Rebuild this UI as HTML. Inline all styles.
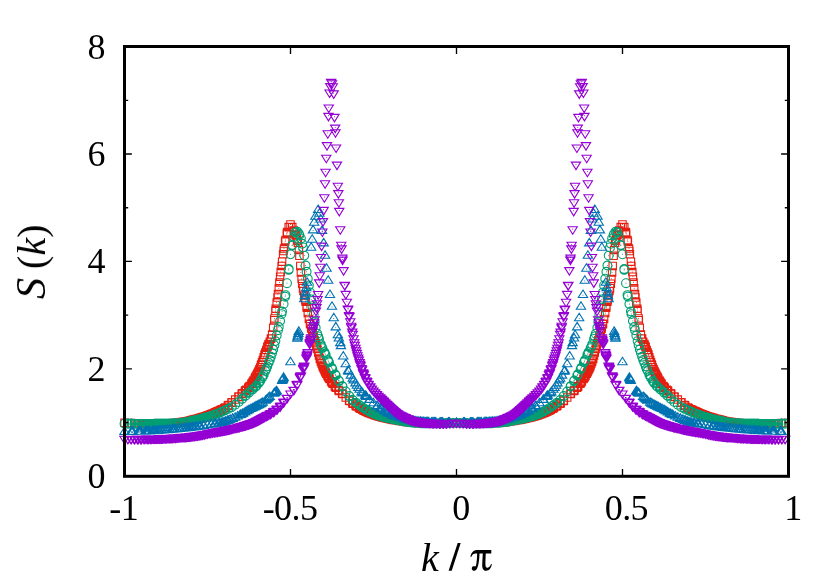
<!DOCTYPE html>
<html><head><meta charset="utf-8"><title>S(k)</title>
<style>
html,body{margin:0;padding:0;background:#fff;}
svg{display:block}
text{font-family:"Liberation Serif",serif;fill:#000}
</style></head><body>
<svg width="830" height="581" viewBox="0 0 830 581">
<rect x="0" y="0" width="830" height="581" fill="#fff"/>
<g id="data">
<path d="M120.8 419.1h7.4v7.4h-7.4zM124.1 419.3h7.4v7.4h-7.4zM124.2 419.3h7.4v7.4h-7.4zM124.3 419.3h7.4v7.4h-7.4zM124.4 419.3h7.4v7.4h-7.4zM124.5 419.3h7.4v7.4h-7.4zM127.3 419.4h7.4v7.4h-7.4zM127.5 419.4h7.4v7.4h-7.4zM127.7 419.5h7.4v7.4h-7.4zM127.9 419.5h7.4v7.4h-7.4zM128.2 419.5h7.4v7.4h-7.4zM130.6 419.6h7.4v7.4h-7.4zM130.9 419.6h7.4v7.4h-7.4zM131.2 419.6h7.4v7.4h-7.4zM131.5 419.6h7.4v7.4h-7.4zM131.9 419.6h7.4v7.4h-7.4zM133.8 419.7h7.4v7.4h-7.4zM134.2 419.7h7.4v7.4h-7.4zM134.6 419.7h7.4v7.4h-7.4zM135.1 419.7h7.4v7.4h-7.4zM135.6 419.7h7.4v7.4h-7.4zM137.1 419.8h7.4v7.4h-7.4zM137.6 419.8h7.4v7.4h-7.4zM138.1 419.8h7.4v7.4h-7.4zM138.6 419.8h7.4v7.4h-7.4zM139.2 419.8h7.4v7.4h-7.4zM140.3 419.8h7.4v7.4h-7.4zM140.9 419.8h7.4v7.4h-7.4zM141.5 419.8h7.4v7.4h-7.4zM142.2 419.8h7.4v7.4h-7.4zM142.9 419.8h7.4v7.4h-7.4zM143.6 419.8h7.4v7.4h-7.4zM144.3 419.8h7.4v7.4h-7.4zM145 419.8h7.4v7.4h-7.4zM145.8 419.8h7.4v7.4h-7.4zM146.6 419.8h7.4v7.4h-7.4zM146.8 419.8h7.4v7.4h-7.4zM147.6 419.8h7.4v7.4h-7.4zM148.5 419.8h7.4v7.4h-7.4zM149.4 419.8h7.4v7.4h-7.4zM150.1 419.8h7.4v7.4h-7.4zM150.3 419.8h7.4v7.4h-7.4zM151 419.8h7.4v7.4h-7.4zM151.9 419.8h7.4v7.4h-7.4zM152.9 419.8h7.4v7.4h-7.4zM153.3 419.8h7.4v7.4h-7.4zM154 419.8h7.4v7.4h-7.4zM154.3 419.8h7.4v7.4h-7.4zM155.4 419.8h7.4v7.4h-7.4zM156.5 419.8h7.4v7.4h-7.4zM156.6 419.8h7.4v7.4h-7.4zM157.7 419.8h7.4v7.4h-7.4zM158.8 419.8h7.4v7.4h-7.4zM159.9 419.8h7.4v7.4h-7.4zM160.1 419.8h7.4v7.4h-7.4zM161 419.8h7.4v7.4h-7.4zM161.4 419.8h7.4v7.4h-7.4zM162.3 419.8h7.4v7.4h-7.4zM163.1 419.8h7.4v7.4h-7.4zM163.6 419.7h7.4v7.4h-7.4zM164.4 419.7h7.4v7.4h-7.4zM165.1 419.7h7.4v7.4h-7.4zM165.8 419.6h7.4v7.4h-7.4zM166.4 419.6h7.4v7.4h-7.4zM167.2 419.5h7.4v7.4h-7.4zM167.7 419.5h7.4v7.4h-7.4zM168.8 419.4h7.4v7.4h-7.4zM169.2 419.4h7.4v7.4h-7.4zM169.6 419.3h7.4v7.4h-7.4zM170.8 419.2h7.4v7.4h-7.4zM171.1 419.2h7.4v7.4h-7.4zM172.4 419h7.4v7.4h-7.4zM172.7 419h7.4v7.4h-7.4zM172.9 419h7.4v7.4h-7.4zM174.3 418.8h7.4v7.4h-7.4zM174.5 418.8h7.4v7.4h-7.4zM176.1 418.6h7.4v7.4h-7.4zM177.8 418.4h7.4v7.4h-7.4zM177.9 418.4h7.4v7.4h-7.4zM179.4 418.2h7.4v7.4h-7.4zM179.6 418.1h7.4v7.4h-7.4zM179.8 418.1h7.4v7.4h-7.4zM181.2 417.9h7.4v7.4h-7.4zM181.5 417.9h7.4v7.4h-7.4zM182.6 417.7h7.4v7.4h-7.4zM183.1 417.6h7.4v7.4h-7.4zM183.5 417.5h7.4v7.4h-7.4zM184.5 417.3h7.4v7.4h-7.4zM185.1 417.2h7.4v7.4h-7.4zM185.9 417h7.4v7.4h-7.4zM186.5 416.8h7.4v7.4h-7.4zM187.2 416.6h7.4v7.4h-7.4zM187.9 416.5h7.4v7.4h-7.4zM188.6 416.3h7.4v7.4h-7.4zM189.2 416.1h7.4v7.4h-7.4zM190 415.9h7.4v7.4h-7.4zM190.9 415.7h7.4v7.4h-7.4zM191.2 415.6h7.4v7.4h-7.4zM192.2 415.3h7.4v7.4h-7.4zM192.4 415.3h7.4v7.4h-7.4zM193.4 415h7.4v7.4h-7.4zM194.6 414.7h7.4v7.4h-7.4zM195.7 414.4h7.4v7.4h-7.4zM195.8 414.4h7.4v7.4h-7.4zM196.9 414h7.4v7.4h-7.4zM197.9 413.7h7.4v7.4h-7.4zM198.3 413.6h7.4v7.4h-7.4zM198.9 413.5h7.4v7.4h-7.4zM199.3 413.3h7.4v7.4h-7.4zM200.3 413h7.4v7.4h-7.4zM201.3 412.7h7.4v7.4h-7.4zM202 412.5h7.4v7.4h-7.4zM202.2 412.5h7.4v7.4h-7.4zM202.9 412.2h7.4v7.4h-7.4zM203.8 411.9h7.4v7.4h-7.4zM204.6 411.6h7.4v7.4h-7.4zM205.4 411.3h7.4v7.4h-7.4zM205.6 411.3h7.4v7.4h-7.4zM206.5 410.9h7.4v7.4h-7.4zM207.3 410.6h7.4v7.4h-7.4zM208 410.3h7.4v7.4h-7.4zM208.7 410h7.4v7.4h-7.4zM209.3 409.8h7.4v7.4h-7.4zM210 409.5h7.4v7.4h-7.4zM210.7 409.2h7.4v7.4h-7.4zM211.3 408.9h7.4v7.4h-7.4zM211.9 408.6h7.4v7.4h-7.4zM213 408.1h7.4v7.4h-7.4zM213.6 407.8h7.4v7.4h-7.4zM214.2 407.6h7.4v7.4h-7.4zM214.7 407.3h7.4v7.4h-7.4zM215.2 407.1h7.4v7.4h-7.4zM216.7 406.4h7.4v7.4h-7.4zM217.2 406.2h7.4v7.4h-7.4zM217.6 406h7.4v7.4h-7.4zM218.1 405.8h7.4v7.4h-7.4zM218.4 405.6h7.4v7.4h-7.4zM220.4 404.6h7.4v7.4h-7.4zM220.8 404.4h7.4v7.4h-7.4zM221.1 404.2h7.4v7.4h-7.4zM221.4 404h7.4v7.4h-7.4zM221.7 403.8h7.4v7.4h-7.4zM224.1 402h7.4v7.4h-7.4zM224.3 401.8h7.4v7.4h-7.4zM224.5 401.6h7.4v7.4h-7.4zM224.8 401.5h7.4v7.4h-7.4zM225 401.3h7.4v7.4h-7.4zM227.8 399h7.4v7.4h-7.4zM227.9 398.9h7.4v7.4h-7.4zM228 398.8h7.4v7.4h-7.4zM228.1 398.7h7.4v7.4h-7.4zM228.2 398.6h7.4v7.4h-7.4zM231.5 395.9h7.4v7.4h-7.4zM234.7 393.2h7.4v7.4h-7.4zM234.8 393.1h7.4v7.4h-7.4zM234.9 393h7.4v7.4h-7.4zM235 392.9h7.4v7.4h-7.4zM235.2 392.8h7.4v7.4h-7.4zM238 390.3h7.4v7.4h-7.4zM238.2 390.2h7.4v7.4h-7.4zM238.4 390h7.4v7.4h-7.4zM238.6 389.8h7.4v7.4h-7.4zM238.8 389.6h7.4v7.4h-7.4zM241.2 387.4h7.4v7.4h-7.4zM241.5 387.1h7.4v7.4h-7.4zM241.8 386.8h7.4v7.4h-7.4zM242.2 386.5h7.4v7.4h-7.4zM242.5 386.1h7.4v7.4h-7.4zM244.5 384.2h7.4v7.4h-7.4zM244.9 383.8h7.4v7.4h-7.4zM245.3 383.4h7.4v7.4h-7.4zM245.7 382.9h7.4v7.4h-7.4zM246.2 382.3h7.4v7.4h-7.4zM247.7 380.3h7.4v7.4h-7.4zM248.2 379.6h7.4v7.4h-7.4zM248.8 378.8h7.4v7.4h-7.4zM249.3 377.9h7.4v7.4h-7.4zM249.9 376.9h7.4v7.4h-7.4zM251 375h7.4v7.4h-7.4zM251.6 373.9h7.4v7.4h-7.4zM252.2 372.7h7.4v7.4h-7.4zM252.9 371.4h7.4v7.4h-7.4zM253.6 370h7.4v7.4h-7.4zM254.3 368.7h7.4v7.4h-7.4zM254.9 367.2h7.4v7.4h-7.4zM255.7 365.5h7.4v7.4h-7.4zM256.5 363.7h7.4v7.4h-7.4zM257.3 361.5h7.4v7.4h-7.4zM257.5 360.9h7.4v7.4h-7.4zM258.3 358.6h7.4v7.4h-7.4zM259.1 356.2h7.4v7.4h-7.4zM260 353.6h7.4v7.4h-7.4zM260.8 351.4h7.4v7.4h-7.4zM261 350.8h7.4v7.4h-7.4zM261.6 348.9h7.4v7.4h-7.4zM262.6 346.2h7.4v7.4h-7.4zM263.6 343.5h7.4v7.4h-7.4zM264 342.6h7.4v7.4h-7.4zM264.7 341.1h7.4v7.4h-7.4zM265 340.4h7.4v7.4h-7.4zM266.1 338h7.4v7.4h-7.4zM267.2 335h7.4v7.4h-7.4zM267.3 334.7h7.4v7.4h-7.4zM268.4 330.9h7.4v7.4h-7.4zM269.5 324.1h7.4v7.4h-7.4zM270.5 316.5h7.4v7.4h-7.4zM270.7 314.7h7.4v7.4h-7.4zM271.7 307.4h7.4v7.4h-7.4zM272 305h7.4v7.4h-7.4zM273 298.9h7.4v7.4h-7.4zM273.8 293.8h7.4v7.4h-7.4zM274.3 290.4h7.4v7.4h-7.4zM275.1 284.6h7.4v7.4h-7.4zM275.7 278.7h7.4v7.4h-7.4zM276.4 273h7.4v7.4h-7.4zM277 268.4h7.4v7.4h-7.4zM277.9 262.2h7.4v7.4h-7.4zM278.4 258h7.4v7.4h-7.4zM279.4 250.5h7.4v7.4h-7.4zM279.9 247.3h7.4v7.4h-7.4zM280.3 244.7h7.4v7.4h-7.4zM281.4 238h7.4v7.4h-7.4zM281.8 236.3h7.4v7.4h-7.4zM283.1 230.2h7.4v7.4h-7.4zM283.3 229.2h7.4v7.4h-7.4zM283.5 228.4h7.4v7.4h-7.4zM285 223.5h7.4v7.4h-7.4zM285.1 223.3h7.4v7.4h-7.4zM286.8 220.8h7.4v7.4h-7.4zM288.5 223.3h7.4v7.4h-7.4zM288.6 223.5h7.4v7.4h-7.4zM290.1 226.9h7.4v7.4h-7.4zM290.3 227.5h7.4v7.4h-7.4zM290.5 228h7.4v7.4h-7.4zM291.8 231.1h7.4v7.4h-7.4zM292.2 231.9h7.4v7.4h-7.4zM293.3 235.5h7.4v7.4h-7.4zM293.7 237h7.4v7.4h-7.4zM294.2 239h7.4v7.4h-7.4zM295.2 246.2h7.4v7.4h-7.4zM295.7 252.1h7.4v7.4h-7.4zM296.6 262.2h7.4v7.4h-7.4zM297.2 268.7h7.4v7.4h-7.4zM297.9 275.2h7.4v7.4h-7.4zM298.5 280h7.4v7.4h-7.4zM299.3 284.5h7.4v7.4h-7.4zM299.8 287.4h7.4v7.4h-7.4zM300.6 291.7h7.4v7.4h-7.4zM301.6 296.3h7.4v7.4h-7.4zM301.9 298h7.4v7.4h-7.4zM302.9 303h7.4v7.4h-7.4zM303.1 304.1h7.4v7.4h-7.4zM304.1 309.3h7.4v7.4h-7.4zM305.2 315.2h7.4v7.4h-7.4zM306.3 320h7.4v7.4h-7.4zM306.4 320.5h7.4v7.4h-7.4zM307.5 324.8h7.4v7.4h-7.4zM308.6 328.6h7.4v7.4h-7.4zM308.9 329.8h7.4v7.4h-7.4zM309.6 332h7.4v7.4h-7.4zM310 333.3h7.4v7.4h-7.4zM311 336.5h7.4v7.4h-7.4zM312 339.5h7.4v7.4h-7.4zM312.6 341.7h7.4v7.4h-7.4zM312.8 342.5h7.4v7.4h-7.4zM313.6 345.2h7.4v7.4h-7.4zM314.5 348.7h7.4v7.4h-7.4zM315.3 351.9h7.4v7.4h-7.4zM316.1 354.7h7.4v7.4h-7.4zM316.3 355.3h7.4v7.4h-7.4zM317.1 357.8h7.4v7.4h-7.4zM317.9 359.9h7.4v7.4h-7.4zM318.7 361.8h7.4v7.4h-7.4zM319.3 363.5h7.4v7.4h-7.4zM320 364.9h7.4v7.4h-7.4zM320.7 366.4h7.4v7.4h-7.4zM321.4 367.8h7.4v7.4h-7.4zM322 368.9h7.4v7.4h-7.4zM322.6 370h7.4v7.4h-7.4zM323.7 371.8h7.4v7.4h-7.4zM324.3 372.8h7.4v7.4h-7.4zM324.8 373.7h7.4v7.4h-7.4zM325.4 374.5h7.4v7.4h-7.4zM325.9 375.3h7.4v7.4h-7.4zM327.4 377.6h7.4v7.4h-7.4zM327.9 378.3h7.4v7.4h-7.4zM328.3 378.9h7.4v7.4h-7.4zM328.7 379.5h7.4v7.4h-7.4zM329.1 380h7.4v7.4h-7.4zM331.1 382.6h7.4v7.4h-7.4zM331.4 383h7.4v7.4h-7.4zM331.8 383.4h7.4v7.4h-7.4zM332.1 383.8h7.4v7.4h-7.4zM332.4 384.1h7.4v7.4h-7.4zM334.8 386.5h7.4v7.4h-7.4zM335 386.7h7.4v7.4h-7.4zM335.2 386.9h7.4v7.4h-7.4zM335.4 387h7.4v7.4h-7.4zM335.6 387.2h7.4v7.4h-7.4zM338.4 389.9h7.4v7.4h-7.4zM338.6 390.1h7.4v7.4h-7.4zM338.7 390.2h7.4v7.4h-7.4zM338.8 390.3h7.4v7.4h-7.4zM338.9 390.4h7.4v7.4h-7.4zM342.1 393.8h7.4v7.4h-7.4zM345.4 396.9h7.4v7.4h-7.4zM345.5 396.9h7.4v7.4h-7.4zM345.6 397h7.4v7.4h-7.4zM345.7 397.1h7.4v7.4h-7.4zM345.8 397.2h7.4v7.4h-7.4zM348.6 399.5h7.4v7.4h-7.4zM348.8 399.6h7.4v7.4h-7.4zM349.1 399.8h7.4v7.4h-7.4zM349.3 400h7.4v7.4h-7.4zM349.5 400.1h7.4v7.4h-7.4zM351.9 401.8h7.4v7.4h-7.4zM352.2 402h7.4v7.4h-7.4zM352.5 402.3h7.4v7.4h-7.4zM352.8 402.5h7.4v7.4h-7.4zM353.2 402.7h7.4v7.4h-7.4zM355.2 403.9h7.4v7.4h-7.4zM355.5 404.2h7.4v7.4h-7.4zM356 404.4h7.4v7.4h-7.4zM356.4 404.7h7.4v7.4h-7.4zM356.9 405h7.4v7.4h-7.4zM358.4 405.9h7.4v7.4h-7.4zM358.9 406.1h7.4v7.4h-7.4zM359.4 406.4h7.4v7.4h-7.4zM360 406.7h7.4v7.4h-7.4zM360.6 407h7.4v7.4h-7.4zM361.7 407.6h7.4v7.4h-7.4zM362.3 407.8h7.4v7.4h-7.4zM362.9 408.1h7.4v7.4h-7.4zM363.6 408.4h7.4v7.4h-7.4zM364.3 408.7h7.4v7.4h-7.4zM364.9 409h7.4v7.4h-7.4zM365.6 409.3h7.4v7.4h-7.4zM366.3 409.6h7.4v7.4h-7.4zM367.1 409.9h7.4v7.4h-7.4zM368 410.2h7.4v7.4h-7.4zM368.2 410.3h7.4v7.4h-7.4zM369 410.6h7.4v7.4h-7.4zM369.8 410.9h7.4v7.4h-7.4zM370.7 411.2h7.4v7.4h-7.4zM371.4 411.4h7.4v7.4h-7.4zM371.6 411.5h7.4v7.4h-7.4zM372.3 411.7h7.4v7.4h-7.4zM373.3 412.1h7.4v7.4h-7.4zM374.3 412.4h7.4v7.4h-7.4zM374.7 412.5h7.4v7.4h-7.4zM375.3 412.7h7.4v7.4h-7.4zM375.7 412.8h7.4v7.4h-7.4zM376.7 413.1h7.4v7.4h-7.4zM377.8 413.4h7.4v7.4h-7.4zM377.9 413.5h7.4v7.4h-7.4zM379 413.8h7.4v7.4h-7.4zM380.2 414h7.4v7.4h-7.4zM381.2 414.3h7.4v7.4h-7.4zM381.4 414.3h7.4v7.4h-7.4zM382.4 414.6h7.4v7.4h-7.4zM382.7 414.6h7.4v7.4h-7.4zM383.6 414.9h7.4v7.4h-7.4zM384.4 415h7.4v7.4h-7.4zM385 415.1h7.4v7.4h-7.4zM385.7 415.3h7.4v7.4h-7.4zM386.4 415.4h7.4v7.4h-7.4zM387.1 415.6h7.4v7.4h-7.4zM387.7 415.7h7.4v7.4h-7.4zM388.5 415.9h7.4v7.4h-7.4zM389.1 416h7.4v7.4h-7.4zM390.1 416.2h7.4v7.4h-7.4zM390.5 416.3h7.4v7.4h-7.4zM391 416.3h7.4v7.4h-7.4zM392.1 416.5h7.4v7.4h-7.4zM392.4 416.6h7.4v7.4h-7.4zM393.8 416.8h7.4v7.4h-7.4zM394 416.9h7.4v7.4h-7.4zM394.2 416.9h7.4v7.4h-7.4zM395.7 417.2h7.4v7.4h-7.4zM395.8 417.2h7.4v7.4h-7.4zM397.5 417.4h7.4v7.4h-7.4zM399.1 417.7h7.4v7.4h-7.4zM399.3 417.7h7.4v7.4h-7.4zM400.7 417.9h7.4v7.4h-7.4zM400.9 417.9h7.4v7.4h-7.4zM401.2 418h7.4v7.4h-7.4zM402.5 418.2h7.4v7.4h-7.4zM402.8 418.2h7.4v7.4h-7.4zM404 418.4h7.4v7.4h-7.4zM404.4 418.4h7.4v7.4h-7.4zM404.8 418.5h7.4v7.4h-7.4zM405.9 418.6h7.4v7.4h-7.4zM406.4 418.6h7.4v7.4h-7.4zM407.2 418.7h7.4v7.4h-7.4zM407.8 418.8h7.4v7.4h-7.4zM408.5 418.8h7.4v7.4h-7.4zM409.2 418.9h7.4v7.4h-7.4zM410 418.9h7.4v7.4h-7.4zM410.5 419h7.4v7.4h-7.4zM411.3 419h7.4v7.4h-7.4zM412.2 419.1h7.4v7.4h-7.4zM412.6 419.1h7.4v7.4h-7.4zM413.5 419.2h7.4v7.4h-7.4zM413.7 419.2h7.4v7.4h-7.4zM414.8 419.2h7.4v7.4h-7.4zM415.9 419.3h7.4v7.4h-7.4zM417 419.4h7.4v7.4h-7.4zM417.1 419.4h7.4v7.4h-7.4zM418.2 419.4h7.4v7.4h-7.4zM419.3 419.5h7.4v7.4h-7.4zM419.6 419.5h7.4v7.4h-7.4zM420.3 419.5h7.4v7.4h-7.4zM420.7 419.5h7.4v7.4h-7.4zM421.7 419.5h7.4v7.4h-7.4zM422.6 419.5h7.4v7.4h-7.4zM423.3 419.5h7.4v7.4h-7.4zM423.5 419.5h7.4v7.4h-7.4zM424.2 419.5h7.4v7.4h-7.4zM425.1 419.5h7.4v7.4h-7.4zM426 419.5h7.4v7.4h-7.4zM426.8 419.5h7.4v7.4h-7.4zM427 419.5h7.4v7.4h-7.4zM427.8 419.5h7.4v7.4h-7.4zM428.6 419.5h7.4v7.4h-7.4zM429.3 419.5h7.4v7.4h-7.4zM430 419.5h7.4v7.4h-7.4zM430.7 419.5h7.4v7.4h-7.4zM431.4 419.5h7.4v7.4h-7.4zM432.1 419.5h7.4v7.4h-7.4zM432.7 419.5h7.4v7.4h-7.4zM433.3 419.5h7.4v7.4h-7.4zM434.4 419.5h7.4v7.4h-7.4zM435 419.5h7.4v7.4h-7.4zM435.5 419.5h7.4v7.4h-7.4zM436 419.5h7.4v7.4h-7.4zM436.5 419.5h7.4v7.4h-7.4zM438 419.5h7.4v7.4h-7.4zM438.5 419.5h7.4v7.4h-7.4zM439 419.5h7.4v7.4h-7.4zM439.4 419.5h7.4v7.4h-7.4zM439.8 419.5h7.4v7.4h-7.4zM441.7 419.5h7.4v7.4h-7.4zM442.1 419.5h7.4v7.4h-7.4zM442.4 419.5h7.4v7.4h-7.4zM442.7 419.5h7.4v7.4h-7.4zM443 419.5h7.4v7.4h-7.4zM445.4 419.4h7.4v7.4h-7.4zM445.7 419.4h7.4v7.4h-7.4zM445.9 419.4h7.4v7.4h-7.4zM446.1 419.4h7.4v7.4h-7.4zM446.3 419.4h7.4v7.4h-7.4zM449.1 419.4h7.4v7.4h-7.4zM449.2 419.4h7.4v7.4h-7.4zM449.3 419.4h7.4v7.4h-7.4zM449.4 419.4h7.4v7.4h-7.4zM449.5 419.4h7.4v7.4h-7.4zM452.8 419.3h7.4v7.4h-7.4zM456.1 419.4h7.4v7.4h-7.4zM456.2 419.4h7.4v7.4h-7.4zM456.3 419.4h7.4v7.4h-7.4zM456.4 419.4h7.4v7.4h-7.4zM456.5 419.4h7.4v7.4h-7.4zM459.3 419.4h7.4v7.4h-7.4zM459.5 419.4h7.4v7.4h-7.4zM459.7 419.4h7.4v7.4h-7.4zM459.9 419.4h7.4v7.4h-7.4zM460.2 419.4h7.4v7.4h-7.4zM462.6 419.5h7.4v7.4h-7.4zM462.9 419.5h7.4v7.4h-7.4zM463.2 419.5h7.4v7.4h-7.4zM463.5 419.5h7.4v7.4h-7.4zM463.9 419.5h7.4v7.4h-7.4zM465.8 419.5h7.4v7.4h-7.4zM466.2 419.5h7.4v7.4h-7.4zM466.6 419.5h7.4v7.4h-7.4zM467.1 419.5h7.4v7.4h-7.4zM467.6 419.5h7.4v7.4h-7.4zM469.1 419.5h7.4v7.4h-7.4zM469.6 419.5h7.4v7.4h-7.4zM470.1 419.5h7.4v7.4h-7.4zM470.6 419.5h7.4v7.4h-7.4zM471.2 419.5h7.4v7.4h-7.4zM472.3 419.5h7.4v7.4h-7.4zM472.9 419.5h7.4v7.4h-7.4zM473.5 419.5h7.4v7.4h-7.4zM474.2 419.5h7.4v7.4h-7.4zM474.9 419.5h7.4v7.4h-7.4zM475.6 419.5h7.4v7.4h-7.4zM476.3 419.5h7.4v7.4h-7.4zM477 419.5h7.4v7.4h-7.4zM477.8 419.5h7.4v7.4h-7.4zM478.6 419.5h7.4v7.4h-7.4zM478.8 419.5h7.4v7.4h-7.4zM479.6 419.5h7.4v7.4h-7.4zM480.5 419.5h7.4v7.4h-7.4zM481.4 419.5h7.4v7.4h-7.4zM482.1 419.5h7.4v7.4h-7.4zM482.3 419.5h7.4v7.4h-7.4zM483 419.5h7.4v7.4h-7.4zM483.9 419.5h7.4v7.4h-7.4zM484.9 419.5h7.4v7.4h-7.4zM485.3 419.5h7.4v7.4h-7.4zM486 419.5h7.4v7.4h-7.4zM486.3 419.5h7.4v7.4h-7.4zM487.4 419.4h7.4v7.4h-7.4zM488.5 419.4h7.4v7.4h-7.4zM488.6 419.4h7.4v7.4h-7.4zM489.7 419.3h7.4v7.4h-7.4zM490.8 419.2h7.4v7.4h-7.4zM491.9 419.2h7.4v7.4h-7.4zM492.1 419.2h7.4v7.4h-7.4zM493 419.1h7.4v7.4h-7.4zM493.4 419.1h7.4v7.4h-7.4zM494.3 419h7.4v7.4h-7.4zM495.1 419h7.4v7.4h-7.4zM495.6 418.9h7.4v7.4h-7.4zM496.4 418.9h7.4v7.4h-7.4zM497.1 418.8h7.4v7.4h-7.4zM497.8 418.8h7.4v7.4h-7.4zM498.4 418.7h7.4v7.4h-7.4zM499.2 418.6h7.4v7.4h-7.4zM499.7 418.6h7.4v7.4h-7.4zM500.8 418.5h7.4v7.4h-7.4zM501.2 418.4h7.4v7.4h-7.4zM501.6 418.4h7.4v7.4h-7.4zM502.8 418.2h7.4v7.4h-7.4zM503.1 418.2h7.4v7.4h-7.4zM504.4 418h7.4v7.4h-7.4zM504.7 417.9h7.4v7.4h-7.4zM504.9 417.9h7.4v7.4h-7.4zM506.3 417.7h7.4v7.4h-7.4zM506.5 417.7h7.4v7.4h-7.4zM508.1 417.4h7.4v7.4h-7.4zM509.8 417.2h7.4v7.4h-7.4zM509.9 417.2h7.4v7.4h-7.4zM511.4 416.9h7.4v7.4h-7.4zM511.6 416.9h7.4v7.4h-7.4zM511.8 416.8h7.4v7.4h-7.4zM513.2 416.6h7.4v7.4h-7.4zM513.5 416.5h7.4v7.4h-7.4zM514.6 416.3h7.4v7.4h-7.4zM515.1 416.3h7.4v7.4h-7.4zM515.5 416.2h7.4v7.4h-7.4zM516.5 416h7.4v7.4h-7.4zM517.1 415.9h7.4v7.4h-7.4zM517.9 415.7h7.4v7.4h-7.4zM518.5 415.6h7.4v7.4h-7.4zM519.2 415.4h7.4v7.4h-7.4zM519.9 415.3h7.4v7.4h-7.4zM520.6 415.1h7.4v7.4h-7.4zM521.2 415h7.4v7.4h-7.4zM522 414.9h7.4v7.4h-7.4zM522.9 414.6h7.4v7.4h-7.4zM523.2 414.6h7.4v7.4h-7.4zM524.2 414.3h7.4v7.4h-7.4zM524.4 414.3h7.4v7.4h-7.4zM525.4 414h7.4v7.4h-7.4zM526.6 413.8h7.4v7.4h-7.4zM527.7 413.5h7.4v7.4h-7.4zM527.8 413.4h7.4v7.4h-7.4zM528.9 413.1h7.4v7.4h-7.4zM529.9 412.8h7.4v7.4h-7.4zM530.3 412.7h7.4v7.4h-7.4zM530.9 412.5h7.4v7.4h-7.4zM531.3 412.4h7.4v7.4h-7.4zM532.3 412.1h7.4v7.4h-7.4zM533.3 411.7h7.4v7.4h-7.4zM534 411.5h7.4v7.4h-7.4zM534.2 411.4h7.4v7.4h-7.4zM534.9 411.2h7.4v7.4h-7.4zM535.8 410.9h7.4v7.4h-7.4zM536.6 410.6h7.4v7.4h-7.4zM537.4 410.3h7.4v7.4h-7.4zM537.6 410.2h7.4v7.4h-7.4zM538.5 409.9h7.4v7.4h-7.4zM539.3 409.6h7.4v7.4h-7.4zM540 409.3h7.4v7.4h-7.4zM540.7 409h7.4v7.4h-7.4zM541.3 408.7h7.4v7.4h-7.4zM542 408.4h7.4v7.4h-7.4zM542.7 408.1h7.4v7.4h-7.4zM543.3 407.8h7.4v7.4h-7.4zM543.9 407.6h7.4v7.4h-7.4zM545 407h7.4v7.4h-7.4zM545.6 406.7h7.4v7.4h-7.4zM546.2 406.4h7.4v7.4h-7.4zM546.7 406.1h7.4v7.4h-7.4zM547.2 405.9h7.4v7.4h-7.4zM548.7 405h7.4v7.4h-7.4zM549.2 404.7h7.4v7.4h-7.4zM549.6 404.4h7.4v7.4h-7.4zM550.1 404.2h7.4v7.4h-7.4zM550.4 403.9h7.4v7.4h-7.4zM552.4 402.7h7.4v7.4h-7.4zM552.8 402.5h7.4v7.4h-7.4zM553.1 402.3h7.4v7.4h-7.4zM553.4 402h7.4v7.4h-7.4zM553.7 401.8h7.4v7.4h-7.4zM556.1 400.1h7.4v7.4h-7.4zM556.3 400h7.4v7.4h-7.4zM556.5 399.8h7.4v7.4h-7.4zM556.8 399.6h7.4v7.4h-7.4zM557 399.5h7.4v7.4h-7.4zM559.8 397.2h7.4v7.4h-7.4zM559.9 397.1h7.4v7.4h-7.4zM560 397h7.4v7.4h-7.4zM560.1 396.9h7.4v7.4h-7.4zM560.2 396.9h7.4v7.4h-7.4zM563.5 393.8h7.4v7.4h-7.4zM566.7 390.4h7.4v7.4h-7.4zM566.8 390.3h7.4v7.4h-7.4zM566.9 390.2h7.4v7.4h-7.4zM567 390.1h7.4v7.4h-7.4zM567.2 389.9h7.4v7.4h-7.4zM570 387.2h7.4v7.4h-7.4zM570.2 387h7.4v7.4h-7.4zM570.4 386.9h7.4v7.4h-7.4zM570.6 386.7h7.4v7.4h-7.4zM570.8 386.5h7.4v7.4h-7.4zM573.2 384.1h7.4v7.4h-7.4zM573.5 383.8h7.4v7.4h-7.4zM573.8 383.4h7.4v7.4h-7.4zM574.2 383h7.4v7.4h-7.4zM574.5 382.6h7.4v7.4h-7.4zM576.5 380h7.4v7.4h-7.4zM576.9 379.5h7.4v7.4h-7.4zM577.3 378.9h7.4v7.4h-7.4zM577.7 378.3h7.4v7.4h-7.4zM578.2 377.6h7.4v7.4h-7.4zM579.7 375.3h7.4v7.4h-7.4zM580.2 374.5h7.4v7.4h-7.4zM580.8 373.7h7.4v7.4h-7.4zM581.3 372.8h7.4v7.4h-7.4zM581.9 371.8h7.4v7.4h-7.4zM583 370h7.4v7.4h-7.4zM583.6 368.9h7.4v7.4h-7.4zM584.2 367.8h7.4v7.4h-7.4zM584.9 366.4h7.4v7.4h-7.4zM585.6 364.9h7.4v7.4h-7.4zM586.3 363.5h7.4v7.4h-7.4zM586.9 361.8h7.4v7.4h-7.4zM587.7 359.9h7.4v7.4h-7.4zM588.5 357.8h7.4v7.4h-7.4zM589.3 355.3h7.4v7.4h-7.4zM589.5 354.7h7.4v7.4h-7.4zM590.3 351.9h7.4v7.4h-7.4zM591.1 348.7h7.4v7.4h-7.4zM592 345.2h7.4v7.4h-7.4zM592.8 342.5h7.4v7.4h-7.4zM593 341.7h7.4v7.4h-7.4zM593.6 339.5h7.4v7.4h-7.4zM594.6 336.5h7.4v7.4h-7.4zM595.6 333.3h7.4v7.4h-7.4zM596 332h7.4v7.4h-7.4zM596.7 329.8h7.4v7.4h-7.4zM597 328.6h7.4v7.4h-7.4zM598.1 324.8h7.4v7.4h-7.4zM599.2 320.5h7.4v7.4h-7.4zM599.3 320h7.4v7.4h-7.4zM600.4 315.2h7.4v7.4h-7.4zM601.5 309.3h7.4v7.4h-7.4zM602.5 304.1h7.4v7.4h-7.4zM602.7 303h7.4v7.4h-7.4zM603.7 298h7.4v7.4h-7.4zM604 296.3h7.4v7.4h-7.4zM605 291.7h7.4v7.4h-7.4zM605.8 287.4h7.4v7.4h-7.4zM606.3 284.5h7.4v7.4h-7.4zM607.1 280h7.4v7.4h-7.4zM607.7 275.2h7.4v7.4h-7.4zM608.4 268.7h7.4v7.4h-7.4zM609 262.2h7.4v7.4h-7.4zM609.9 252.1h7.4v7.4h-7.4zM610.4 246.2h7.4v7.4h-7.4zM611.4 239h7.4v7.4h-7.4zM611.9 237h7.4v7.4h-7.4zM612.3 235.5h7.4v7.4h-7.4zM613.4 231.9h7.4v7.4h-7.4zM613.8 231.1h7.4v7.4h-7.4zM615.1 228h7.4v7.4h-7.4zM615.3 227.5h7.4v7.4h-7.4zM615.5 226.9h7.4v7.4h-7.4zM617 223.5h7.4v7.4h-7.4zM617.1 223.3h7.4v7.4h-7.4zM618.8 220.8h7.4v7.4h-7.4zM620.5 223.3h7.4v7.4h-7.4zM620.6 223.5h7.4v7.4h-7.4zM622.1 228.4h7.4v7.4h-7.4zM622.3 229.2h7.4v7.4h-7.4zM622.5 230.2h7.4v7.4h-7.4zM623.8 236.3h7.4v7.4h-7.4zM624.2 238h7.4v7.4h-7.4zM625.3 244.7h7.4v7.4h-7.4zM625.7 247.3h7.4v7.4h-7.4zM626.2 250.5h7.4v7.4h-7.4zM627.2 258h7.4v7.4h-7.4zM627.7 262.2h7.4v7.4h-7.4zM628.6 268.4h7.4v7.4h-7.4zM629.2 273h7.4v7.4h-7.4zM629.9 278.7h7.4v7.4h-7.4zM630.5 284.6h7.4v7.4h-7.4zM631.3 290.4h7.4v7.4h-7.4zM631.8 293.8h7.4v7.4h-7.4zM632.6 298.9h7.4v7.4h-7.4zM633.6 305h7.4v7.4h-7.4zM633.9 307.4h7.4v7.4h-7.4zM634.9 314.7h7.4v7.4h-7.4zM635.1 316.5h7.4v7.4h-7.4zM636.1 324.1h7.4v7.4h-7.4zM637.2 330.9h7.4v7.4h-7.4zM638.3 334.7h7.4v7.4h-7.4zM638.4 335h7.4v7.4h-7.4zM639.5 338h7.4v7.4h-7.4zM640.6 340.4h7.4v7.4h-7.4zM640.9 341.1h7.4v7.4h-7.4zM641.6 342.6h7.4v7.4h-7.4zM642 343.5h7.4v7.4h-7.4zM643 346.2h7.4v7.4h-7.4zM644 348.9h7.4v7.4h-7.4zM644.6 350.8h7.4v7.4h-7.4zM644.8 351.4h7.4v7.4h-7.4zM645.6 353.6h7.4v7.4h-7.4zM646.5 356.2h7.4v7.4h-7.4zM647.3 358.6h7.4v7.4h-7.4zM648.1 360.9h7.4v7.4h-7.4zM648.3 361.5h7.4v7.4h-7.4zM649.1 363.7h7.4v7.4h-7.4zM649.9 365.5h7.4v7.4h-7.4zM650.7 367.2h7.4v7.4h-7.4zM651.3 368.7h7.4v7.4h-7.4zM652 370h7.4v7.4h-7.4zM652.7 371.4h7.4v7.4h-7.4zM653.4 372.7h7.4v7.4h-7.4zM654 373.9h7.4v7.4h-7.4zM654.6 375h7.4v7.4h-7.4zM655.7 376.9h7.4v7.4h-7.4zM656.3 377.9h7.4v7.4h-7.4zM656.8 378.8h7.4v7.4h-7.4zM657.4 379.6h7.4v7.4h-7.4zM657.9 380.3h7.4v7.4h-7.4zM659.4 382.3h7.4v7.4h-7.4zM659.9 382.9h7.4v7.4h-7.4zM660.3 383.4h7.4v7.4h-7.4zM660.7 383.8h7.4v7.4h-7.4zM661.1 384.2h7.4v7.4h-7.4zM663.1 386.1h7.4v7.4h-7.4zM663.4 386.5h7.4v7.4h-7.4zM663.8 386.8h7.4v7.4h-7.4zM664.1 387.1h7.4v7.4h-7.4zM664.4 387.4h7.4v7.4h-7.4zM666.8 389.6h7.4v7.4h-7.4zM667 389.8h7.4v7.4h-7.4zM667.2 390h7.4v7.4h-7.4zM667.4 390.2h7.4v7.4h-7.4zM667.6 390.3h7.4v7.4h-7.4zM670.4 392.8h7.4v7.4h-7.4zM670.6 392.9h7.4v7.4h-7.4zM670.7 393h7.4v7.4h-7.4zM670.8 393.1h7.4v7.4h-7.4zM670.9 393.2h7.4v7.4h-7.4zM674.1 395.9h7.4v7.4h-7.4zM677.4 398.6h7.4v7.4h-7.4zM677.5 398.7h7.4v7.4h-7.4zM677.6 398.8h7.4v7.4h-7.4zM677.7 398.9h7.4v7.4h-7.4zM677.8 399h7.4v7.4h-7.4zM680.6 401.3h7.4v7.4h-7.4zM680.8 401.5h7.4v7.4h-7.4zM681.1 401.6h7.4v7.4h-7.4zM681.3 401.8h7.4v7.4h-7.4zM681.5 402h7.4v7.4h-7.4zM683.9 403.8h7.4v7.4h-7.4zM684.2 404h7.4v7.4h-7.4zM684.5 404.2h7.4v7.4h-7.4zM684.8 404.4h7.4v7.4h-7.4zM685.2 404.6h7.4v7.4h-7.4zM687.2 405.6h7.4v7.4h-7.4zM687.5 405.8h7.4v7.4h-7.4zM688 406h7.4v7.4h-7.4zM688.4 406.2h7.4v7.4h-7.4zM688.9 406.4h7.4v7.4h-7.4zM690.4 407.1h7.4v7.4h-7.4zM690.9 407.3h7.4v7.4h-7.4zM691.4 407.6h7.4v7.4h-7.4zM692 407.8h7.4v7.4h-7.4zM692.6 408.1h7.4v7.4h-7.4zM693.7 408.6h7.4v7.4h-7.4zM694.3 408.9h7.4v7.4h-7.4zM694.9 409.2h7.4v7.4h-7.4zM695.6 409.5h7.4v7.4h-7.4zM696.3 409.8h7.4v7.4h-7.4zM696.9 410h7.4v7.4h-7.4zM697.6 410.3h7.4v7.4h-7.4zM698.3 410.6h7.4v7.4h-7.4zM699.1 410.9h7.4v7.4h-7.4zM700 411.3h7.4v7.4h-7.4zM700.2 411.3h7.4v7.4h-7.4zM701 411.6h7.4v7.4h-7.4zM701.8 411.9h7.4v7.4h-7.4zM702.7 412.2h7.4v7.4h-7.4zM703.4 412.5h7.4v7.4h-7.4zM703.6 412.5h7.4v7.4h-7.4zM704.3 412.7h7.4v7.4h-7.4zM705.3 413h7.4v7.4h-7.4zM706.3 413.3h7.4v7.4h-7.4zM706.7 413.5h7.4v7.4h-7.4zM707.3 413.6h7.4v7.4h-7.4zM707.7 413.7h7.4v7.4h-7.4zM708.7 414h7.4v7.4h-7.4zM709.8 414.4h7.4v7.4h-7.4zM709.9 414.4h7.4v7.4h-7.4zM711 414.7h7.4v7.4h-7.4zM712.2 415h7.4v7.4h-7.4zM713.2 415.3h7.4v7.4h-7.4zM713.4 415.3h7.4v7.4h-7.4zM714.4 415.6h7.4v7.4h-7.4zM714.7 415.7h7.4v7.4h-7.4zM715.6 415.9h7.4v7.4h-7.4zM716.4 416.1h7.4v7.4h-7.4zM717 416.3h7.4v7.4h-7.4zM717.7 416.5h7.4v7.4h-7.4zM718.4 416.6h7.4v7.4h-7.4zM719.1 416.8h7.4v7.4h-7.4zM719.7 417h7.4v7.4h-7.4zM720.5 417.2h7.4v7.4h-7.4zM721.1 417.3h7.4v7.4h-7.4zM722.1 417.5h7.4v7.4h-7.4zM722.5 417.6h7.4v7.4h-7.4zM723 417.7h7.4v7.4h-7.4zM724.1 417.9h7.4v7.4h-7.4zM724.4 417.9h7.4v7.4h-7.4zM725.8 418.1h7.4v7.4h-7.4zM726 418.1h7.4v7.4h-7.4zM726.2 418.2h7.4v7.4h-7.4zM727.7 418.4h7.4v7.4h-7.4zM727.8 418.4h7.4v7.4h-7.4zM729.5 418.6h7.4v7.4h-7.4zM731.1 418.8h7.4v7.4h-7.4zM731.3 418.8h7.4v7.4h-7.4zM732.7 419h7.4v7.4h-7.4zM732.9 419h7.4v7.4h-7.4zM733.2 419h7.4v7.4h-7.4zM734.5 419.2h7.4v7.4h-7.4zM734.8 419.2h7.4v7.4h-7.4zM736 419.3h7.4v7.4h-7.4zM736.4 419.4h7.4v7.4h-7.4zM736.8 419.4h7.4v7.4h-7.4zM737.9 419.5h7.4v7.4h-7.4zM738.4 419.5h7.4v7.4h-7.4zM739.2 419.6h7.4v7.4h-7.4zM739.8 419.6h7.4v7.4h-7.4zM740.5 419.7h7.4v7.4h-7.4zM741.2 419.7h7.4v7.4h-7.4zM742 419.7h7.4v7.4h-7.4zM742.5 419.8h7.4v7.4h-7.4zM743.3 419.8h7.4v7.4h-7.4zM744.2 419.8h7.4v7.4h-7.4zM744.6 419.8h7.4v7.4h-7.4zM745.5 419.8h7.4v7.4h-7.4zM745.7 419.8h7.4v7.4h-7.4zM746.8 419.8h7.4v7.4h-7.4zM747.9 419.8h7.4v7.4h-7.4zM749 419.8h7.4v7.4h-7.4zM749.1 419.8h7.4v7.4h-7.4zM750.2 419.8h7.4v7.4h-7.4zM751.3 419.8h7.4v7.4h-7.4zM751.6 419.8h7.4v7.4h-7.4zM752.3 419.8h7.4v7.4h-7.4zM752.7 419.8h7.4v7.4h-7.4zM753.7 419.8h7.4v7.4h-7.4zM754.6 419.8h7.4v7.4h-7.4zM755.3 419.8h7.4v7.4h-7.4zM755.5 419.8h7.4v7.4h-7.4zM756.2 419.8h7.4v7.4h-7.4zM757.1 419.8h7.4v7.4h-7.4zM758 419.8h7.4v7.4h-7.4zM758.8 419.8h7.4v7.4h-7.4zM759 419.8h7.4v7.4h-7.4zM759.8 419.8h7.4v7.4h-7.4zM760.6 419.8h7.4v7.4h-7.4zM761.3 419.8h7.4v7.4h-7.4zM762 419.8h7.4v7.4h-7.4zM762.7 419.8h7.4v7.4h-7.4zM763.4 419.8h7.4v7.4h-7.4zM764.1 419.8h7.4v7.4h-7.4zM764.7 419.8h7.4v7.4h-7.4zM765.3 419.8h7.4v7.4h-7.4zM766.4 419.8h7.4v7.4h-7.4zM767 419.8h7.4v7.4h-7.4zM767.5 419.8h7.4v7.4h-7.4zM768 419.8h7.4v7.4h-7.4zM768.5 419.8h7.4v7.4h-7.4zM770 419.7h7.4v7.4h-7.4zM770.5 419.7h7.4v7.4h-7.4zM771 419.7h7.4v7.4h-7.4zM771.4 419.7h7.4v7.4h-7.4zM771.8 419.7h7.4v7.4h-7.4zM773.7 419.6h7.4v7.4h-7.4zM774.1 419.6h7.4v7.4h-7.4zM774.4 419.6h7.4v7.4h-7.4zM774.7 419.6h7.4v7.4h-7.4zM775 419.6h7.4v7.4h-7.4zM777.4 419.5h7.4v7.4h-7.4zM777.7 419.5h7.4v7.4h-7.4zM777.9 419.5h7.4v7.4h-7.4zM778.1 419.4h7.4v7.4h-7.4zM778.3 419.4h7.4v7.4h-7.4zM781.1 419.3h7.4v7.4h-7.4zM781.2 419.3h7.4v7.4h-7.4zM781.3 419.3h7.4v7.4h-7.4zM781.4 419.3h7.4v7.4h-7.4zM781.5 419.3h7.4v7.4h-7.4z" fill="none" stroke="#e51e10" stroke-width="1.1" stroke-linejoin="miter"/>
<path d="M124.5 422.8h0M127.8 423h0M127.9 423h0M128 423h0M128.1 423h0M128.2 423h0M131 423.1h0M131.2 423.1h0M131.4 423.2h0M131.6 423.2h0M131.9 423.2h0M134.3 423.3h0M134.6 423.3h0M134.9 423.3h0M135.2 423.3h0M135.6 423.3h0M137.5 423.4h0M137.9 423.4h0M138.3 423.4h0M138.8 423.4h0M139.3 423.4h0M140.8 423.5h0M141.3 423.5h0M141.8 423.5h0M142.3 423.5h0M142.9 423.5h0M144 423.5h0M144.6 423.5h0M145.2 423.5h0M145.9 423.5h0M146.6 423.5h0M147.3 423.5h0M148 423.5h0M148.7 423.5h0M149.5 423.5h0M150.3 423.5h0M150.5 423.5h0M151.3 423.5h0M152.2 423.5h0M153.1 423.5h0M153.8 423.5h0M154 423.5h0M154.7 423.5h0M155.6 423.5h0M156.6 423.5h0M157 423.5h0M157.7 423.5h0M158 423.5h0M159.1 423.5h0M160.2 423.5h0M160.3 423.5h0M161.4 423.5h0M162.5 423.5h0M163.6 423.5h0M163.8 423.5h0M164.7 423.5h0M165.1 423.5h0M166 423.5h0M166.8 423.5h0M167.3 423.4h0M168.1 423.4h0M168.8 423.4h0M169.5 423.3h0M170.1 423.3h0M170.9 423.2h0M171.4 423.2h0M172.5 423.1h0M172.9 423.1h0M173.3 423h0M174.5 422.9h0M174.8 422.9h0M176.1 422.7h0M176.4 422.7h0M176.6 422.7h0M178 422.5h0M178.2 422.5h0M179.8 422.3h0M181.5 422.1h0M181.6 422.1h0M183.1 421.9h0M183.3 421.8h0M183.5 421.8h0M184.9 421.6h0M185.2 421.6h0M186.3 421.4h0M186.8 421.3h0M187.2 421.2h0M188.2 421h0M188.8 420.9h0M189.6 420.7h0M190.2 420.5h0M190.9 420.3h0M191.6 420.2h0M192.3 420h0M192.9 419.8h0M193.7 419.6h0M194.6 419.4h0M194.9 419.3h0M195.9 419h0M196.1 419h0M197.1 418.7h0M198.3 418.4h0M199.4 418.1h0M199.5 418.1h0M200.6 417.7h0M201.6 417.4h0M202 417.3h0M202.6 417.2h0M203 417h0M204 416.7h0M205 416.4h0M205.7 416.2h0M205.9 416.2h0M206.6 415.9h0M207.5 415.6h0M208.3 415.3h0M209.1 415h0M209.3 415h0M210.2 414.6h0M211 414.3h0M211.7 414h0M212.4 413.7h0M213 413.5h0M213.7 413.2h0M214.4 412.9h0M215 412.6h0M215.6 412.3h0M216.7 411.8h0M217.3 411.5h0M217.9 411.3h0M218.4 411h0M218.9 410.8h0M220.4 410.1h0M220.9 409.9h0M221.3 409.7h0M221.8 409.5h0M222.1 409.3h0M224.1 408.3h0M224.5 408.1h0M224.8 407.9h0M225.1 407.7h0M225.4 407.5h0M227.8 405.7h0M228 405.5h0M228.2 405.3h0M228.5 405.2h0M228.7 405h0M231.5 402.7h0M231.6 402.6h0M231.7 402.5h0M231.8 402.4h0M231.9 402.3h0M235.2 399.6h0M238.4 396.9h0M238.5 396.8h0M238.6 396.7h0M238.7 396.6h0M238.9 396.5h0M241.7 394h0M241.9 393.9h0M242.1 393.7h0M242.3 393.5h0M242.5 393.3h0M244.9 391.1h0M245.2 390.8h0M245.5 390.5h0M245.9 390.2h0M246.2 389.8h0M248.2 387.9h0M248.6 387.5h0M249 387.1h0M249.4 386.6h0M249.9 386h0M251.4 384h0M251.9 383.3h0M252.5 382.5h0M253 381.6h0M253.6 380.6h0M254.7 378.7h0M255.3 377.6h0M255.9 376.4h0M256.6 375.1h0M257.3 373.7h0M258 372.4h0M258.6 370.9h0M259.4 369.2h0M260.2 367.4h0M261 365.2h0M261.2 364.6h0M262 362.3h0M262.8 359.9h0M263.7 357.3h0M264.5 355.1h0M264.7 354.5h0M265.3 352.6h0M266.3 349.9h0M267.3 347.2h0M267.7 346.3h0M268.4 344.8h0M268.7 344.1h0M269.8 341.7h0M270.9 338.7h0M271 338.4h0M272.1 334.6h0M273.2 327.8h0M274.2 320.2h0M274.4 318.4h0M275.4 311.1h0M275.7 308.7h0M276.7 302.6h0M277.5 297.5h0M278 294.1h0M278.8 288.3h0M279.4 282.4h0M280.1 276.7h0M280.7 272.1h0M281.6 265.9h0M282.1 261.7h0M283.1 254.2h0M283.6 251h0M284 248.4h0M285.1 241.7h0M285.5 240h0M286.8 233.9h0M287 232.9h0M287.2 232.1h0M288.7 227.2h0M288.8 227h0M290.5 224.5h0M292.2 227h0M292.3 227.2h0M293.8 230.6h0M294 231.2h0M294.2 231.7h0M295.5 234.8h0M295.9 235.6h0M297 239.2h0M297.4 240.7h0M297.9 242.7h0M298.9 249.9h0M299.4 255.8h0M300.3 265.9h0M300.9 272.4h0M301.6 278.9h0M302.2 283.7h0M303 288.2h0M303.5 291.1h0M304.3 295.4h0M305.3 300h0M305.6 301.7h0M306.6 306.7h0M306.8 307.8h0M307.8 313h0M308.9 318.9h0M310 323.7h0M310.1 324.2h0M311.2 328.5h0M312.3 332.3h0M312.6 333.5h0M313.3 335.7h0M313.7 337h0M314.7 340.2h0M315.7 343.2h0M316.3 345.4h0M316.5 346.2h0M317.3 348.9h0M318.2 352.4h0M319 355.6h0M319.8 358.4h0M320 359h0M320.8 361.5h0M321.6 363.6h0M322.4 365.5h0M323 367.2h0M323.7 368.6h0M324.4 370.1h0M325.1 371.5h0M325.7 372.6h0M326.3 373.7h0M327.4 375.5h0M328 376.5h0M328.5 377.4h0M329.1 378.2h0M329.6 379h0M331.1 381.3h0M331.6 382h0M332 382.6h0M332.4 383.2h0M332.8 383.7h0M334.8 386.3h0M335.1 386.7h0M335.5 387.1h0M335.8 387.5h0M336.1 387.8h0M338.5 390.2h0M338.7 390.4h0M338.9 390.6h0M339.1 390.7h0M339.3 390.9h0M342.1 393.6h0M342.3 393.8h0M342.4 393.9h0M342.5 394h0M342.6 394.1h0M345.8 397.5h0M349.1 400.6h0M349.2 400.6h0M349.3 400.7h0M349.4 400.8h0M349.5 400.9h0M352.3 403.2h0M352.5 403.3h0M352.8 403.5h0M353 403.7h0M353.2 403.8h0M355.6 405.5h0M355.9 405.7h0M356.2 406h0M356.5 406.2h0M356.9 406.4h0M358.9 407.6h0M359.2 407.9h0M359.7 408.1h0M360.1 408.4h0M360.6 408.7h0M362.1 409.6h0M362.6 409.8h0M363.1 410.1h0M363.7 410.4h0M364.3 410.7h0M365.4 411.3h0M366 411.5h0M366.6 411.8h0M367.3 412.1h0M368 412.4h0M368.6 412.7h0M369.3 413h0M370 413.3h0M370.8 413.6h0M371.7 413.9h0M371.9 414h0M372.7 414.3h0M373.5 414.6h0M374.4 414.9h0M375.1 415.1h0M375.3 415.2h0M376 415.4h0M377 415.8h0M378 416.1h0M378.4 416.2h0M379 416.4h0M379.4 416.5h0M380.4 416.8h0M381.5 417.1h0M381.6 417.2h0M382.7 417.5h0M383.9 417.7h0M384.9 418h0M385.1 418h0M386.1 418.3h0M386.4 418.3h0M387.3 418.6h0M388.1 418.7h0M388.7 418.8h0M389.4 419h0M390.1 419.1h0M390.8 419.3h0M391.4 419.4h0M392.2 419.6h0M392.8 419.7h0M393.8 419.9h0M394.2 420h0M394.7 420h0M395.8 420.2h0M396.1 420.3h0M397.5 420.5h0M397.7 420.6h0M397.9 420.6h0M399.4 420.9h0M399.5 420.9h0M401.2 421.1h0M402.8 421.4h0M403 421.4h0M404.4 421.6h0M404.6 421.6h0M404.9 421.7h0M406.2 421.9h0M406.5 421.9h0M407.7 422.1h0M408.1 422.1h0M408.5 422.2h0M409.6 422.3h0M410.1 422.3h0M410.9 422.4h0M411.5 422.5h0M412.2 422.5h0M412.9 422.6h0M413.7 422.6h0M414.2 422.7h0M415 422.7h0M415.9 422.8h0M416.3 422.8h0M417.2 422.9h0M417.4 422.9h0M418.5 422.9h0M419.6 423h0M420.7 423.1h0M420.8 423.1h0M421.9 423.1h0M423 423.2h0M423.3 423.2h0M424 423.2h0M424.4 423.2h0M425.4 423.2h0M426.3 423.2h0M427 423.2h0M427.2 423.2h0M427.9 423.2h0M428.8 423.2h0M429.7 423.2h0M430.5 423.2h0M430.7 423.2h0M431.5 423.2h0M432.3 423.2h0M433 423.2h0M433.7 423.2h0M434.4 423.2h0M435.1 423.2h0M435.8 423.2h0M436.4 423.2h0M437 423.2h0M438.1 423.2h0M438.7 423.2h0M439.2 423.2h0M439.7 423.2h0M440.2 423.2h0M441.7 423.2h0M442.2 423.2h0M442.7 423.2h0M443.1 423.2h0M443.5 423.2h0M445.4 423.2h0M445.8 423.2h0M446.1 423.2h0M446.4 423.2h0M446.7 423.2h0M449.1 423.1h0M449.4 423.1h0M449.6 423.1h0M449.8 423.1h0M450 423.1h0M452.8 423.1h0M452.9 423.1h0M453 423.1h0M453.1 423.1h0M453.2 423.1h0M456.5 423h0M459.8 423.1h0M459.9 423.1h0M460 423.1h0M460.1 423.1h0M460.2 423.1h0M463 423.1h0M463.2 423.1h0M463.4 423.1h0M463.6 423.1h0M463.9 423.1h0M466.3 423.2h0M466.6 423.2h0M466.9 423.2h0M467.2 423.2h0M467.6 423.2h0M469.5 423.2h0M469.9 423.2h0M470.3 423.2h0M470.8 423.2h0M471.3 423.2h0M472.8 423.2h0M473.3 423.2h0M473.8 423.2h0M474.3 423.2h0M474.9 423.2h0M476 423.2h0M476.6 423.2h0M477.2 423.2h0M477.9 423.2h0M478.6 423.2h0M479.3 423.2h0M480 423.2h0M480.7 423.2h0M481.5 423.2h0M482.3 423.2h0M482.5 423.2h0M483.3 423.2h0M484.2 423.2h0M485.1 423.2h0M485.8 423.2h0M486 423.2h0M486.7 423.2h0M487.6 423.2h0M488.6 423.2h0M489 423.2h0M489.7 423.2h0M490 423.2h0M491.1 423.1h0M492.2 423.1h0M492.3 423.1h0M493.4 423h0M494.5 422.9h0M495.6 422.9h0M495.8 422.9h0M496.7 422.8h0M497.1 422.8h0M498 422.7h0M498.8 422.7h0M499.3 422.6h0M500.1 422.6h0M500.8 422.5h0M501.5 422.5h0M502.1 422.4h0M502.9 422.3h0M503.4 422.3h0M504.5 422.2h0M504.9 422.1h0M505.3 422.1h0M506.5 421.9h0M506.8 421.9h0M508.1 421.7h0M508.4 421.6h0M508.6 421.6h0M510 421.4h0M510.2 421.4h0M511.8 421.1h0M513.5 420.9h0M513.6 420.9h0M515.1 420.6h0M515.3 420.6h0M515.5 420.5h0M516.9 420.3h0M517.2 420.2h0M518.3 420h0M518.8 420h0M519.2 419.9h0M520.2 419.7h0M520.8 419.6h0M521.6 419.4h0M522.2 419.3h0M522.9 419.1h0M523.6 419h0M524.3 418.8h0M524.9 418.7h0M525.7 418.6h0M526.6 418.3h0M526.9 418.3h0M527.9 418h0M528.1 418h0M529.1 417.7h0M530.3 417.5h0M531.4 417.2h0M531.5 417.1h0M532.6 416.8h0M533.6 416.5h0M534 416.4h0M534.6 416.2h0M535 416.1h0M536 415.8h0M537 415.4h0M537.7 415.2h0M537.9 415.1h0M538.6 414.9h0M539.5 414.6h0M540.3 414.3h0M541.1 414h0M541.3 413.9h0M542.2 413.6h0M543 413.3h0M543.7 413h0M544.4 412.7h0M545 412.4h0M545.7 412.1h0M546.4 411.8h0M547 411.5h0M547.6 411.3h0M548.7 410.7h0M549.3 410.4h0M549.9 410.1h0M550.4 409.8h0M550.9 409.6h0M552.4 408.7h0M552.9 408.4h0M553.3 408.1h0M553.8 407.9h0M554.1 407.6h0M556.1 406.4h0M556.5 406.2h0M556.8 406h0M557.1 405.7h0M557.4 405.5h0M559.8 403.8h0M560 403.7h0M560.2 403.5h0M560.5 403.3h0M560.7 403.2h0M563.5 400.9h0M563.6 400.8h0M563.7 400.7h0M563.8 400.6h0M563.9 400.6h0M567.2 397.5h0M570.4 394.1h0M570.5 394h0M570.6 393.9h0M570.7 393.8h0M570.9 393.6h0M573.7 390.9h0M573.9 390.7h0M574.1 390.6h0M574.3 390.4h0M574.5 390.2h0M576.9 387.8h0M577.2 387.5h0M577.5 387.1h0M577.9 386.7h0M578.2 386.3h0M580.2 383.7h0M580.6 383.2h0M581 382.6h0M581.4 382h0M581.9 381.3h0M583.4 379h0M583.9 378.2h0M584.5 377.4h0M585 376.5h0M585.6 375.5h0M586.7 373.7h0M587.3 372.6h0M587.9 371.5h0M588.6 370.1h0M589.3 368.6h0M590 367.2h0M590.6 365.5h0M591.4 363.6h0M592.2 361.5h0M593 359h0M593.2 358.4h0M594 355.6h0M594.8 352.4h0M595.7 348.9h0M596.5 346.2h0M596.7 345.4h0M597.3 343.2h0M598.3 340.2h0M599.3 337h0M599.7 335.7h0M600.4 333.5h0M600.7 332.3h0M601.8 328.5h0M602.9 324.2h0M603 323.7h0M604.1 318.9h0M605.2 313h0M606.2 307.8h0M606.4 306.7h0M607.4 301.7h0M607.7 300h0M608.7 295.4h0M609.5 291.1h0M610 288.2h0M610.8 283.7h0M611.4 278.9h0M612.1 272.4h0M612.7 265.9h0M613.6 255.8h0M614.1 249.9h0M615.1 242.7h0M615.6 240.7h0M616 239.2h0M617.1 235.6h0M617.5 234.8h0M618.8 231.7h0M619 231.2h0M619.2 230.6h0M620.7 227.2h0M620.8 227h0M622.5 224.5h0M624.2 227h0M624.3 227.2h0M625.8 232.1h0M626 232.9h0M626.2 233.9h0M627.5 240h0M627.9 241.7h0M629 248.4h0M629.4 251h0M629.9 254.2h0M630.9 261.7h0M631.4 265.9h0M632.3 272.1h0M632.9 276.7h0M633.6 282.4h0M634.2 288.3h0M635 294.1h0M635.5 297.5h0M636.3 302.6h0M637.3 308.7h0M637.6 311.1h0M638.6 318.4h0M638.8 320.2h0M639.8 327.8h0M640.9 334.6h0M642 338.4h0M642.1 338.7h0M643.2 341.7h0M644.3 344.1h0M644.6 344.8h0M645.3 346.3h0M645.7 347.2h0M646.7 349.9h0M647.7 352.6h0M648.3 354.5h0M648.5 355.1h0M649.3 357.3h0M650.2 359.9h0M651 362.3h0M651.8 364.6h0M652 365.2h0M652.8 367.4h0M653.6 369.2h0M654.4 370.9h0M655 372.4h0M655.7 373.7h0M656.4 375.1h0M657.1 376.4h0M657.7 377.6h0M658.3 378.7h0M659.4 380.6h0M660 381.6h0M660.5 382.5h0M661.1 383.3h0M661.6 384h0M663.1 386h0M663.6 386.6h0M664 387.1h0M664.4 387.5h0M664.8 387.9h0M666.8 389.8h0M667.1 390.2h0M667.5 390.5h0M667.8 390.8h0M668.1 391.1h0M670.5 393.3h0M670.7 393.5h0M670.9 393.7h0M671.1 393.9h0M671.3 394h0M674.1 396.5h0M674.3 396.6h0M674.4 396.7h0M674.5 396.8h0M674.6 396.9h0M677.8 399.6h0M681.1 402.3h0M681.2 402.4h0M681.3 402.5h0M681.4 402.6h0M681.5 402.7h0M684.3 405h0M684.5 405.2h0M684.8 405.3h0M685 405.5h0M685.2 405.7h0M687.6 407.5h0M687.9 407.7h0M688.2 407.9h0M688.5 408.1h0M688.9 408.3h0M690.9 409.3h0M691.2 409.5h0M691.7 409.7h0M692.1 409.9h0M692.6 410.1h0M694.1 410.8h0M694.6 411h0M695.1 411.3h0M695.7 411.5h0M696.3 411.8h0M697.4 412.3h0M698 412.6h0M698.6 412.9h0M699.3 413.2h0M700 413.5h0M700.6 413.7h0M701.3 414h0M702 414.3h0M702.8 414.6h0M703.7 415h0M703.9 415h0M704.7 415.3h0M705.5 415.6h0M706.4 415.9h0M707.1 416.2h0M707.3 416.2h0M708 416.4h0M709 416.7h0M710 417h0M710.4 417.2h0M711 417.3h0M711.4 417.4h0M712.4 417.7h0M713.5 418.1h0M713.6 418.1h0M714.7 418.4h0M715.9 418.7h0M716.9 419h0M717.1 419h0M718.1 419.3h0M718.4 419.4h0M719.3 419.6h0M720.1 419.8h0M720.7 420h0M721.4 420.2h0M722.1 420.3h0M722.8 420.5h0M723.4 420.7h0M724.2 420.9h0M724.8 421h0M725.8 421.2h0M726.2 421.3h0M726.7 421.4h0M727.8 421.6h0M728.1 421.6h0M729.5 421.8h0M729.7 421.8h0M729.9 421.9h0M731.4 422.1h0M731.5 422.1h0M733.2 422.3h0M734.8 422.5h0M735 422.5h0M736.4 422.7h0M736.6 422.7h0M736.9 422.7h0M738.2 422.9h0M738.5 422.9h0M739.7 423h0M740.1 423.1h0M740.5 423.1h0M741.6 423.2h0M742.1 423.2h0M742.9 423.3h0M743.5 423.3h0M744.2 423.4h0M744.9 423.4h0M745.7 423.4h0M746.2 423.5h0M747 423.5h0M747.9 423.5h0M748.3 423.5h0M749.2 423.5h0M749.4 423.5h0M750.5 423.5h0M751.6 423.5h0M752.7 423.5h0M752.8 423.5h0M753.9 423.5h0M755 423.5h0M755.3 423.5h0M756 423.5h0M756.4 423.5h0M757.4 423.5h0M758.3 423.5h0M759 423.5h0M759.2 423.5h0M759.9 423.5h0M760.8 423.5h0M761.7 423.5h0M762.5 423.5h0M762.7 423.5h0M763.5 423.5h0M764.3 423.5h0M765 423.5h0M765.7 423.5h0M766.4 423.5h0M767.1 423.5h0M767.8 423.5h0M768.4 423.5h0M769 423.5h0M770.1 423.5h0M770.7 423.5h0M771.2 423.5h0M771.7 423.5h0M772.2 423.5h0M773.7 423.4h0M774.2 423.4h0M774.7 423.4h0M775.1 423.4h0M775.5 423.4h0M777.4 423.3h0M777.8 423.3h0M778.1 423.3h0M778.4 423.3h0M778.7 423.3h0M781.1 423.2h0M781.4 423.2h0M781.6 423.2h0M781.8 423.1h0M782 423.1h0M784.8 423h0M784.9 423h0M785 423h0M785.1 423h0M785.2 423h0" fill="none" stroke="#e51e10" stroke-width="1" stroke-linecap="round"/>
<path d="M120.1 423.7a4.4 4.4 0 1 0 8.8 0a4.4 4.4 0 1 0 -8.8 0M123.5 423.8a4.4 4.4 0 1 0 8.8 0a4.4 4.4 0 1 0 -8.8 0M123.6 423.8a4.4 4.4 0 1 0 8.8 0a4.4 4.4 0 1 0 -8.8 0M123.7 423.8a4.4 4.4 0 1 0 8.8 0a4.4 4.4 0 1 0 -8.8 0M126.8 423.8a4.4 4.4 0 1 0 8.8 0a4.4 4.4 0 1 0 -8.8 0M127 423.8a4.4 4.4 0 1 0 8.8 0a4.4 4.4 0 1 0 -8.8 0M127.2 423.8a4.4 4.4 0 1 0 8.8 0a4.4 4.4 0 1 0 -8.8 0M130.2 423.9a4.4 4.4 0 1 0 8.8 0a4.4 4.4 0 1 0 -8.8 0M130.5 423.9a4.4 4.4 0 1 0 8.8 0a4.4 4.4 0 1 0 -8.8 0M130.8 423.9a4.4 4.4 0 1 0 8.8 0a4.4 4.4 0 1 0 -8.8 0M133.5 423.9a4.4 4.4 0 1 0 8.8 0a4.4 4.4 0 1 0 -8.8 0M133.9 423.9a4.4 4.4 0 1 0 8.8 0a4.4 4.4 0 1 0 -8.8 0M134.4 423.9a4.4 4.4 0 1 0 8.8 0a4.4 4.4 0 1 0 -8.8 0M136.9 423.9a4.4 4.4 0 1 0 8.8 0a4.4 4.4 0 1 0 -8.8 0M137.4 423.9a4.4 4.4 0 1 0 8.8 0a4.4 4.4 0 1 0 -8.8 0M137.9 423.9a4.4 4.4 0 1 0 8.8 0a4.4 4.4 0 1 0 -8.8 0M140.2 423.9a4.4 4.4 0 1 0 8.8 0a4.4 4.4 0 1 0 -8.8 0M140.8 423.9a4.4 4.4 0 1 0 8.8 0a4.4 4.4 0 1 0 -8.8 0M141.5 423.9a4.4 4.4 0 1 0 8.8 0a4.4 4.4 0 1 0 -8.8 0M143.6 423.9a4.4 4.4 0 1 0 8.8 0a4.4 4.4 0 1 0 -8.8 0M144.3 423.9a4.4 4.4 0 1 0 8.8 0a4.4 4.4 0 1 0 -8.8 0M145.1 423.9a4.4 4.4 0 1 0 8.8 0a4.4 4.4 0 1 0 -8.8 0M146.9 423.9a4.4 4.4 0 1 0 8.8 0a4.4 4.4 0 1 0 -8.8 0M147.8 423.9a4.4 4.4 0 1 0 8.8 0a4.4 4.4 0 1 0 -8.8 0M148.7 423.9a4.4 4.4 0 1 0 8.8 0a4.4 4.4 0 1 0 -8.8 0M150.3 423.8a4.4 4.4 0 1 0 8.8 0a4.4 4.4 0 1 0 -8.8 0M151.2 423.8a4.4 4.4 0 1 0 8.8 0a4.4 4.4 0 1 0 -8.8 0M152.2 423.8a4.4 4.4 0 1 0 8.8 0a4.4 4.4 0 1 0 -8.8 0M153.6 423.8a4.4 4.4 0 1 0 8.8 0a4.4 4.4 0 1 0 -8.8 0M154.7 423.8a4.4 4.4 0 1 0 8.8 0a4.4 4.4 0 1 0 -8.8 0M155.8 423.8a4.4 4.4 0 1 0 8.8 0a4.4 4.4 0 1 0 -8.8 0M157 423.7a4.4 4.4 0 1 0 8.8 0a4.4 4.4 0 1 0 -8.8 0M158.1 423.7a4.4 4.4 0 1 0 8.8 0a4.4 4.4 0 1 0 -8.8 0M159.4 423.7a4.4 4.4 0 1 0 8.8 0a4.4 4.4 0 1 0 -8.8 0M160.3 423.7a4.4 4.4 0 1 0 8.8 0a4.4 4.4 0 1 0 -8.8 0M161.6 423.7a4.4 4.4 0 1 0 8.8 0a4.4 4.4 0 1 0 -8.8 0M162.9 423.6a4.4 4.4 0 1 0 8.8 0a4.4 4.4 0 1 0 -8.8 0M163.7 423.6a4.4 4.4 0 1 0 8.8 0a4.4 4.4 0 1 0 -8.8 0M165.1 423.6a4.4 4.4 0 1 0 8.8 0a4.4 4.4 0 1 0 -8.8 0M166.5 423.5a4.4 4.4 0 1 0 8.8 0a4.4 4.4 0 1 0 -8.8 0M167 423.5a4.4 4.4 0 1 0 8.8 0a4.4 4.4 0 1 0 -8.8 0M168.5 423.4a4.4 4.4 0 1 0 8.8 0a4.4 4.4 0 1 0 -8.8 0M170.1 423.3a4.4 4.4 0 1 0 8.8 0a4.4 4.4 0 1 0 -8.8 0M170.4 423.3a4.4 4.4 0 1 0 8.8 0a4.4 4.4 0 1 0 -8.8 0M172 423.2a4.4 4.4 0 1 0 8.8 0a4.4 4.4 0 1 0 -8.8 0M173.6 423.1a4.4 4.4 0 1 0 8.8 0a4.4 4.4 0 1 0 -8.8 0M173.8 423.1a4.4 4.4 0 1 0 8.8 0a4.4 4.4 0 1 0 -8.8 0M175.4 423a4.4 4.4 0 1 0 8.8 0a4.4 4.4 0 1 0 -8.8 0M177.1 422.9a4.4 4.4 0 1 0 8.8 0a4.4 4.4 0 1 0 -8.8 0M177.2 422.8a4.4 4.4 0 1 0 8.8 0a4.4 4.4 0 1 0 -8.8 0M178.9 422.6a4.4 4.4 0 1 0 8.8 0a4.4 4.4 0 1 0 -8.8 0M180.5 422.4a4.4 4.4 0 1 0 8.8 0a4.4 4.4 0 1 0 -8.8 0M180.8 422.3a4.4 4.4 0 1 0 8.8 0a4.4 4.4 0 1 0 -8.8 0M182.4 422a4.4 4.4 0 1 0 8.8 0a4.4 4.4 0 1 0 -8.8 0M183.8 421.7a4.4 4.4 0 1 0 8.8 0a4.4 4.4 0 1 0 -8.8 0M184.4 421.6a4.4 4.4 0 1 0 8.8 0a4.4 4.4 0 1 0 -8.8 0M185.8 421.3a4.4 4.4 0 1 0 8.8 0a4.4 4.4 0 1 0 -8.8 0M187.2 421a4.4 4.4 0 1 0 8.8 0a4.4 4.4 0 1 0 -8.8 0M187.9 420.8a4.4 4.4 0 1 0 8.8 0a4.4 4.4 0 1 0 -8.8 0M189.3 420.6a4.4 4.4 0 1 0 8.8 0a4.4 4.4 0 1 0 -8.8 0M190.5 420.3a4.4 4.4 0 1 0 8.8 0a4.4 4.4 0 1 0 -8.8 0M191.5 420.1a4.4 4.4 0 1 0 8.8 0a4.4 4.4 0 1 0 -8.8 0M192.7 419.8a4.4 4.4 0 1 0 8.8 0a4.4 4.4 0 1 0 -8.8 0M193.9 419.5a4.4 4.4 0 1 0 8.8 0a4.4 4.4 0 1 0 -8.8 0M195.1 419.2a4.4 4.4 0 1 0 8.8 0a4.4 4.4 0 1 0 -8.8 0M196.2 418.9a4.4 4.4 0 1 0 8.8 0a4.4 4.4 0 1 0 -8.8 0M197.2 418.7a4.4 4.4 0 1 0 8.8 0a4.4 4.4 0 1 0 -8.8 0M198.6 418.3a4.4 4.4 0 1 0 8.8 0a4.4 4.4 0 1 0 -8.8 0M199.6 418a4.4 4.4 0 1 0 8.8 0a4.4 4.4 0 1 0 -8.8 0M200.6 417.8a4.4 4.4 0 1 0 8.8 0a4.4 4.4 0 1 0 -8.8 0M202.2 417.3a4.4 4.4 0 1 0 8.8 0a4.4 4.4 0 1 0 -8.8 0M203.1 417a4.4 4.4 0 1 0 8.8 0a4.4 4.4 0 1 0 -8.8 0M203.9 416.8a4.4 4.4 0 1 0 8.8 0a4.4 4.4 0 1 0 -8.8 0M205.8 416.2a4.4 4.4 0 1 0 8.8 0a4.4 4.4 0 1 0 -8.8 0M206.6 415.9a4.4 4.4 0 1 0 8.8 0a4.4 4.4 0 1 0 -8.8 0M207.3 415.7a4.4 4.4 0 1 0 8.8 0a4.4 4.4 0 1 0 -8.8 0M209.3 414.9a4.4 4.4 0 1 0 8.8 0a4.4 4.4 0 1 0 -8.8 0M210 414.7a4.4 4.4 0 1 0 8.8 0a4.4 4.4 0 1 0 -8.8 0M210.6 414.5a4.4 4.4 0 1 0 8.8 0a4.4 4.4 0 1 0 -8.8 0M212.9 413.6a4.4 4.4 0 1 0 8.8 0a4.4 4.4 0 1 0 -8.8 0M213.5 413.4a4.4 4.4 0 1 0 8.8 0a4.4 4.4 0 1 0 -8.8 0M214 413.2a4.4 4.4 0 1 0 8.8 0a4.4 4.4 0 1 0 -8.8 0M216.5 412.2a4.4 4.4 0 1 0 8.8 0a4.4 4.4 0 1 0 -8.8 0M216.9 412a4.4 4.4 0 1 0 8.8 0a4.4 4.4 0 1 0 -8.8 0M217.4 411.8a4.4 4.4 0 1 0 8.8 0a4.4 4.4 0 1 0 -8.8 0M220.1 410.6a4.4 4.4 0 1 0 8.8 0a4.4 4.4 0 1 0 -8.8 0M220.4 410.5a4.4 4.4 0 1 0 8.8 0a4.4 4.4 0 1 0 -8.8 0M220.7 410.3a4.4 4.4 0 1 0 8.8 0a4.4 4.4 0 1 0 -8.8 0M223.6 409a4.4 4.4 0 1 0 8.8 0a4.4 4.4 0 1 0 -8.8 0M223.8 408.9a4.4 4.4 0 1 0 8.8 0a4.4 4.4 0 1 0 -8.8 0M224.1 408.8a4.4 4.4 0 1 0 8.8 0a4.4 4.4 0 1 0 -8.8 0M227.2 407.2a4.4 4.4 0 1 0 8.8 0a4.4 4.4 0 1 0 -8.8 0M227.3 407.2a4.4 4.4 0 1 0 8.8 0a4.4 4.4 0 1 0 -8.8 0M227.4 407.1a4.4 4.4 0 1 0 8.8 0a4.4 4.4 0 1 0 -8.8 0M230.8 404.8a4.4 4.4 0 1 0 8.8 0a4.4 4.4 0 1 0 -8.8 0M234.1 402.1a4.4 4.4 0 1 0 8.8 0a4.4 4.4 0 1 0 -8.8 0M234.2 402a4.4 4.4 0 1 0 8.8 0a4.4 4.4 0 1 0 -8.8 0M234.3 401.9a4.4 4.4 0 1 0 8.8 0a4.4 4.4 0 1 0 -8.8 0M237.5 399.1a4.4 4.4 0 1 0 8.8 0a4.4 4.4 0 1 0 -8.8 0M237.7 398.9a4.4 4.4 0 1 0 8.8 0a4.4 4.4 0 1 0 -8.8 0M237.9 398.7a4.4 4.4 0 1 0 8.8 0a4.4 4.4 0 1 0 -8.8 0M240.8 396.1a4.4 4.4 0 1 0 8.8 0a4.4 4.4 0 1 0 -8.8 0M241.1 395.8a4.4 4.4 0 1 0 8.8 0a4.4 4.4 0 1 0 -8.8 0M241.5 395.5a4.4 4.4 0 1 0 8.8 0a4.4 4.4 0 1 0 -8.8 0M244.2 392.9a4.4 4.4 0 1 0 8.8 0a4.4 4.4 0 1 0 -8.8 0M244.6 392.5a4.4 4.4 0 1 0 8.8 0a4.4 4.4 0 1 0 -8.8 0M245 392.1a4.4 4.4 0 1 0 8.8 0a4.4 4.4 0 1 0 -8.8 0M247.5 389.9a4.4 4.4 0 1 0 8.8 0a4.4 4.4 0 1 0 -8.8 0M248.1 389.5a4.4 4.4 0 1 0 8.8 0a4.4 4.4 0 1 0 -8.8 0M248.6 389.1a4.4 4.4 0 1 0 8.8 0a4.4 4.4 0 1 0 -8.8 0M250.9 387.1a4.4 4.4 0 1 0 8.8 0a4.4 4.4 0 1 0 -8.8 0M251.5 386.5a4.4 4.4 0 1 0 8.8 0a4.4 4.4 0 1 0 -8.8 0M252.2 385.8a4.4 4.4 0 1 0 8.8 0a4.4 4.4 0 1 0 -8.8 0M254.2 383.3a4.4 4.4 0 1 0 8.8 0a4.4 4.4 0 1 0 -8.8 0M255 382.2a4.4 4.4 0 1 0 8.8 0a4.4 4.4 0 1 0 -8.8 0M255.8 381.1a4.4 4.4 0 1 0 8.8 0a4.4 4.4 0 1 0 -8.8 0M257.6 378a4.4 4.4 0 1 0 8.8 0a4.4 4.4 0 1 0 -8.8 0M258.4 376.5a4.4 4.4 0 1 0 8.8 0a4.4 4.4 0 1 0 -8.8 0M259.3 374.7a4.4 4.4 0 1 0 8.8 0a4.4 4.4 0 1 0 -8.8 0M260.9 371.1a4.4 4.4 0 1 0 8.8 0a4.4 4.4 0 1 0 -8.8 0M261.9 369a4.4 4.4 0 1 0 8.8 0a4.4 4.4 0 1 0 -8.8 0M262.9 366.4a4.4 4.4 0 1 0 8.8 0a4.4 4.4 0 1 0 -8.8 0M264.3 362.7a4.4 4.4 0 1 0 8.8 0a4.4 4.4 0 1 0 -8.8 0M265.4 359.9a4.4 4.4 0 1 0 8.8 0a4.4 4.4 0 1 0 -8.8 0M266.5 356.7a4.4 4.4 0 1 0 8.8 0a4.4 4.4 0 1 0 -8.8 0M267.7 353.1a4.4 4.4 0 1 0 8.8 0a4.4 4.4 0 1 0 -8.8 0M268.8 349.5a4.4 4.4 0 1 0 8.8 0a4.4 4.4 0 1 0 -8.8 0M270 345.2a4.4 4.4 0 1 0 8.8 0a4.4 4.4 0 1 0 -8.8 0M271 341.1a4.4 4.4 0 1 0 8.8 0a4.4 4.4 0 1 0 -8.8 0M272.3 335.5a4.4 4.4 0 1 0 8.8 0a4.4 4.4 0 1 0 -8.8 0M273.6 330.2a4.4 4.4 0 1 0 8.8 0a4.4 4.4 0 1 0 -8.8 0M274.4 327a4.4 4.4 0 1 0 8.8 0a4.4 4.4 0 1 0 -8.8 0M275.7 320.9a4.4 4.4 0 1 0 8.8 0a4.4 4.4 0 1 0 -8.8 0M277.2 314.1a4.4 4.4 0 1 0 8.8 0a4.4 4.4 0 1 0 -8.8 0M277.7 311.5a4.4 4.4 0 1 0 8.8 0a4.4 4.4 0 1 0 -8.8 0M279.2 304.1a4.4 4.4 0 1 0 8.8 0a4.4 4.4 0 1 0 -8.8 0M280.7 296.7a4.4 4.4 0 1 0 8.8 0a4.4 4.4 0 1 0 -8.8 0M281.1 295.1a4.4 4.4 0 1 0 8.8 0a4.4 4.4 0 1 0 -8.8 0M282.6 283.2a4.4 4.4 0 1 0 8.8 0a4.4 4.4 0 1 0 -8.8 0M284.3 269.9a4.4 4.4 0 1 0 8.8 0a4.4 4.4 0 1 0 -8.8 0M284.4 268.9a4.4 4.4 0 1 0 8.8 0a4.4 4.4 0 1 0 -8.8 0M286.1 254.3a4.4 4.4 0 1 0 8.8 0a4.4 4.4 0 1 0 -8.8 0M287.8 245.5a4.4 4.4 0 1 0 8.8 0a4.4 4.4 0 1 0 -8.8 0M287.9 244.9a4.4 4.4 0 1 0 8.8 0a4.4 4.4 0 1 0 -8.8 0M289.6 236.9a4.4 4.4 0 1 0 8.8 0a4.4 4.4 0 1 0 -8.8 0M291.1 232.6a4.4 4.4 0 1 0 8.8 0a4.4 4.4 0 1 0 -8.8 0M291.5 232a4.4 4.4 0 1 0 8.8 0a4.4 4.4 0 1 0 -8.8 0M293 231.6a4.4 4.4 0 1 0 8.8 0a4.4 4.4 0 1 0 -8.8 0M294.5 233.7a4.4 4.4 0 1 0 8.8 0a4.4 4.4 0 1 0 -8.8 0M295 234.9a4.4 4.4 0 1 0 8.8 0a4.4 4.4 0 1 0 -8.8 0M296.5 238.4a4.4 4.4 0 1 0 8.8 0a4.4 4.4 0 1 0 -8.8 0M297.8 243.8a4.4 4.4 0 1 0 8.8 0a4.4 4.4 0 1 0 -8.8 0M298.6 247.4a4.4 4.4 0 1 0 8.8 0a4.4 4.4 0 1 0 -8.8 0M299.9 255.6a4.4 4.4 0 1 0 8.8 0a4.4 4.4 0 1 0 -8.8 0M301.2 265.5a4.4 4.4 0 1 0 8.8 0a4.4 4.4 0 1 0 -8.8 0M302.2 271.8a4.4 4.4 0 1 0 8.8 0a4.4 4.4 0 1 0 -8.8 0M303.4 278.7a4.4 4.4 0 1 0 8.8 0a4.4 4.4 0 1 0 -8.8 0M304.5 285.4a4.4 4.4 0 1 0 8.8 0a4.4 4.4 0 1 0 -8.8 0M305.7 292.5a4.4 4.4 0 1 0 8.8 0a4.4 4.4 0 1 0 -8.8 0M306.8 299.4a4.4 4.4 0 1 0 8.8 0a4.4 4.4 0 1 0 -8.8 0M307.9 306.1a4.4 4.4 0 1 0 8.8 0a4.4 4.4 0 1 0 -8.8 0M309.3 314.8a4.4 4.4 0 1 0 8.8 0a4.4 4.4 0 1 0 -8.8 0M310.3 321.7a4.4 4.4 0 1 0 8.8 0a4.4 4.4 0 1 0 -8.8 0M311.3 327.8a4.4 4.4 0 1 0 8.8 0a4.4 4.4 0 1 0 -8.8 0M312.9 333.8a4.4 4.4 0 1 0 8.8 0a4.4 4.4 0 1 0 -8.8 0M313.8 336.4a4.4 4.4 0 1 0 8.8 0a4.4 4.4 0 1 0 -8.8 0M314.6 338.9a4.4 4.4 0 1 0 8.8 0a4.4 4.4 0 1 0 -8.8 0M316.4 344.3a4.4 4.4 0 1 0 8.8 0a4.4 4.4 0 1 0 -8.8 0M317.2 346.4a4.4 4.4 0 1 0 8.8 0a4.4 4.4 0 1 0 -8.8 0M318 348.1a4.4 4.4 0 1 0 8.8 0a4.4 4.4 0 1 0 -8.8 0M320 352a4.4 4.4 0 1 0 8.8 0a4.4 4.4 0 1 0 -8.8 0M320.7 353.4a4.4 4.4 0 1 0 8.8 0a4.4 4.4 0 1 0 -8.8 0M321.3 354.8a4.4 4.4 0 1 0 8.8 0a4.4 4.4 0 1 0 -8.8 0M323.6 360a4.4 4.4 0 1 0 8.8 0a4.4 4.4 0 1 0 -8.8 0M324.1 361.3a4.4 4.4 0 1 0 8.8 0a4.4 4.4 0 1 0 -8.8 0M324.7 362.4a4.4 4.4 0 1 0 8.8 0a4.4 4.4 0 1 0 -8.8 0M327.2 367.6a4.4 4.4 0 1 0 8.8 0a4.4 4.4 0 1 0 -8.8 0M327.6 368.4a4.4 4.4 0 1 0 8.8 0a4.4 4.4 0 1 0 -8.8 0M328 369.3a4.4 4.4 0 1 0 8.8 0a4.4 4.4 0 1 0 -8.8 0M330.7 374.3a4.4 4.4 0 1 0 8.8 0a4.4 4.4 0 1 0 -8.8 0M331.1 374.9a4.4 4.4 0 1 0 8.8 0a4.4 4.4 0 1 0 -8.8 0M331.4 375.5a4.4 4.4 0 1 0 8.8 0a4.4 4.4 0 1 0 -8.8 0M334.3 380.5a4.4 4.4 0 1 0 8.8 0a4.4 4.4 0 1 0 -8.8 0M334.5 380.8a4.4 4.4 0 1 0 8.8 0a4.4 4.4 0 1 0 -8.8 0M334.7 381.2a4.4 4.4 0 1 0 8.8 0a4.4 4.4 0 1 0 -8.8 0M337.9 386.1a4.4 4.4 0 1 0 8.8 0a4.4 4.4 0 1 0 -8.8 0M338 386.3a4.4 4.4 0 1 0 8.8 0a4.4 4.4 0 1 0 -8.8 0M338.1 386.5a4.4 4.4 0 1 0 8.8 0a4.4 4.4 0 1 0 -8.8 0M341.4 391.5a4.4 4.4 0 1 0 8.8 0a4.4 4.4 0 1 0 -8.8 0M344.8 395.9a4.4 4.4 0 1 0 8.8 0a4.4 4.4 0 1 0 -8.8 0M344.9 396.1a4.4 4.4 0 1 0 8.8 0a4.4 4.4 0 1 0 -8.8 0M345 396.2a4.4 4.4 0 1 0 8.8 0a4.4 4.4 0 1 0 -8.8 0M348.1 399.8a4.4 4.4 0 1 0 8.8 0a4.4 4.4 0 1 0 -8.8 0M348.4 400a4.4 4.4 0 1 0 8.8 0a4.4 4.4 0 1 0 -8.8 0M348.6 400.2a4.4 4.4 0 1 0 8.8 0a4.4 4.4 0 1 0 -8.8 0M351.5 402.6a4.4 4.4 0 1 0 8.8 0a4.4 4.4 0 1 0 -8.8 0M351.8 402.9a4.4 4.4 0 1 0 8.8 0a4.4 4.4 0 1 0 -8.8 0M352.1 403.1a4.4 4.4 0 1 0 8.8 0a4.4 4.4 0 1 0 -8.8 0M354.8 405a4.4 4.4 0 1 0 8.8 0a4.4 4.4 0 1 0 -8.8 0M355.3 405.3a4.4 4.4 0 1 0 8.8 0a4.4 4.4 0 1 0 -8.8 0M355.7 405.6a4.4 4.4 0 1 0 8.8 0a4.4 4.4 0 1 0 -8.8 0M358.2 407.4a4.4 4.4 0 1 0 8.8 0a4.4 4.4 0 1 0 -8.8 0M358.7 407.7a4.4 4.4 0 1 0 8.8 0a4.4 4.4 0 1 0 -8.8 0M359.3 408.1a4.4 4.4 0 1 0 8.8 0a4.4 4.4 0 1 0 -8.8 0M361.6 409.5a4.4 4.4 0 1 0 8.8 0a4.4 4.4 0 1 0 -8.8 0M362.2 409.9a4.4 4.4 0 1 0 8.8 0a4.4 4.4 0 1 0 -8.8 0M362.9 410.3a4.4 4.4 0 1 0 8.8 0a4.4 4.4 0 1 0 -8.8 0M364.9 411.5a4.4 4.4 0 1 0 8.8 0a4.4 4.4 0 1 0 -8.8 0M365.6 411.9a4.4 4.4 0 1 0 8.8 0a4.4 4.4 0 1 0 -8.8 0M366.4 412.3a4.4 4.4 0 1 0 8.8 0a4.4 4.4 0 1 0 -8.8 0M368.3 413.3a4.4 4.4 0 1 0 8.8 0a4.4 4.4 0 1 0 -8.8 0M369.1 413.7a4.4 4.4 0 1 0 8.8 0a4.4 4.4 0 1 0 -8.8 0M370 414.1a4.4 4.4 0 1 0 8.8 0a4.4 4.4 0 1 0 -8.8 0M371.6 414.8a4.4 4.4 0 1 0 8.8 0a4.4 4.4 0 1 0 -8.8 0M372.6 415.1a4.4 4.4 0 1 0 8.8 0a4.4 4.4 0 1 0 -8.8 0M373.6 415.5a4.4 4.4 0 1 0 8.8 0a4.4 4.4 0 1 0 -8.8 0M375 415.9a4.4 4.4 0 1 0 8.8 0a4.4 4.4 0 1 0 -8.8 0M376 416.2a4.4 4.4 0 1 0 8.8 0a4.4 4.4 0 1 0 -8.8 0M377.1 416.5a4.4 4.4 0 1 0 8.8 0a4.4 4.4 0 1 0 -8.8 0M378.3 416.8a4.4 4.4 0 1 0 8.8 0a4.4 4.4 0 1 0 -8.8 0M379.5 417.1a4.4 4.4 0 1 0 8.8 0a4.4 4.4 0 1 0 -8.8 0M380.7 417.4a4.4 4.4 0 1 0 8.8 0a4.4 4.4 0 1 0 -8.8 0M381.7 417.7a4.4 4.4 0 1 0 8.8 0a4.4 4.4 0 1 0 -8.8 0M382.9 418a4.4 4.4 0 1 0 8.8 0a4.4 4.4 0 1 0 -8.8 0M384.3 418.3a4.4 4.4 0 1 0 8.8 0a4.4 4.4 0 1 0 -8.8 0M385 418.5a4.4 4.4 0 1 0 8.8 0a4.4 4.4 0 1 0 -8.8 0M386.4 418.8a4.4 4.4 0 1 0 8.8 0a4.4 4.4 0 1 0 -8.8 0M387.8 419.1a4.4 4.4 0 1 0 8.8 0a4.4 4.4 0 1 0 -8.8 0M388.4 419.2a4.4 4.4 0 1 0 8.8 0a4.4 4.4 0 1 0 -8.8 0M389.8 419.5a4.4 4.4 0 1 0 8.8 0a4.4 4.4 0 1 0 -8.8 0M391.4 419.8a4.4 4.4 0 1 0 8.8 0a4.4 4.4 0 1 0 -8.8 0M391.7 419.9a4.4 4.4 0 1 0 8.8 0a4.4 4.4 0 1 0 -8.8 0M393.3 420.2a4.4 4.4 0 1 0 8.8 0a4.4 4.4 0 1 0 -8.8 0M395 420.5a4.4 4.4 0 1 0 8.8 0a4.4 4.4 0 1 0 -8.8 0M395.1 420.5a4.4 4.4 0 1 0 8.8 0a4.4 4.4 0 1 0 -8.8 0M396.8 420.9a4.4 4.4 0 1 0 8.8 0a4.4 4.4 0 1 0 -8.8 0M398.4 421.3a4.4 4.4 0 1 0 8.8 0a4.4 4.4 0 1 0 -8.8 0M398.6 421.3a4.4 4.4 0 1 0 8.8 0a4.4 4.4 0 1 0 -8.8 0M400.2 421.6a4.4 4.4 0 1 0 8.8 0a4.4 4.4 0 1 0 -8.8 0M401.8 421.9a4.4 4.4 0 1 0 8.8 0a4.4 4.4 0 1 0 -8.8 0M402.1 421.9a4.4 4.4 0 1 0 8.8 0a4.4 4.4 0 1 0 -8.8 0M403.7 422.1a4.4 4.4 0 1 0 8.8 0a4.4 4.4 0 1 0 -8.8 0M405.2 422.3a4.4 4.4 0 1 0 8.8 0a4.4 4.4 0 1 0 -8.8 0M405.7 422.4a4.4 4.4 0 1 0 8.8 0a4.4 4.4 0 1 0 -8.8 0M407.1 422.5a4.4 4.4 0 1 0 8.8 0a4.4 4.4 0 1 0 -8.8 0M408.5 422.6a4.4 4.4 0 1 0 8.8 0a4.4 4.4 0 1 0 -8.8 0M409.3 422.7a4.4 4.4 0 1 0 8.8 0a4.4 4.4 0 1 0 -8.8 0M410.6 422.8a4.4 4.4 0 1 0 8.8 0a4.4 4.4 0 1 0 -8.8 0M411.9 422.9a4.4 4.4 0 1 0 8.8 0a4.4 4.4 0 1 0 -8.8 0M412.8 422.9a4.4 4.4 0 1 0 8.8 0a4.4 4.4 0 1 0 -8.8 0M414.1 423a4.4 4.4 0 1 0 8.8 0a4.4 4.4 0 1 0 -8.8 0M415.2 423.1a4.4 4.4 0 1 0 8.8 0a4.4 4.4 0 1 0 -8.8 0M416.4 423.2a4.4 4.4 0 1 0 8.8 0a4.4 4.4 0 1 0 -8.8 0M417.5 423.3a4.4 4.4 0 1 0 8.8 0a4.4 4.4 0 1 0 -8.8 0M418.6 423.3a4.4 4.4 0 1 0 8.8 0a4.4 4.4 0 1 0 -8.8 0M420 423.4a4.4 4.4 0 1 0 8.8 0a4.4 4.4 0 1 0 -8.8 0M421 423.4a4.4 4.4 0 1 0 8.8 0a4.4 4.4 0 1 0 -8.8 0M421.9 423.4a4.4 4.4 0 1 0 8.8 0a4.4 4.4 0 1 0 -8.8 0M423.5 423.4a4.4 4.4 0 1 0 8.8 0a4.4 4.4 0 1 0 -8.8 0M424.4 423.4a4.4 4.4 0 1 0 8.8 0a4.4 4.4 0 1 0 -8.8 0M425.3 423.4a4.4 4.4 0 1 0 8.8 0a4.4 4.4 0 1 0 -8.8 0M427.1 423.4a4.4 4.4 0 1 0 8.8 0a4.4 4.4 0 1 0 -8.8 0M427.9 423.4a4.4 4.4 0 1 0 8.8 0a4.4 4.4 0 1 0 -8.8 0M428.6 423.4a4.4 4.4 0 1 0 8.8 0a4.4 4.4 0 1 0 -8.8 0M430.7 423.4a4.4 4.4 0 1 0 8.8 0a4.4 4.4 0 1 0 -8.8 0M431.4 423.4a4.4 4.4 0 1 0 8.8 0a4.4 4.4 0 1 0 -8.8 0M432 423.4a4.4 4.4 0 1 0 8.8 0a4.4 4.4 0 1 0 -8.8 0M434.3 423.4a4.4 4.4 0 1 0 8.8 0a4.4 4.4 0 1 0 -8.8 0M434.8 423.4a4.4 4.4 0 1 0 8.8 0a4.4 4.4 0 1 0 -8.8 0M435.3 423.4a4.4 4.4 0 1 0 8.8 0a4.4 4.4 0 1 0 -8.8 0M437.8 423.4a4.4 4.4 0 1 0 8.8 0a4.4 4.4 0 1 0 -8.8 0M438.3 423.4a4.4 4.4 0 1 0 8.8 0a4.4 4.4 0 1 0 -8.8 0M438.7 423.4a4.4 4.4 0 1 0 8.8 0a4.4 4.4 0 1 0 -8.8 0M441.4 423.3a4.4 4.4 0 1 0 8.8 0a4.4 4.4 0 1 0 -8.8 0M441.7 423.3a4.4 4.4 0 1 0 8.8 0a4.4 4.4 0 1 0 -8.8 0M442 423.3a4.4 4.4 0 1 0 8.8 0a4.4 4.4 0 1 0 -8.8 0M445 423.3a4.4 4.4 0 1 0 8.8 0a4.4 4.4 0 1 0 -8.8 0M445.2 423.3a4.4 4.4 0 1 0 8.8 0a4.4 4.4 0 1 0 -8.8 0M445.4 423.2a4.4 4.4 0 1 0 8.8 0a4.4 4.4 0 1 0 -8.8 0M448.5 423.1a4.4 4.4 0 1 0 8.8 0a4.4 4.4 0 1 0 -8.8 0M448.6 423.1a4.4 4.4 0 1 0 8.8 0a4.4 4.4 0 1 0 -8.8 0M448.7 423.1a4.4 4.4 0 1 0 8.8 0a4.4 4.4 0 1 0 -8.8 0M452.1 423a4.4 4.4 0 1 0 8.8 0a4.4 4.4 0 1 0 -8.8 0M455.5 423.1a4.4 4.4 0 1 0 8.8 0a4.4 4.4 0 1 0 -8.8 0M455.6 423.1a4.4 4.4 0 1 0 8.8 0a4.4 4.4 0 1 0 -8.8 0M455.7 423.1a4.4 4.4 0 1 0 8.8 0a4.4 4.4 0 1 0 -8.8 0M458.8 423.2a4.4 4.4 0 1 0 8.8 0a4.4 4.4 0 1 0 -8.8 0M459 423.3a4.4 4.4 0 1 0 8.8 0a4.4 4.4 0 1 0 -8.8 0M459.2 423.3a4.4 4.4 0 1 0 8.8 0a4.4 4.4 0 1 0 -8.8 0M462.2 423.3a4.4 4.4 0 1 0 8.8 0a4.4 4.4 0 1 0 -8.8 0M462.5 423.3a4.4 4.4 0 1 0 8.8 0a4.4 4.4 0 1 0 -8.8 0M462.8 423.3a4.4 4.4 0 1 0 8.8 0a4.4 4.4 0 1 0 -8.8 0M465.5 423.4a4.4 4.4 0 1 0 8.8 0a4.4 4.4 0 1 0 -8.8 0M465.9 423.4a4.4 4.4 0 1 0 8.8 0a4.4 4.4 0 1 0 -8.8 0M466.4 423.4a4.4 4.4 0 1 0 8.8 0a4.4 4.4 0 1 0 -8.8 0M468.9 423.4a4.4 4.4 0 1 0 8.8 0a4.4 4.4 0 1 0 -8.8 0M469.4 423.4a4.4 4.4 0 1 0 8.8 0a4.4 4.4 0 1 0 -8.8 0M469.9 423.4a4.4 4.4 0 1 0 8.8 0a4.4 4.4 0 1 0 -8.8 0M472.2 423.4a4.4 4.4 0 1 0 8.8 0a4.4 4.4 0 1 0 -8.8 0M472.8 423.4a4.4 4.4 0 1 0 8.8 0a4.4 4.4 0 1 0 -8.8 0M473.5 423.4a4.4 4.4 0 1 0 8.8 0a4.4 4.4 0 1 0 -8.8 0M475.6 423.4a4.4 4.4 0 1 0 8.8 0a4.4 4.4 0 1 0 -8.8 0M476.3 423.4a4.4 4.4 0 1 0 8.8 0a4.4 4.4 0 1 0 -8.8 0M477.1 423.4a4.4 4.4 0 1 0 8.8 0a4.4 4.4 0 1 0 -8.8 0M478.9 423.4a4.4 4.4 0 1 0 8.8 0a4.4 4.4 0 1 0 -8.8 0M479.8 423.4a4.4 4.4 0 1 0 8.8 0a4.4 4.4 0 1 0 -8.8 0M480.7 423.4a4.4 4.4 0 1 0 8.8 0a4.4 4.4 0 1 0 -8.8 0M482.3 423.4a4.4 4.4 0 1 0 8.8 0a4.4 4.4 0 1 0 -8.8 0M483.2 423.4a4.4 4.4 0 1 0 8.8 0a4.4 4.4 0 1 0 -8.8 0M484.2 423.4a4.4 4.4 0 1 0 8.8 0a4.4 4.4 0 1 0 -8.8 0M485.6 423.3a4.4 4.4 0 1 0 8.8 0a4.4 4.4 0 1 0 -8.8 0M486.7 423.3a4.4 4.4 0 1 0 8.8 0a4.4 4.4 0 1 0 -8.8 0M487.8 423.2a4.4 4.4 0 1 0 8.8 0a4.4 4.4 0 1 0 -8.8 0M489 423.1a4.4 4.4 0 1 0 8.8 0a4.4 4.4 0 1 0 -8.8 0M490.1 423a4.4 4.4 0 1 0 8.8 0a4.4 4.4 0 1 0 -8.8 0M491.4 422.9a4.4 4.4 0 1 0 8.8 0a4.4 4.4 0 1 0 -8.8 0M492.3 422.9a4.4 4.4 0 1 0 8.8 0a4.4 4.4 0 1 0 -8.8 0M493.6 422.8a4.4 4.4 0 1 0 8.8 0a4.4 4.4 0 1 0 -8.8 0M494.9 422.7a4.4 4.4 0 1 0 8.8 0a4.4 4.4 0 1 0 -8.8 0M495.7 422.6a4.4 4.4 0 1 0 8.8 0a4.4 4.4 0 1 0 -8.8 0M497.1 422.5a4.4 4.4 0 1 0 8.8 0a4.4 4.4 0 1 0 -8.8 0M498.5 422.4a4.4 4.4 0 1 0 8.8 0a4.4 4.4 0 1 0 -8.8 0M499 422.3a4.4 4.4 0 1 0 8.8 0a4.4 4.4 0 1 0 -8.8 0M500.5 422.1a4.4 4.4 0 1 0 8.8 0a4.4 4.4 0 1 0 -8.8 0M502.1 421.9a4.4 4.4 0 1 0 8.8 0a4.4 4.4 0 1 0 -8.8 0M502.4 421.9a4.4 4.4 0 1 0 8.8 0a4.4 4.4 0 1 0 -8.8 0M504 421.6a4.4 4.4 0 1 0 8.8 0a4.4 4.4 0 1 0 -8.8 0M505.6 421.3a4.4 4.4 0 1 0 8.8 0a4.4 4.4 0 1 0 -8.8 0M505.8 421.3a4.4 4.4 0 1 0 8.8 0a4.4 4.4 0 1 0 -8.8 0M507.4 420.9a4.4 4.4 0 1 0 8.8 0a4.4 4.4 0 1 0 -8.8 0M509.1 420.5a4.4 4.4 0 1 0 8.8 0a4.4 4.4 0 1 0 -8.8 0M509.2 420.5a4.4 4.4 0 1 0 8.8 0a4.4 4.4 0 1 0 -8.8 0M510.9 420.2a4.4 4.4 0 1 0 8.8 0a4.4 4.4 0 1 0 -8.8 0M512.5 419.9a4.4 4.4 0 1 0 8.8 0a4.4 4.4 0 1 0 -8.8 0M512.8 419.8a4.4 4.4 0 1 0 8.8 0a4.4 4.4 0 1 0 -8.8 0M514.4 419.5a4.4 4.4 0 1 0 8.8 0a4.4 4.4 0 1 0 -8.8 0M515.8 419.2a4.4 4.4 0 1 0 8.8 0a4.4 4.4 0 1 0 -8.8 0M516.4 419.1a4.4 4.4 0 1 0 8.8 0a4.4 4.4 0 1 0 -8.8 0M517.8 418.8a4.4 4.4 0 1 0 8.8 0a4.4 4.4 0 1 0 -8.8 0M519.2 418.5a4.4 4.4 0 1 0 8.8 0a4.4 4.4 0 1 0 -8.8 0M519.9 418.3a4.4 4.4 0 1 0 8.8 0a4.4 4.4 0 1 0 -8.8 0M521.3 418a4.4 4.4 0 1 0 8.8 0a4.4 4.4 0 1 0 -8.8 0M522.5 417.7a4.4 4.4 0 1 0 8.8 0a4.4 4.4 0 1 0 -8.8 0M523.5 417.4a4.4 4.4 0 1 0 8.8 0a4.4 4.4 0 1 0 -8.8 0M524.7 417.1a4.4 4.4 0 1 0 8.8 0a4.4 4.4 0 1 0 -8.8 0M525.9 416.8a4.4 4.4 0 1 0 8.8 0a4.4 4.4 0 1 0 -8.8 0M527.1 416.5a4.4 4.4 0 1 0 8.8 0a4.4 4.4 0 1 0 -8.8 0M528.2 416.2a4.4 4.4 0 1 0 8.8 0a4.4 4.4 0 1 0 -8.8 0M529.2 415.9a4.4 4.4 0 1 0 8.8 0a4.4 4.4 0 1 0 -8.8 0M530.6 415.5a4.4 4.4 0 1 0 8.8 0a4.4 4.4 0 1 0 -8.8 0M531.6 415.1a4.4 4.4 0 1 0 8.8 0a4.4 4.4 0 1 0 -8.8 0M532.6 414.8a4.4 4.4 0 1 0 8.8 0a4.4 4.4 0 1 0 -8.8 0M534.2 414.1a4.4 4.4 0 1 0 8.8 0a4.4 4.4 0 1 0 -8.8 0M535.1 413.7a4.4 4.4 0 1 0 8.8 0a4.4 4.4 0 1 0 -8.8 0M535.9 413.3a4.4 4.4 0 1 0 8.8 0a4.4 4.4 0 1 0 -8.8 0M537.8 412.3a4.4 4.4 0 1 0 8.8 0a4.4 4.4 0 1 0 -8.8 0M538.6 411.9a4.4 4.4 0 1 0 8.8 0a4.4 4.4 0 1 0 -8.8 0M539.3 411.5a4.4 4.4 0 1 0 8.8 0a4.4 4.4 0 1 0 -8.8 0M541.3 410.3a4.4 4.4 0 1 0 8.8 0a4.4 4.4 0 1 0 -8.8 0M542 409.9a4.4 4.4 0 1 0 8.8 0a4.4 4.4 0 1 0 -8.8 0M542.6 409.5a4.4 4.4 0 1 0 8.8 0a4.4 4.4 0 1 0 -8.8 0M544.9 408.1a4.4 4.4 0 1 0 8.8 0a4.4 4.4 0 1 0 -8.8 0M545.5 407.7a4.4 4.4 0 1 0 8.8 0a4.4 4.4 0 1 0 -8.8 0M546 407.4a4.4 4.4 0 1 0 8.8 0a4.4 4.4 0 1 0 -8.8 0M548.5 405.6a4.4 4.4 0 1 0 8.8 0a4.4 4.4 0 1 0 -8.8 0M548.9 405.3a4.4 4.4 0 1 0 8.8 0a4.4 4.4 0 1 0 -8.8 0M549.4 405a4.4 4.4 0 1 0 8.8 0a4.4 4.4 0 1 0 -8.8 0M552.1 403.1a4.4 4.4 0 1 0 8.8 0a4.4 4.4 0 1 0 -8.8 0M552.4 402.9a4.4 4.4 0 1 0 8.8 0a4.4 4.4 0 1 0 -8.8 0M552.7 402.6a4.4 4.4 0 1 0 8.8 0a4.4 4.4 0 1 0 -8.8 0M555.6 400.2a4.4 4.4 0 1 0 8.8 0a4.4 4.4 0 1 0 -8.8 0M555.8 400a4.4 4.4 0 1 0 8.8 0a4.4 4.4 0 1 0 -8.8 0M556.1 399.8a4.4 4.4 0 1 0 8.8 0a4.4 4.4 0 1 0 -8.8 0M559.2 396.2a4.4 4.4 0 1 0 8.8 0a4.4 4.4 0 1 0 -8.8 0M559.3 396.1a4.4 4.4 0 1 0 8.8 0a4.4 4.4 0 1 0 -8.8 0M559.4 395.9a4.4 4.4 0 1 0 8.8 0a4.4 4.4 0 1 0 -8.8 0M562.8 391.5a4.4 4.4 0 1 0 8.8 0a4.4 4.4 0 1 0 -8.8 0M566.1 386.5a4.4 4.4 0 1 0 8.8 0a4.4 4.4 0 1 0 -8.8 0M566.2 386.3a4.4 4.4 0 1 0 8.8 0a4.4 4.4 0 1 0 -8.8 0M566.3 386.1a4.4 4.4 0 1 0 8.8 0a4.4 4.4 0 1 0 -8.8 0M569.5 381.2a4.4 4.4 0 1 0 8.8 0a4.4 4.4 0 1 0 -8.8 0M569.7 380.8a4.4 4.4 0 1 0 8.8 0a4.4 4.4 0 1 0 -8.8 0M569.9 380.5a4.4 4.4 0 1 0 8.8 0a4.4 4.4 0 1 0 -8.8 0M572.8 375.5a4.4 4.4 0 1 0 8.8 0a4.4 4.4 0 1 0 -8.8 0M573.1 374.9a4.4 4.4 0 1 0 8.8 0a4.4 4.4 0 1 0 -8.8 0M573.5 374.3a4.4 4.4 0 1 0 8.8 0a4.4 4.4 0 1 0 -8.8 0M576.2 369.3a4.4 4.4 0 1 0 8.8 0a4.4 4.4 0 1 0 -8.8 0M576.6 368.4a4.4 4.4 0 1 0 8.8 0a4.4 4.4 0 1 0 -8.8 0M577 367.6a4.4 4.4 0 1 0 8.8 0a4.4 4.4 0 1 0 -8.8 0M579.5 362.4a4.4 4.4 0 1 0 8.8 0a4.4 4.4 0 1 0 -8.8 0M580.1 361.3a4.4 4.4 0 1 0 8.8 0a4.4 4.4 0 1 0 -8.8 0M580.6 360a4.4 4.4 0 1 0 8.8 0a4.4 4.4 0 1 0 -8.8 0M582.9 354.8a4.4 4.4 0 1 0 8.8 0a4.4 4.4 0 1 0 -8.8 0M583.5 353.4a4.4 4.4 0 1 0 8.8 0a4.4 4.4 0 1 0 -8.8 0M584.2 352a4.4 4.4 0 1 0 8.8 0a4.4 4.4 0 1 0 -8.8 0M586.2 348.1a4.4 4.4 0 1 0 8.8 0a4.4 4.4 0 1 0 -8.8 0M587 346.4a4.4 4.4 0 1 0 8.8 0a4.4 4.4 0 1 0 -8.8 0M587.8 344.3a4.4 4.4 0 1 0 8.8 0a4.4 4.4 0 1 0 -8.8 0M589.6 338.9a4.4 4.4 0 1 0 8.8 0a4.4 4.4 0 1 0 -8.8 0M590.4 336.4a4.4 4.4 0 1 0 8.8 0a4.4 4.4 0 1 0 -8.8 0M591.3 333.8a4.4 4.4 0 1 0 8.8 0a4.4 4.4 0 1 0 -8.8 0M592.9 327.8a4.4 4.4 0 1 0 8.8 0a4.4 4.4 0 1 0 -8.8 0M593.9 321.7a4.4 4.4 0 1 0 8.8 0a4.4 4.4 0 1 0 -8.8 0M594.9 314.8a4.4 4.4 0 1 0 8.8 0a4.4 4.4 0 1 0 -8.8 0M596.3 306.1a4.4 4.4 0 1 0 8.8 0a4.4 4.4 0 1 0 -8.8 0M597.4 299.4a4.4 4.4 0 1 0 8.8 0a4.4 4.4 0 1 0 -8.8 0M598.5 292.5a4.4 4.4 0 1 0 8.8 0a4.4 4.4 0 1 0 -8.8 0M599.7 285.4a4.4 4.4 0 1 0 8.8 0a4.4 4.4 0 1 0 -8.8 0M600.8 278.7a4.4 4.4 0 1 0 8.8 0a4.4 4.4 0 1 0 -8.8 0M602 271.8a4.4 4.4 0 1 0 8.8 0a4.4 4.4 0 1 0 -8.8 0M603 265.5a4.4 4.4 0 1 0 8.8 0a4.4 4.4 0 1 0 -8.8 0M604.3 255.6a4.4 4.4 0 1 0 8.8 0a4.4 4.4 0 1 0 -8.8 0M605.6 247.4a4.4 4.4 0 1 0 8.8 0a4.4 4.4 0 1 0 -8.8 0M606.4 243.8a4.4 4.4 0 1 0 8.8 0a4.4 4.4 0 1 0 -8.8 0M607.7 238.4a4.4 4.4 0 1 0 8.8 0a4.4 4.4 0 1 0 -8.8 0M609.2 234.9a4.4 4.4 0 1 0 8.8 0a4.4 4.4 0 1 0 -8.8 0M609.7 233.7a4.4 4.4 0 1 0 8.8 0a4.4 4.4 0 1 0 -8.8 0M611.2 231.6a4.4 4.4 0 1 0 8.8 0a4.4 4.4 0 1 0 -8.8 0M612.7 232a4.4 4.4 0 1 0 8.8 0a4.4 4.4 0 1 0 -8.8 0M613.1 232.6a4.4 4.4 0 1 0 8.8 0a4.4 4.4 0 1 0 -8.8 0M614.6 236.9a4.4 4.4 0 1 0 8.8 0a4.4 4.4 0 1 0 -8.8 0M616.3 244.9a4.4 4.4 0 1 0 8.8 0a4.4 4.4 0 1 0 -8.8 0M616.4 245.5a4.4 4.4 0 1 0 8.8 0a4.4 4.4 0 1 0 -8.8 0M618.1 254.3a4.4 4.4 0 1 0 8.8 0a4.4 4.4 0 1 0 -8.8 0M619.8 268.9a4.4 4.4 0 1 0 8.8 0a4.4 4.4 0 1 0 -8.8 0M619.9 269.9a4.4 4.4 0 1 0 8.8 0a4.4 4.4 0 1 0 -8.8 0M621.6 283.2a4.4 4.4 0 1 0 8.8 0a4.4 4.4 0 1 0 -8.8 0M623.1 295.1a4.4 4.4 0 1 0 8.8 0a4.4 4.4 0 1 0 -8.8 0M623.5 296.7a4.4 4.4 0 1 0 8.8 0a4.4 4.4 0 1 0 -8.8 0M625 304.1a4.4 4.4 0 1 0 8.8 0a4.4 4.4 0 1 0 -8.8 0M626.5 311.5a4.4 4.4 0 1 0 8.8 0a4.4 4.4 0 1 0 -8.8 0M627 314.1a4.4 4.4 0 1 0 8.8 0a4.4 4.4 0 1 0 -8.8 0M628.5 320.9a4.4 4.4 0 1 0 8.8 0a4.4 4.4 0 1 0 -8.8 0M629.8 327a4.4 4.4 0 1 0 8.8 0a4.4 4.4 0 1 0 -8.8 0M630.6 330.2a4.4 4.4 0 1 0 8.8 0a4.4 4.4 0 1 0 -8.8 0M631.9 335.5a4.4 4.4 0 1 0 8.8 0a4.4 4.4 0 1 0 -8.8 0M633.2 341.1a4.4 4.4 0 1 0 8.8 0a4.4 4.4 0 1 0 -8.8 0M634.2 345.2a4.4 4.4 0 1 0 8.8 0a4.4 4.4 0 1 0 -8.8 0M635.4 349.5a4.4 4.4 0 1 0 8.8 0a4.4 4.4 0 1 0 -8.8 0M636.5 353.1a4.4 4.4 0 1 0 8.8 0a4.4 4.4 0 1 0 -8.8 0M637.7 356.7a4.4 4.4 0 1 0 8.8 0a4.4 4.4 0 1 0 -8.8 0M638.8 359.9a4.4 4.4 0 1 0 8.8 0a4.4 4.4 0 1 0 -8.8 0M639.9 362.7a4.4 4.4 0 1 0 8.8 0a4.4 4.4 0 1 0 -8.8 0M641.3 366.4a4.4 4.4 0 1 0 8.8 0a4.4 4.4 0 1 0 -8.8 0M642.3 369a4.4 4.4 0 1 0 8.8 0a4.4 4.4 0 1 0 -8.8 0M643.3 371.1a4.4 4.4 0 1 0 8.8 0a4.4 4.4 0 1 0 -8.8 0M644.9 374.7a4.4 4.4 0 1 0 8.8 0a4.4 4.4 0 1 0 -8.8 0M645.8 376.5a4.4 4.4 0 1 0 8.8 0a4.4 4.4 0 1 0 -8.8 0M646.6 378a4.4 4.4 0 1 0 8.8 0a4.4 4.4 0 1 0 -8.8 0M648.4 381.1a4.4 4.4 0 1 0 8.8 0a4.4 4.4 0 1 0 -8.8 0M649.2 382.2a4.4 4.4 0 1 0 8.8 0a4.4 4.4 0 1 0 -8.8 0M650 383.3a4.4 4.4 0 1 0 8.8 0a4.4 4.4 0 1 0 -8.8 0M652 385.8a4.4 4.4 0 1 0 8.8 0a4.4 4.4 0 1 0 -8.8 0M652.7 386.5a4.4 4.4 0 1 0 8.8 0a4.4 4.4 0 1 0 -8.8 0M653.3 387.1a4.4 4.4 0 1 0 8.8 0a4.4 4.4 0 1 0 -8.8 0M655.6 389.1a4.4 4.4 0 1 0 8.8 0a4.4 4.4 0 1 0 -8.8 0M656.1 389.5a4.4 4.4 0 1 0 8.8 0a4.4 4.4 0 1 0 -8.8 0M656.7 389.9a4.4 4.4 0 1 0 8.8 0a4.4 4.4 0 1 0 -8.8 0M659.2 392.1a4.4 4.4 0 1 0 8.8 0a4.4 4.4 0 1 0 -8.8 0M659.6 392.5a4.4 4.4 0 1 0 8.8 0a4.4 4.4 0 1 0 -8.8 0M660 392.9a4.4 4.4 0 1 0 8.8 0a4.4 4.4 0 1 0 -8.8 0M662.7 395.5a4.4 4.4 0 1 0 8.8 0a4.4 4.4 0 1 0 -8.8 0M663.1 395.8a4.4 4.4 0 1 0 8.8 0a4.4 4.4 0 1 0 -8.8 0M663.4 396.1a4.4 4.4 0 1 0 8.8 0a4.4 4.4 0 1 0 -8.8 0M666.3 398.7a4.4 4.4 0 1 0 8.8 0a4.4 4.4 0 1 0 -8.8 0M666.5 398.9a4.4 4.4 0 1 0 8.8 0a4.4 4.4 0 1 0 -8.8 0M666.7 399.1a4.4 4.4 0 1 0 8.8 0a4.4 4.4 0 1 0 -8.8 0M669.9 401.9a4.4 4.4 0 1 0 8.8 0a4.4 4.4 0 1 0 -8.8 0M670 402a4.4 4.4 0 1 0 8.8 0a4.4 4.4 0 1 0 -8.8 0M670.1 402.1a4.4 4.4 0 1 0 8.8 0a4.4 4.4 0 1 0 -8.8 0M673.4 404.8a4.4 4.4 0 1 0 8.8 0a4.4 4.4 0 1 0 -8.8 0M676.8 407.1a4.4 4.4 0 1 0 8.8 0a4.4 4.4 0 1 0 -8.8 0M676.9 407.2a4.4 4.4 0 1 0 8.8 0a4.4 4.4 0 1 0 -8.8 0M677 407.2a4.4 4.4 0 1 0 8.8 0a4.4 4.4 0 1 0 -8.8 0M680.1 408.8a4.4 4.4 0 1 0 8.8 0a4.4 4.4 0 1 0 -8.8 0M680.4 408.9a4.4 4.4 0 1 0 8.8 0a4.4 4.4 0 1 0 -8.8 0M680.6 409a4.4 4.4 0 1 0 8.8 0a4.4 4.4 0 1 0 -8.8 0M683.5 410.3a4.4 4.4 0 1 0 8.8 0a4.4 4.4 0 1 0 -8.8 0M683.8 410.5a4.4 4.4 0 1 0 8.8 0a4.4 4.4 0 1 0 -8.8 0M684.1 410.6a4.4 4.4 0 1 0 8.8 0a4.4 4.4 0 1 0 -8.8 0M686.8 411.8a4.4 4.4 0 1 0 8.8 0a4.4 4.4 0 1 0 -8.8 0M687.3 412a4.4 4.4 0 1 0 8.8 0a4.4 4.4 0 1 0 -8.8 0M687.7 412.2a4.4 4.4 0 1 0 8.8 0a4.4 4.4 0 1 0 -8.8 0M690.2 413.2a4.4 4.4 0 1 0 8.8 0a4.4 4.4 0 1 0 -8.8 0M690.7 413.4a4.4 4.4 0 1 0 8.8 0a4.4 4.4 0 1 0 -8.8 0M691.3 413.6a4.4 4.4 0 1 0 8.8 0a4.4 4.4 0 1 0 -8.8 0M693.6 414.5a4.4 4.4 0 1 0 8.8 0a4.4 4.4 0 1 0 -8.8 0M694.2 414.7a4.4 4.4 0 1 0 8.8 0a4.4 4.4 0 1 0 -8.8 0M694.9 414.9a4.4 4.4 0 1 0 8.8 0a4.4 4.4 0 1 0 -8.8 0M696.9 415.7a4.4 4.4 0 1 0 8.8 0a4.4 4.4 0 1 0 -8.8 0M697.6 415.9a4.4 4.4 0 1 0 8.8 0a4.4 4.4 0 1 0 -8.8 0M698.4 416.2a4.4 4.4 0 1 0 8.8 0a4.4 4.4 0 1 0 -8.8 0M700.3 416.8a4.4 4.4 0 1 0 8.8 0a4.4 4.4 0 1 0 -8.8 0M701.1 417a4.4 4.4 0 1 0 8.8 0a4.4 4.4 0 1 0 -8.8 0M702 417.3a4.4 4.4 0 1 0 8.8 0a4.4 4.4 0 1 0 -8.8 0M703.6 417.8a4.4 4.4 0 1 0 8.8 0a4.4 4.4 0 1 0 -8.8 0M704.6 418a4.4 4.4 0 1 0 8.8 0a4.4 4.4 0 1 0 -8.8 0M705.6 418.3a4.4 4.4 0 1 0 8.8 0a4.4 4.4 0 1 0 -8.8 0M707 418.7a4.4 4.4 0 1 0 8.8 0a4.4 4.4 0 1 0 -8.8 0M708 418.9a4.4 4.4 0 1 0 8.8 0a4.4 4.4 0 1 0 -8.8 0M709.1 419.2a4.4 4.4 0 1 0 8.8 0a4.4 4.4 0 1 0 -8.8 0M710.3 419.5a4.4 4.4 0 1 0 8.8 0a4.4 4.4 0 1 0 -8.8 0M711.5 419.8a4.4 4.4 0 1 0 8.8 0a4.4 4.4 0 1 0 -8.8 0M712.7 420.1a4.4 4.4 0 1 0 8.8 0a4.4 4.4 0 1 0 -8.8 0M713.7 420.3a4.4 4.4 0 1 0 8.8 0a4.4 4.4 0 1 0 -8.8 0M714.9 420.6a4.4 4.4 0 1 0 8.8 0a4.4 4.4 0 1 0 -8.8 0M716.3 420.8a4.4 4.4 0 1 0 8.8 0a4.4 4.4 0 1 0 -8.8 0M717 421a4.4 4.4 0 1 0 8.8 0a4.4 4.4 0 1 0 -8.8 0M718.4 421.3a4.4 4.4 0 1 0 8.8 0a4.4 4.4 0 1 0 -8.8 0M719.8 421.6a4.4 4.4 0 1 0 8.8 0a4.4 4.4 0 1 0 -8.8 0M720.4 421.7a4.4 4.4 0 1 0 8.8 0a4.4 4.4 0 1 0 -8.8 0M721.8 422a4.4 4.4 0 1 0 8.8 0a4.4 4.4 0 1 0 -8.8 0M723.4 422.3a4.4 4.4 0 1 0 8.8 0a4.4 4.4 0 1 0 -8.8 0M723.7 422.4a4.4 4.4 0 1 0 8.8 0a4.4 4.4 0 1 0 -8.8 0M725.3 422.6a4.4 4.4 0 1 0 8.8 0a4.4 4.4 0 1 0 -8.8 0M727 422.8a4.4 4.4 0 1 0 8.8 0a4.4 4.4 0 1 0 -8.8 0M727.1 422.9a4.4 4.4 0 1 0 8.8 0a4.4 4.4 0 1 0 -8.8 0M728.8 423a4.4 4.4 0 1 0 8.8 0a4.4 4.4 0 1 0 -8.8 0M730.4 423.1a4.4 4.4 0 1 0 8.8 0a4.4 4.4 0 1 0 -8.8 0M730.6 423.1a4.4 4.4 0 1 0 8.8 0a4.4 4.4 0 1 0 -8.8 0M732.2 423.2a4.4 4.4 0 1 0 8.8 0a4.4 4.4 0 1 0 -8.8 0M733.8 423.3a4.4 4.4 0 1 0 8.8 0a4.4 4.4 0 1 0 -8.8 0M734.1 423.3a4.4 4.4 0 1 0 8.8 0a4.4 4.4 0 1 0 -8.8 0M735.7 423.4a4.4 4.4 0 1 0 8.8 0a4.4 4.4 0 1 0 -8.8 0M737.2 423.5a4.4 4.4 0 1 0 8.8 0a4.4 4.4 0 1 0 -8.8 0M737.7 423.5a4.4 4.4 0 1 0 8.8 0a4.4 4.4 0 1 0 -8.8 0M739.1 423.6a4.4 4.4 0 1 0 8.8 0a4.4 4.4 0 1 0 -8.8 0M740.5 423.6a4.4 4.4 0 1 0 8.8 0a4.4 4.4 0 1 0 -8.8 0M741.3 423.6a4.4 4.4 0 1 0 8.8 0a4.4 4.4 0 1 0 -8.8 0M742.6 423.7a4.4 4.4 0 1 0 8.8 0a4.4 4.4 0 1 0 -8.8 0M743.9 423.7a4.4 4.4 0 1 0 8.8 0a4.4 4.4 0 1 0 -8.8 0M744.8 423.7a4.4 4.4 0 1 0 8.8 0a4.4 4.4 0 1 0 -8.8 0M746.1 423.7a4.4 4.4 0 1 0 8.8 0a4.4 4.4 0 1 0 -8.8 0M747.2 423.7a4.4 4.4 0 1 0 8.8 0a4.4 4.4 0 1 0 -8.8 0M748.4 423.8a4.4 4.4 0 1 0 8.8 0a4.4 4.4 0 1 0 -8.8 0M749.5 423.8a4.4 4.4 0 1 0 8.8 0a4.4 4.4 0 1 0 -8.8 0M750.6 423.8a4.4 4.4 0 1 0 8.8 0a4.4 4.4 0 1 0 -8.8 0M752 423.8a4.4 4.4 0 1 0 8.8 0a4.4 4.4 0 1 0 -8.8 0M753 423.8a4.4 4.4 0 1 0 8.8 0a4.4 4.4 0 1 0 -8.8 0M753.9 423.8a4.4 4.4 0 1 0 8.8 0a4.4 4.4 0 1 0 -8.8 0M755.5 423.9a4.4 4.4 0 1 0 8.8 0a4.4 4.4 0 1 0 -8.8 0M756.4 423.9a4.4 4.4 0 1 0 8.8 0a4.4 4.4 0 1 0 -8.8 0M757.3 423.9a4.4 4.4 0 1 0 8.8 0a4.4 4.4 0 1 0 -8.8 0M759.1 423.9a4.4 4.4 0 1 0 8.8 0a4.4 4.4 0 1 0 -8.8 0M759.9 423.9a4.4 4.4 0 1 0 8.8 0a4.4 4.4 0 1 0 -8.8 0M760.6 423.9a4.4 4.4 0 1 0 8.8 0a4.4 4.4 0 1 0 -8.8 0M762.7 423.9a4.4 4.4 0 1 0 8.8 0a4.4 4.4 0 1 0 -8.8 0M763.4 423.9a4.4 4.4 0 1 0 8.8 0a4.4 4.4 0 1 0 -8.8 0M764 423.9a4.4 4.4 0 1 0 8.8 0a4.4 4.4 0 1 0 -8.8 0M766.3 423.9a4.4 4.4 0 1 0 8.8 0a4.4 4.4 0 1 0 -8.8 0M766.8 423.9a4.4 4.4 0 1 0 8.8 0a4.4 4.4 0 1 0 -8.8 0M767.3 423.9a4.4 4.4 0 1 0 8.8 0a4.4 4.4 0 1 0 -8.8 0M769.8 423.9a4.4 4.4 0 1 0 8.8 0a4.4 4.4 0 1 0 -8.8 0M770.3 423.9a4.4 4.4 0 1 0 8.8 0a4.4 4.4 0 1 0 -8.8 0M770.7 423.9a4.4 4.4 0 1 0 8.8 0a4.4 4.4 0 1 0 -8.8 0M773.4 423.9a4.4 4.4 0 1 0 8.8 0a4.4 4.4 0 1 0 -8.8 0M773.7 423.9a4.4 4.4 0 1 0 8.8 0a4.4 4.4 0 1 0 -8.8 0M774 423.9a4.4 4.4 0 1 0 8.8 0a4.4 4.4 0 1 0 -8.8 0M777 423.8a4.4 4.4 0 1 0 8.8 0a4.4 4.4 0 1 0 -8.8 0M777.2 423.8a4.4 4.4 0 1 0 8.8 0a4.4 4.4 0 1 0 -8.8 0M777.4 423.8a4.4 4.4 0 1 0 8.8 0a4.4 4.4 0 1 0 -8.8 0M780.5 423.8a4.4 4.4 0 1 0 8.8 0a4.4 4.4 0 1 0 -8.8 0M780.6 423.8a4.4 4.4 0 1 0 8.8 0a4.4 4.4 0 1 0 -8.8 0M780.7 423.8a4.4 4.4 0 1 0 8.8 0a4.4 4.4 0 1 0 -8.8 0" fill="none" stroke="#009e73" stroke-width="1.1" stroke-linejoin="miter"/>
<path d="M124.5 423.7h0M127.9 423.8h0M128 423.8h0M128.1 423.8h0M131.2 423.8h0M131.4 423.8h0M131.6 423.8h0M134.6 423.9h0M134.9 423.9h0M135.2 423.9h0M137.9 423.9h0M138.3 423.9h0M138.8 423.9h0M141.3 423.9h0M141.8 423.9h0M142.3 423.9h0M144.6 423.9h0M145.2 423.9h0M145.9 423.9h0M148 423.9h0M148.7 423.9h0M149.5 423.9h0M151.3 423.9h0M152.2 423.9h0M153.1 423.9h0M154.7 423.8h0M155.6 423.8h0M156.6 423.8h0M158 423.8h0M159.1 423.8h0M160.2 423.8h0M161.4 423.7h0M162.5 423.7h0M163.8 423.7h0M164.7 423.7h0M166 423.7h0M167.3 423.6h0M168.1 423.6h0M169.5 423.6h0M170.9 423.5h0M171.4 423.5h0M172.9 423.4h0M174.5 423.3h0M174.8 423.3h0M176.4 423.2h0M178 423.1h0M178.2 423.1h0M179.8 423h0M181.5 422.9h0M181.6 422.8h0M183.3 422.6h0M184.9 422.4h0M185.2 422.3h0M186.8 422h0M188.2 421.7h0M188.8 421.6h0M190.2 421.3h0M191.6 421h0M192.3 420.8h0M193.7 420.6h0M194.9 420.3h0M195.9 420.1h0M197.1 419.8h0M198.3 419.5h0M199.5 419.2h0M200.6 418.9h0M201.6 418.7h0M203 418.3h0M204 418h0M205 417.8h0M206.6 417.3h0M207.5 417h0M208.3 416.8h0M210.2 416.2h0M211 415.9h0M211.7 415.7h0M213.7 414.9h0M214.4 414.7h0M215 414.5h0M217.3 413.6h0M217.9 413.4h0M218.4 413.2h0M220.9 412.2h0M221.3 412h0M221.8 411.8h0M224.5 410.6h0M224.8 410.5h0M225.1 410.3h0M228 409h0M228.2 408.9h0M228.5 408.8h0M231.6 407.2h0M231.7 407.2h0M231.8 407.1h0M235.2 404.8h0M238.5 402.1h0M238.6 402h0M238.7 401.9h0M241.9 399.1h0M242.1 398.9h0M242.3 398.7h0M245.2 396.1h0M245.5 395.8h0M245.9 395.5h0M248.6 392.9h0M249 392.5h0M249.4 392.1h0M251.9 389.9h0M252.5 389.5h0M253 389.1h0M255.3 387.1h0M255.9 386.5h0M256.6 385.8h0M258.6 383.3h0M259.4 382.2h0M260.2 381.1h0M262 378h0M262.8 376.5h0M263.7 374.7h0M265.3 371.1h0M266.3 369h0M267.3 366.4h0M268.7 362.7h0M269.8 359.9h0M270.9 356.7h0M272.1 353.1h0M273.2 349.5h0M274.4 345.2h0M275.4 341.1h0M276.7 335.5h0M278 330.2h0M278.8 327h0M280.1 320.9h0M281.6 314.1h0M282.1 311.5h0M283.6 304.1h0M285.1 296.7h0M285.5 295.1h0M287 283.2h0M288.7 269.9h0M288.8 268.9h0M290.5 254.3h0M292.2 245.5h0M292.3 244.9h0M294 236.9h0M295.5 232.6h0M295.9 232h0M297.4 231.6h0M298.9 233.7h0M299.4 234.9h0M300.9 238.4h0M302.2 243.8h0M303 247.4h0M304.3 255.6h0M305.6 265.5h0M306.6 271.8h0M307.8 278.7h0M308.9 285.4h0M310.1 292.5h0M311.2 299.4h0M312.3 306.1h0M313.7 314.8h0M314.7 321.7h0M315.7 327.8h0M317.3 333.8h0M318.2 336.4h0M319 338.9h0M320.8 344.3h0M321.6 346.4h0M322.4 348.1h0M324.4 352h0M325.1 353.4h0M325.7 354.8h0M328 360h0M328.5 361.3h0M329.1 362.4h0M331.6 367.6h0M332 368.4h0M332.4 369.3h0M335.1 374.3h0M335.5 374.9h0M335.8 375.5h0M338.7 380.5h0M338.9 380.8h0M339.1 381.2h0M342.3 386.1h0M342.4 386.3h0M342.5 386.5h0M345.8 391.5h0M349.2 395.9h0M349.3 396.1h0M349.4 396.2h0M352.5 399.8h0M352.8 400h0M353 400.2h0M355.9 402.6h0M356.2 402.9h0M356.5 403.1h0M359.2 405h0M359.7 405.3h0M360.1 405.6h0M362.6 407.4h0M363.1 407.7h0M363.7 408.1h0M366 409.5h0M366.6 409.9h0M367.3 410.3h0M369.3 411.5h0M370 411.9h0M370.8 412.3h0M372.7 413.3h0M373.5 413.7h0M374.4 414.1h0M376 414.8h0M377 415.1h0M378 415.5h0M379.4 415.9h0M380.4 416.2h0M381.5 416.5h0M382.7 416.8h0M383.9 417.1h0M385.1 417.4h0M386.1 417.7h0M387.3 418h0M388.7 418.3h0M389.4 418.5h0M390.8 418.8h0M392.2 419.1h0M392.8 419.2h0M394.2 419.5h0M395.8 419.8h0M396.1 419.9h0M397.7 420.2h0M399.4 420.5h0M399.5 420.5h0M401.2 420.9h0M402.8 421.3h0M403 421.3h0M404.6 421.6h0M406.2 421.9h0M406.5 421.9h0M408.1 422.1h0M409.6 422.3h0M410.1 422.4h0M411.5 422.5h0M412.9 422.6h0M413.7 422.7h0M415 422.8h0M416.3 422.9h0M417.2 422.9h0M418.5 423h0M419.6 423.1h0M420.8 423.2h0M421.9 423.3h0M423 423.3h0M424.4 423.4h0M425.4 423.4h0M426.3 423.4h0M427.9 423.4h0M428.8 423.4h0M429.7 423.4h0M431.5 423.4h0M432.3 423.4h0M433 423.4h0M435.1 423.4h0M435.8 423.4h0M436.4 423.4h0M438.7 423.4h0M439.2 423.4h0M439.7 423.4h0M442.2 423.4h0M442.7 423.4h0M443.1 423.4h0M445.8 423.3h0M446.1 423.3h0M446.4 423.3h0M449.4 423.3h0M449.6 423.3h0M449.8 423.2h0M452.9 423.1h0M453 423.1h0M453.1 423.1h0M456.5 423h0M459.9 423.1h0M460 423.1h0M460.1 423.1h0M463.2 423.2h0M463.4 423.3h0M463.6 423.3h0M466.6 423.3h0M466.9 423.3h0M467.2 423.3h0M469.9 423.4h0M470.3 423.4h0M470.8 423.4h0M473.3 423.4h0M473.8 423.4h0M474.3 423.4h0M476.6 423.4h0M477.2 423.4h0M477.9 423.4h0M480 423.4h0M480.7 423.4h0M481.5 423.4h0M483.3 423.4h0M484.2 423.4h0M485.1 423.4h0M486.7 423.4h0M487.6 423.4h0M488.6 423.4h0M490 423.3h0M491.1 423.3h0M492.2 423.2h0M493.4 423.1h0M494.5 423h0M495.8 422.9h0M496.7 422.9h0M498 422.8h0M499.3 422.7h0M500.1 422.6h0M501.5 422.5h0M502.9 422.4h0M503.4 422.3h0M504.9 422.1h0M506.5 421.9h0M506.8 421.9h0M508.4 421.6h0M510 421.3h0M510.2 421.3h0M511.8 420.9h0M513.5 420.5h0M513.6 420.5h0M515.3 420.2h0M516.9 419.9h0M517.2 419.8h0M518.8 419.5h0M520.2 419.2h0M520.8 419.1h0M522.2 418.8h0M523.6 418.5h0M524.3 418.3h0M525.7 418h0M526.9 417.7h0M527.9 417.4h0M529.1 417.1h0M530.3 416.8h0M531.5 416.5h0M532.6 416.2h0M533.6 415.9h0M535 415.5h0M536 415.1h0M537 414.8h0M538.6 414.1h0M539.5 413.7h0M540.3 413.3h0M542.2 412.3h0M543 411.9h0M543.7 411.5h0M545.7 410.3h0M546.4 409.9h0M547 409.5h0M549.3 408.1h0M549.9 407.7h0M550.4 407.4h0M552.9 405.6h0M553.3 405.3h0M553.8 405h0M556.5 403.1h0M556.8 402.9h0M557.1 402.6h0M560 400.2h0M560.2 400h0M560.5 399.8h0M563.6 396.2h0M563.7 396.1h0M563.8 395.9h0M567.2 391.5h0M570.5 386.5h0M570.6 386.3h0M570.7 386.1h0M573.9 381.2h0M574.1 380.8h0M574.3 380.5h0M577.2 375.5h0M577.5 374.9h0M577.9 374.3h0M580.6 369.3h0M581 368.4h0M581.4 367.6h0M583.9 362.4h0M584.5 361.3h0M585 360h0M587.3 354.8h0M587.9 353.4h0M588.6 352h0M590.6 348.1h0M591.4 346.4h0M592.2 344.3h0M594 338.9h0M594.8 336.4h0M595.7 333.8h0M597.3 327.8h0M598.3 321.7h0M599.3 314.8h0M600.7 306.1h0M601.8 299.4h0M602.9 292.5h0M604.1 285.4h0M605.2 278.7h0M606.4 271.8h0M607.4 265.5h0M608.7 255.6h0M610 247.4h0M610.8 243.8h0M612.1 238.4h0M613.6 234.9h0M614.1 233.7h0M615.6 231.6h0M617.1 232h0M617.5 232.6h0M619 236.9h0M620.7 244.9h0M620.8 245.5h0M622.5 254.3h0M624.2 268.9h0M624.3 269.9h0M626 283.2h0M627.5 295.1h0M627.9 296.7h0M629.4 304.1h0M630.9 311.5h0M631.4 314.1h0M632.9 320.9h0M634.2 327h0M635 330.2h0M636.3 335.5h0M637.6 341.1h0M638.6 345.2h0M639.8 349.5h0M640.9 353.1h0M642.1 356.7h0M643.2 359.9h0M644.3 362.7h0M645.7 366.4h0M646.7 369h0M647.7 371.1h0M649.3 374.7h0M650.2 376.5h0M651 378h0M652.8 381.1h0M653.6 382.2h0M654.4 383.3h0M656.4 385.8h0M657.1 386.5h0M657.7 387.1h0M660 389.1h0M660.5 389.5h0M661.1 389.9h0M663.6 392.1h0M664 392.5h0M664.4 392.9h0M667.1 395.5h0M667.5 395.8h0M667.8 396.1h0M670.7 398.7h0M670.9 398.9h0M671.1 399.1h0M674.3 401.9h0M674.4 402h0M674.5 402.1h0M677.8 404.8h0M681.2 407.1h0M681.3 407.2h0M681.4 407.2h0M684.5 408.8h0M684.8 408.9h0M685 409h0M687.9 410.3h0M688.2 410.5h0M688.5 410.6h0M691.2 411.8h0M691.7 412h0M692.1 412.2h0M694.6 413.2h0M695.1 413.4h0M695.7 413.6h0M698 414.5h0M698.6 414.7h0M699.3 414.9h0M701.3 415.7h0M702 415.9h0M702.8 416.2h0M704.7 416.8h0M705.5 417h0M706.4 417.3h0M708 417.8h0M709 418h0M710 418.3h0M711.4 418.7h0M712.4 418.9h0M713.5 419.2h0M714.7 419.5h0M715.9 419.8h0M717.1 420.1h0M718.1 420.3h0M719.3 420.6h0M720.7 420.8h0M721.4 421h0M722.8 421.3h0M724.2 421.6h0M724.8 421.7h0M726.2 422h0M727.8 422.3h0M728.1 422.4h0M729.7 422.6h0M731.4 422.8h0M731.5 422.9h0M733.2 423h0M734.8 423.1h0M735 423.1h0M736.6 423.2h0M738.2 423.3h0M738.5 423.3h0M740.1 423.4h0M741.6 423.5h0M742.1 423.5h0M743.5 423.6h0M744.9 423.6h0M745.7 423.6h0M747 423.7h0M748.3 423.7h0M749.2 423.7h0M750.5 423.7h0M751.6 423.7h0M752.8 423.8h0M753.9 423.8h0M755 423.8h0M756.4 423.8h0M757.4 423.8h0M758.3 423.8h0M759.9 423.9h0M760.8 423.9h0M761.7 423.9h0M763.5 423.9h0M764.3 423.9h0M765 423.9h0M767.1 423.9h0M767.8 423.9h0M768.4 423.9h0M770.7 423.9h0M771.2 423.9h0M771.7 423.9h0M774.2 423.9h0M774.7 423.9h0M775.1 423.9h0M777.8 423.9h0M778.1 423.9h0M778.4 423.9h0M781.4 423.8h0M781.6 423.8h0M781.8 423.8h0M784.9 423.8h0M785 423.8h0M785.1 423.8h0" fill="none" stroke="#009e73" stroke-width="1" stroke-linecap="round"/>
<path d="M124.5 427l-4.7 7.5h9.3zM131.4 426.9l-4.7 7.5h9.3zM131.7 426.9l-4.7 7.5h9.3zM132 426.9l-4.7 7.5h9.3zM132.4 426.9l-4.7 7.5h9.3zM132.8 426.9l-4.7 7.5h9.3zM138.3 426.8l-4.7 7.5h9.3zM138.9 426.8l-4.7 7.5h9.3zM139.6 426.7l-4.7 7.5h9.3zM140.3 426.7l-4.7 7.5h9.3zM141.1 426.7l-4.7 7.5h9.3zM145.2 426.6l-4.7 7.5h9.3zM146.2 426.5l-4.7 7.5h9.3zM147.1 426.5l-4.7 7.5h9.3zM148.2 426.4l-4.7 7.5h9.3zM149.4 426.4l-4.7 7.5h9.3zM152.2 426.2l-4.7 7.5h9.3zM153.4 426.1l-4.7 7.5h9.3zM154.7 426.1l-4.7 7.5h9.3zM156.1 426l-4.7 7.5h9.3zM157.7 425.9l-4.7 7.5h9.3zM159.1 425.8l-4.7 7.5h9.3zM160.6 425.7l-4.7 7.5h9.3zM162.2 425.5l-4.7 7.5h9.3zM164 425.4l-4.7 7.5h9.3zM166 425.2l-4.7 7.5h9.3zM167.8 425.1l-4.7 7.5h9.3zM169.8 424.9l-4.7 7.5h9.3zM171.9 424.7l-4.7 7.5h9.3zM172.9 424.6l-4.7 7.5h9.3zM174.3 424.5l-4.7 7.5h9.3zM175 424.4l-4.7 7.5h9.3zM177.3 424.2l-4.7 7.5h9.3zM179.8 423.9l-4.7 7.5h9.3zM182.2 423.7l-4.7 7.5h9.3zM182.6 423.6l-4.7 7.5h9.3zM184.9 423.4l-4.7 7.5h9.3zM186.8 423.2l-4.7 7.5h9.3zM187.7 423.1l-4.7 7.5h9.3zM189.5 422.9l-4.7 7.5h9.3zM190.9 422.7l-4.7 7.5h9.3zM192.4 422.5l-4.7 7.5h9.3zM193.7 422.4l-4.7 7.5h9.3zM195.6 422.1l-4.7 7.5h9.3zM196.7 422l-4.7 7.5h9.3zM199.2 421.6l-4.7 7.5h9.3zM200 421.5l-4.7 7.5h9.3zM200.6 421.4l-4.7 7.5h9.3zM203.5 420.9l-4.7 7.5h9.3zM203.9 420.8l-4.7 7.5h9.3zM207.5 420.2l-4.7 7.5h9.3zM211.1 419.6l-4.7 7.5h9.3zM211.5 419.6l-4.7 7.5h9.3zM214.4 419.2l-4.7 7.5h9.3zM215 419.1l-4.7 7.5h9.3zM215.8 419l-4.7 7.5h9.3zM218.3 418.6l-4.7 7.5h9.3zM219.4 418.5l-4.7 7.5h9.3zM221.3 418.1l-4.7 7.5h9.3zM222.6 417.7l-4.7 7.5h9.3zM224.1 417.2l-4.7 7.5h9.3zM225.5 416.7l-4.7 7.5h9.3zM227.3 416l-4.7 7.5h9.3zM228.2 415.7l-4.7 7.5h9.3zM230.1 414.9l-4.7 7.5h9.3zM232.4 414l-4.7 7.5h9.3zM232.8 413.8l-4.7 7.5h9.3zM235.2 412.7l-4.7 7.5h9.3zM237.7 411.5l-4.7 7.5h9.3zM240 410.3l-4.7 7.5h9.3zM240.7 410l-4.7 7.5h9.3zM242.1 409.2l-4.7 7.5h9.3zM243.1 408.7l-4.7 7.5h9.3zM245.2 407.4l-4.7 7.5h9.3zM247.2 406.1l-4.7 7.5h9.3zM249 405.1l-4.7 7.5h9.3zM251 404l-4.7 7.5h9.3zM252.8 403.2l-4.7 7.5h9.3zM254.4 402.4l-4.7 7.5h9.3zM255.9 401.6l-4.7 7.5h9.3zM257.3 400.9l-4.7 7.5h9.3zM258.9 400.1l-4.7 7.5h9.3zM260.3 399.4l-4.7 7.5h9.3zM261.6 398.6l-4.7 7.5h9.3zM262.8 397.8l-4.7 7.5h9.3zM265.6 395.7l-4.7 7.5h9.3zM266.8 394.7l-4.7 7.5h9.3zM267.9 393.7l-4.7 7.5h9.3zM268.8 392.8l-4.7 7.5h9.3zM269.8 392l-4.7 7.5h9.3zM273.9 388.7l-4.7 7.5h9.3zM274.7 388.1l-4.7 7.5h9.3zM275.4 387.5l-4.7 7.5h9.3zM276.1 386.9l-4.7 7.5h9.3zM276.7 386.3l-4.7 7.5h9.3zM282.2 375.9l-4.7 7.5h9.3zM282.6 374.9l-4.7 7.5h9.3zM283 374.1l-4.7 7.5h9.3zM283.3 373.3l-4.7 7.5h9.3zM283.6 372.7l-4.7 7.5h9.3zM290.5 357.3l-4.7 7.5h9.3zM297.4 333.6l-4.7 7.5h9.3zM297.7 332.3l-4.7 7.5h9.3zM298 330.8l-4.7 7.5h9.3zM298.4 329l-4.7 7.5h9.3zM298.8 326.9l-4.7 7.5h9.3zM304.3 294.3l-4.7 7.5h9.3zM304.9 291.1l-4.7 7.5h9.3zM305.6 287.4l-4.7 7.5h9.3zM306.3 283.1l-4.7 7.5h9.3zM307.1 277.8l-4.7 7.5h9.3zM311.2 242.8l-4.7 7.5h9.3zM312.2 234.7l-4.7 7.5h9.3zM313.1 225.4l-4.7 7.5h9.3zM314.2 217.7l-4.7 7.5h9.3zM315.4 211.8l-4.7 7.5h9.3zM318.2 205l-4.7 7.5h9.3zM319.4 208.7l-4.7 7.5h9.3zM320.7 214.5l-4.7 7.5h9.3zM322.1 225.9l-4.7 7.5h9.3zM323.7 238.4l-4.7 7.5h9.3zM325.1 250.7l-4.7 7.5h9.3zM326.6 263.8l-4.7 7.5h9.3zM328.2 275.8l-4.7 7.5h9.3zM330 290l-4.7 7.5h9.3zM332 301.7l-4.7 7.5h9.3zM333.8 313.3l-4.7 7.5h9.3zM335.8 322.4l-4.7 7.5h9.3zM337.9 330.3l-4.7 7.5h9.3zM338.9 333.5l-4.7 7.5h9.3zM340.3 338.1l-4.7 7.5h9.3zM341 341.1l-4.7 7.5h9.3zM343.3 351.5l-4.7 7.5h9.3zM345.8 359.3l-4.7 7.5h9.3zM348.2 365.8l-4.7 7.5h9.3zM348.6 366.6l-4.7 7.5h9.3zM350.9 370.6l-4.7 7.5h9.3zM352.8 373.7l-4.7 7.5h9.3zM353.7 375.4l-4.7 7.5h9.3zM355.5 378.4l-4.7 7.5h9.3zM356.9 380.7l-4.7 7.5h9.3zM358.4 383l-4.7 7.5h9.3zM359.7 384.8l-4.7 7.5h9.3zM361.6 387.4l-4.7 7.5h9.3zM362.7 388.5l-4.7 7.5h9.3zM365.2 390.8l-4.7 7.5h9.3zM366 391.4l-4.7 7.5h9.3zM366.6 392l-4.7 7.5h9.3zM369.5 394.7l-4.7 7.5h9.3zM369.9 395l-4.7 7.5h9.3zM373.5 398.3l-4.7 7.5h9.3zM377.1 401.1l-4.7 7.5h9.3zM377.5 401.4l-4.7 7.5h9.3zM380.4 403.4l-4.7 7.5h9.3zM381 403.9l-4.7 7.5h9.3zM381.8 404.3l-4.7 7.5h9.3zM384.3 405.8l-4.7 7.5h9.3zM385.4 406.4l-4.7 7.5h9.3zM387.3 407.5l-4.7 7.5h9.3zM388.6 408.2l-4.7 7.5h9.3zM390.1 409l-4.7 7.5h9.3zM391.5 409.7l-4.7 7.5h9.3zM393.3 410.5l-4.7 7.5h9.3zM394.2 411l-4.7 7.5h9.3zM396.1 411.7l-4.7 7.5h9.3zM398.4 412.5l-4.7 7.5h9.3zM398.8 412.6l-4.7 7.5h9.3zM401.2 413.3l-4.7 7.5h9.3zM403.7 414.1l-4.7 7.5h9.3zM406 414.6l-4.7 7.5h9.3zM406.7 414.8l-4.7 7.5h9.3zM408.1 415.1l-4.7 7.5h9.3zM409.1 415.3l-4.7 7.5h9.3zM411.2 415.7l-4.7 7.5h9.3zM413.2 416l-4.7 7.5h9.3zM415 416.2l-4.7 7.5h9.3zM417 416.5l-4.7 7.5h9.3zM418.8 416.7l-4.7 7.5h9.3zM420.4 416.9l-4.7 7.5h9.3zM421.9 417l-4.7 7.5h9.3zM423.3 417.1l-4.7 7.5h9.3zM424.9 417.2l-4.7 7.5h9.3zM426.3 417.3l-4.7 7.5h9.3zM427.6 417.4l-4.7 7.5h9.3zM428.8 417.4l-4.7 7.5h9.3zM431.6 417.5l-4.7 7.5h9.3zM432.8 417.5l-4.7 7.5h9.3zM433.9 417.6l-4.7 7.5h9.3zM434.8 417.6l-4.7 7.5h9.3zM435.8 417.6l-4.7 7.5h9.3zM439.9 417.7l-4.7 7.5h9.3zM440.7 417.7l-4.7 7.5h9.3zM441.4 417.7l-4.7 7.5h9.3zM442.1 417.7l-4.7 7.5h9.3zM442.7 417.7l-4.7 7.5h9.3zM448.2 417.8l-4.7 7.5h9.3zM448.6 417.8l-4.7 7.5h9.3zM449 417.8l-4.7 7.5h9.3zM449.3 417.8l-4.7 7.5h9.3zM449.6 417.8l-4.7 7.5h9.3zM456.5 417.8l-4.7 7.5h9.3zM463.4 417.8l-4.7 7.5h9.3zM463.7 417.8l-4.7 7.5h9.3zM464 417.8l-4.7 7.5h9.3zM464.4 417.8l-4.7 7.5h9.3zM464.8 417.8l-4.7 7.5h9.3zM470.3 417.7l-4.7 7.5h9.3zM470.9 417.7l-4.7 7.5h9.3zM471.6 417.7l-4.7 7.5h9.3zM472.3 417.7l-4.7 7.5h9.3zM473.1 417.7l-4.7 7.5h9.3zM477.2 417.6l-4.7 7.5h9.3zM478.2 417.6l-4.7 7.5h9.3zM479.1 417.6l-4.7 7.5h9.3zM480.2 417.5l-4.7 7.5h9.3zM481.4 417.5l-4.7 7.5h9.3zM484.2 417.4l-4.7 7.5h9.3zM485.4 417.4l-4.7 7.5h9.3zM486.7 417.3l-4.7 7.5h9.3zM488.1 417.2l-4.7 7.5h9.3zM489.7 417.1l-4.7 7.5h9.3zM491.1 417l-4.7 7.5h9.3zM492.6 416.9l-4.7 7.5h9.3zM494.2 416.7l-4.7 7.5h9.3zM496 416.5l-4.7 7.5h9.3zM498 416.2l-4.7 7.5h9.3zM499.8 416l-4.7 7.5h9.3zM501.8 415.7l-4.7 7.5h9.3zM503.9 415.3l-4.7 7.5h9.3zM504.9 415.1l-4.7 7.5h9.3zM506.3 414.8l-4.7 7.5h9.3zM507 414.6l-4.7 7.5h9.3zM509.3 414.1l-4.7 7.5h9.3zM511.8 413.3l-4.7 7.5h9.3zM514.2 412.6l-4.7 7.5h9.3zM514.6 412.5l-4.7 7.5h9.3zM516.9 411.7l-4.7 7.5h9.3zM518.8 411l-4.7 7.5h9.3zM519.7 410.5l-4.7 7.5h9.3zM521.5 409.7l-4.7 7.5h9.3zM522.9 409l-4.7 7.5h9.3zM524.4 408.2l-4.7 7.5h9.3zM525.7 407.5l-4.7 7.5h9.3zM527.6 406.4l-4.7 7.5h9.3zM528.7 405.8l-4.7 7.5h9.3zM531.2 404.3l-4.7 7.5h9.3zM532 403.9l-4.7 7.5h9.3zM532.6 403.4l-4.7 7.5h9.3zM535.5 401.4l-4.7 7.5h9.3zM535.9 401.1l-4.7 7.5h9.3zM539.5 398.3l-4.7 7.5h9.3zM543.1 395l-4.7 7.5h9.3zM543.5 394.7l-4.7 7.5h9.3zM546.4 392l-4.7 7.5h9.3zM547 391.4l-4.7 7.5h9.3zM547.8 390.8l-4.7 7.5h9.3zM550.3 388.5l-4.7 7.5h9.3zM551.4 387.4l-4.7 7.5h9.3zM553.3 384.8l-4.7 7.5h9.3zM554.6 383l-4.7 7.5h9.3zM556.1 380.7l-4.7 7.5h9.3zM557.5 378.4l-4.7 7.5h9.3zM559.3 375.4l-4.7 7.5h9.3zM560.2 373.7l-4.7 7.5h9.3zM562.1 370.6l-4.7 7.5h9.3zM564.4 366.6l-4.7 7.5h9.3zM564.8 365.8l-4.7 7.5h9.3zM567.2 359.3l-4.7 7.5h9.3zM569.7 351.5l-4.7 7.5h9.3zM572 341.1l-4.7 7.5h9.3zM572.7 338.1l-4.7 7.5h9.3zM574.1 333.5l-4.7 7.5h9.3zM575.1 330.3l-4.7 7.5h9.3zM577.2 322.4l-4.7 7.5h9.3zM579.2 313.3l-4.7 7.5h9.3zM581 301.7l-4.7 7.5h9.3zM583 290l-4.7 7.5h9.3zM584.8 275.8l-4.7 7.5h9.3zM586.4 263.8l-4.7 7.5h9.3zM587.9 250.7l-4.7 7.5h9.3zM589.3 238.4l-4.7 7.5h9.3zM590.9 225.9l-4.7 7.5h9.3zM592.3 214.5l-4.7 7.5h9.3zM593.6 208.7l-4.7 7.5h9.3zM594.8 205l-4.7 7.5h9.3zM597.6 211.8l-4.7 7.5h9.3zM598.8 217.7l-4.7 7.5h9.3zM599.9 225.4l-4.7 7.5h9.3zM600.8 234.7l-4.7 7.5h9.3zM601.8 242.8l-4.7 7.5h9.3zM605.9 277.8l-4.7 7.5h9.3zM606.7 283.1l-4.7 7.5h9.3zM607.4 287.4l-4.7 7.5h9.3zM608.1 291.1l-4.7 7.5h9.3zM608.7 294.3l-4.7 7.5h9.3zM614.2 326.9l-4.7 7.5h9.3zM614.6 329l-4.7 7.5h9.3zM615 330.8l-4.7 7.5h9.3zM615.3 332.3l-4.7 7.5h9.3zM615.6 333.6l-4.7 7.5h9.3zM622.5 357.3l-4.7 7.5h9.3zM629.4 372.7l-4.7 7.5h9.3zM629.7 373.3l-4.7 7.5h9.3zM630 374.1l-4.7 7.5h9.3zM630.4 374.9l-4.7 7.5h9.3zM630.8 375.9l-4.7 7.5h9.3zM636.3 386.3l-4.7 7.5h9.3zM636.9 386.9l-4.7 7.5h9.3zM637.6 387.5l-4.7 7.5h9.3zM638.3 388.1l-4.7 7.5h9.3zM639.1 388.7l-4.7 7.5h9.3zM643.2 392l-4.7 7.5h9.3zM644.2 392.8l-4.7 7.5h9.3zM645.1 393.7l-4.7 7.5h9.3zM646.2 394.7l-4.7 7.5h9.3zM647.4 395.7l-4.7 7.5h9.3zM650.2 397.8l-4.7 7.5h9.3zM651.4 398.6l-4.7 7.5h9.3zM652.7 399.4l-4.7 7.5h9.3zM654.1 400.1l-4.7 7.5h9.3zM655.7 400.9l-4.7 7.5h9.3zM657.1 401.6l-4.7 7.5h9.3zM658.6 402.4l-4.7 7.5h9.3zM660.2 403.2l-4.7 7.5h9.3zM662 404l-4.7 7.5h9.3zM664 405.1l-4.7 7.5h9.3zM665.8 406.1l-4.7 7.5h9.3zM667.8 407.4l-4.7 7.5h9.3zM669.9 408.7l-4.7 7.5h9.3zM670.9 409.2l-4.7 7.5h9.3zM672.3 410l-4.7 7.5h9.3zM673 410.3l-4.7 7.5h9.3zM675.3 411.5l-4.7 7.5h9.3zM677.8 412.7l-4.7 7.5h9.3zM680.2 413.8l-4.7 7.5h9.3zM680.6 414l-4.7 7.5h9.3zM682.9 414.9l-4.7 7.5h9.3zM684.8 415.7l-4.7 7.5h9.3zM685.7 416l-4.7 7.5h9.3zM687.5 416.7l-4.7 7.5h9.3zM688.9 417.2l-4.7 7.5h9.3zM690.4 417.7l-4.7 7.5h9.3zM691.7 418.1l-4.7 7.5h9.3zM693.6 418.5l-4.7 7.5h9.3zM694.7 418.6l-4.7 7.5h9.3zM697.2 419l-4.7 7.5h9.3zM698 419.1l-4.7 7.5h9.3zM698.6 419.2l-4.7 7.5h9.3zM701.5 419.6l-4.7 7.5h9.3zM701.9 419.6l-4.7 7.5h9.3zM705.5 420.2l-4.7 7.5h9.3zM709.1 420.8l-4.7 7.5h9.3zM709.5 420.9l-4.7 7.5h9.3zM712.4 421.4l-4.7 7.5h9.3zM713 421.5l-4.7 7.5h9.3zM713.8 421.6l-4.7 7.5h9.3zM716.3 422l-4.7 7.5h9.3zM717.4 422.1l-4.7 7.5h9.3zM719.3 422.4l-4.7 7.5h9.3zM720.6 422.5l-4.7 7.5h9.3zM722.1 422.7l-4.7 7.5h9.3zM723.5 422.9l-4.7 7.5h9.3zM725.3 423.1l-4.7 7.5h9.3zM726.2 423.2l-4.7 7.5h9.3zM728.1 423.4l-4.7 7.5h9.3zM730.4 423.6l-4.7 7.5h9.3zM730.8 423.7l-4.7 7.5h9.3zM733.2 423.9l-4.7 7.5h9.3zM735.7 424.2l-4.7 7.5h9.3zM738 424.4l-4.7 7.5h9.3zM738.7 424.5l-4.7 7.5h9.3zM740.1 424.6l-4.7 7.5h9.3zM741.1 424.7l-4.7 7.5h9.3zM743.2 424.9l-4.7 7.5h9.3zM745.2 425.1l-4.7 7.5h9.3zM747 425.2l-4.7 7.5h9.3zM749 425.4l-4.7 7.5h9.3zM750.8 425.5l-4.7 7.5h9.3zM752.4 425.7l-4.7 7.5h9.3zM753.9 425.8l-4.7 7.5h9.3zM755.3 425.9l-4.7 7.5h9.3zM756.9 426l-4.7 7.5h9.3zM758.3 426.1l-4.7 7.5h9.3zM759.6 426.1l-4.7 7.5h9.3zM760.8 426.2l-4.7 7.5h9.3zM763.6 426.4l-4.7 7.5h9.3zM764.8 426.4l-4.7 7.5h9.3zM765.9 426.5l-4.7 7.5h9.3zM766.8 426.5l-4.7 7.5h9.3zM767.8 426.6l-4.7 7.5h9.3zM771.9 426.7l-4.7 7.5h9.3zM772.7 426.7l-4.7 7.5h9.3zM773.4 426.7l-4.7 7.5h9.3zM774.1 426.8l-4.7 7.5h9.3zM774.7 426.8l-4.7 7.5h9.3zM780.2 426.9l-4.7 7.5h9.3zM780.6 426.9l-4.7 7.5h9.3zM781 426.9l-4.7 7.5h9.3zM781.3 426.9l-4.7 7.5h9.3zM781.6 426.9l-4.7 7.5h9.3z" fill="none" stroke="#0072b2" stroke-width="1.1" stroke-linejoin="miter"/>
<path d="M124.5 432.2h0M131.4 432.1h0M131.7 432.1h0M132 432.1h0M132.4 432.1h0M132.8 432.1h0M138.3 432h0M138.9 432h0M139.6 431.9h0M140.3 431.9h0M141.1 431.9h0M145.2 431.8h0M146.2 431.7h0M147.1 431.7h0M148.2 431.6h0M149.4 431.6h0M152.2 431.4h0M153.4 431.3h0M154.7 431.3h0M156.1 431.2h0M157.7 431.1h0M159.1 431h0M160.6 430.9h0M162.2 430.7h0M164 430.6h0M166 430.4h0M167.8 430.3h0M169.8 430.1h0M171.9 429.9h0M172.9 429.8h0M174.3 429.7h0M175 429.6h0M177.3 429.4h0M179.8 429.1h0M182.2 428.9h0M182.6 428.8h0M184.9 428.6h0M186.8 428.4h0M187.7 428.3h0M189.5 428.1h0M190.9 427.9h0M192.4 427.7h0M193.7 427.6h0M195.6 427.3h0M196.7 427.2h0M199.2 426.8h0M200 426.7h0M200.6 426.6h0M203.5 426.1h0M203.9 426h0M207.5 425.4h0M211.1 424.8h0M211.5 424.8h0M214.4 424.4h0M215 424.3h0M215.8 424.2h0M218.3 423.8h0M219.4 423.7h0M221.3 423.3h0M222.6 422.9h0M224.1 422.4h0M225.5 421.9h0M227.3 421.2h0M228.2 420.9h0M230.1 420.1h0M232.4 419.2h0M232.8 419h0M235.2 417.9h0M237.7 416.7h0M240 415.5h0M240.7 415.2h0M242.1 414.4h0M243.1 413.9h0M245.2 412.6h0M247.2 411.3h0M249 410.3h0M251 409.2h0M252.8 408.4h0M254.4 407.6h0M255.9 406.8h0M257.3 406.1h0M258.9 405.3h0M260.3 404.6h0M261.6 403.8h0M262.8 403h0M265.6 400.9h0M266.8 399.9h0M267.9 398.9h0M268.8 398h0M269.8 397.2h0M273.9 393.9h0M274.7 393.3h0M275.4 392.7h0M276.1 392.1h0M276.7 391.5h0M282.2 381.1h0M282.6 380.1h0M283 379.3h0M283.3 378.5h0M283.6 377.9h0M290.5 362.5h0M297.4 338.8h0M297.7 337.5h0M298 336h0M298.4 334.2h0M298.8 332.1h0M304.3 299.5h0M304.9 296.3h0M305.6 292.6h0M306.3 288.3h0M307.1 283h0M311.2 248h0M312.2 239.9h0M313.1 230.6h0M314.2 222.9h0M315.4 217h0M318.2 210.2h0M319.4 213.9h0M320.7 219.7h0M322.1 231.1h0M323.7 243.6h0M325.1 255.9h0M326.6 269h0M328.2 281h0M330 295.2h0M332 306.9h0M333.8 318.5h0M335.8 327.6h0M337.9 335.5h0M338.9 338.7h0M340.3 343.3h0M341 346.3h0M343.3 356.7h0M345.8 364.5h0M348.2 371h0M348.6 371.8h0M350.9 375.8h0M352.8 378.9h0M353.7 380.6h0M355.5 383.6h0M356.9 385.9h0M358.4 388.2h0M359.7 390h0M361.6 392.6h0M362.7 393.7h0M365.2 396h0M366 396.6h0M366.6 397.2h0M369.5 399.9h0M369.9 400.2h0M373.5 403.5h0M377.1 406.3h0M377.5 406.6h0M380.4 408.6h0M381 409.1h0M381.8 409.5h0M384.3 411h0M385.4 411.6h0M387.3 412.7h0M388.6 413.4h0M390.1 414.2h0M391.5 414.9h0M393.3 415.7h0M394.2 416.2h0M396.1 416.9h0M398.4 417.7h0M398.8 417.8h0M401.2 418.5h0M403.7 419.3h0M406 419.8h0M406.7 420h0M408.1 420.3h0M409.1 420.5h0M411.2 420.9h0M413.2 421.2h0M415 421.4h0M417 421.7h0M418.8 421.9h0M420.4 422.1h0M421.9 422.2h0M423.3 422.3h0M424.9 422.4h0M426.3 422.5h0M427.6 422.6h0M428.8 422.6h0M431.6 422.7h0M432.8 422.7h0M433.9 422.8h0M434.8 422.8h0M435.8 422.8h0M439.9 422.9h0M440.7 422.9h0M441.4 422.9h0M442.1 422.9h0M442.7 422.9h0M448.2 423h0M448.6 423h0M449 423h0M449.3 423h0M449.6 423h0M456.5 423h0M463.4 423h0M463.7 423h0M464 423h0M464.4 423h0M464.8 423h0M470.3 422.9h0M470.9 422.9h0M471.6 422.9h0M472.3 422.9h0M473.1 422.9h0M477.2 422.8h0M478.2 422.8h0M479.1 422.8h0M480.2 422.7h0M481.4 422.7h0M484.2 422.6h0M485.4 422.6h0M486.7 422.5h0M488.1 422.4h0M489.7 422.3h0M491.1 422.2h0M492.6 422.1h0M494.2 421.9h0M496 421.7h0M498 421.4h0M499.8 421.2h0M501.8 420.9h0M503.9 420.5h0M504.9 420.3h0M506.3 420h0M507 419.8h0M509.3 419.3h0M511.8 418.5h0M514.2 417.8h0M514.6 417.7h0M516.9 416.9h0M518.8 416.2h0M519.7 415.7h0M521.5 414.9h0M522.9 414.2h0M524.4 413.4h0M525.7 412.7h0M527.6 411.6h0M528.7 411h0M531.2 409.5h0M532 409.1h0M532.6 408.6h0M535.5 406.6h0M535.9 406.3h0M539.5 403.5h0M543.1 400.2h0M543.5 399.9h0M546.4 397.2h0M547 396.6h0M547.8 396h0M550.3 393.7h0M551.4 392.6h0M553.3 390h0M554.6 388.2h0M556.1 385.9h0M557.5 383.6h0M559.3 380.6h0M560.2 378.9h0M562.1 375.8h0M564.4 371.8h0M564.8 371h0M567.2 364.5h0M569.7 356.7h0M572 346.3h0M572.7 343.3h0M574.1 338.7h0M575.1 335.5h0M577.2 327.6h0M579.2 318.5h0M581 306.9h0M583 295.2h0M584.8 281h0M586.4 269h0M587.9 255.9h0M589.3 243.6h0M590.9 231.1h0M592.3 219.7h0M593.6 213.9h0M594.8 210.2h0M597.6 217h0M598.8 222.9h0M599.9 230.6h0M600.8 239.9h0M601.8 248h0M605.9 283h0M606.7 288.3h0M607.4 292.6h0M608.1 296.3h0M608.7 299.5h0M614.2 332.1h0M614.6 334.2h0M615 336h0M615.3 337.5h0M615.6 338.8h0M622.5 362.5h0M629.4 377.9h0M629.7 378.5h0M630 379.3h0M630.4 380.1h0M630.8 381.1h0M636.3 391.5h0M636.9 392.1h0M637.6 392.7h0M638.3 393.3h0M639.1 393.9h0M643.2 397.2h0M644.2 398h0M645.1 398.9h0M646.2 399.9h0M647.4 400.9h0M650.2 403h0M651.4 403.8h0M652.7 404.6h0M654.1 405.3h0M655.7 406.1h0M657.1 406.8h0M658.6 407.6h0M660.2 408.4h0M662 409.2h0M664 410.3h0M665.8 411.3h0M667.8 412.6h0M669.9 413.9h0M670.9 414.4h0M672.3 415.2h0M673 415.5h0M675.3 416.7h0M677.8 417.9h0M680.2 419h0M680.6 419.2h0M682.9 420.1h0M684.8 420.9h0M685.7 421.2h0M687.5 421.9h0M688.9 422.4h0M690.4 422.9h0M691.7 423.3h0M693.6 423.7h0M694.7 423.8h0M697.2 424.2h0M698 424.3h0M698.6 424.4h0M701.5 424.8h0M701.9 424.8h0M705.5 425.4h0M709.1 426h0M709.5 426.1h0M712.4 426.6h0M713 426.7h0M713.8 426.8h0M716.3 427.2h0M717.4 427.3h0M719.3 427.6h0M720.6 427.7h0M722.1 427.9h0M723.5 428.1h0M725.3 428.3h0M726.2 428.4h0M728.1 428.6h0M730.4 428.8h0M730.8 428.9h0M733.2 429.1h0M735.7 429.4h0M738 429.6h0M738.7 429.7h0M740.1 429.8h0M741.1 429.9h0M743.2 430.1h0M745.2 430.3h0M747 430.4h0M749 430.6h0M750.8 430.7h0M752.4 430.9h0M753.9 431h0M755.3 431.1h0M756.9 431.2h0M758.3 431.3h0M759.6 431.3h0M760.8 431.4h0M763.6 431.6h0M764.8 431.6h0M765.9 431.7h0M766.8 431.7h0M767.8 431.8h0M771.9 431.9h0M772.7 431.9h0M773.4 431.9h0M774.1 432h0M774.7 432h0M780.2 432.1h0M780.6 432.1h0M781 432.1h0M781.3 432.1h0M781.6 432.1h0" fill="none" stroke="#0072b2" stroke-width="1" stroke-linecap="round"/>
<path d="M124.5 443.8l-4.7 -7.5h9.3zM127.7 443.8l-4.7 -7.5h9.3zM127.8 443.8l-4.7 -7.5h9.3zM127.9 443.8l-4.7 -7.5h9.3zM128 443.8l-4.7 -7.5h9.3zM130.9 443.7l-4.7 -7.5h9.3zM131 443.7l-4.7 -7.5h9.3zM131.1 443.7l-4.7 -7.5h9.3zM131.3 443.7l-4.7 -7.5h9.3zM131.4 443.7l-4.7 -7.5h9.3zM134.1 443.7l-4.7 -7.5h9.3zM134.3 443.7l-4.7 -7.5h9.3zM134.5 443.7l-4.7 -7.5h9.3zM134.7 443.7l-4.7 -7.5h9.3zM134.9 443.7l-4.7 -7.5h9.3zM137.3 443.6l-4.7 -7.5h9.3zM137.5 443.6l-4.7 -7.5h9.3zM137.8 443.6l-4.7 -7.5h9.3zM138.1 443.6l-4.7 -7.5h9.3zM138.3 443.6l-4.7 -7.5h9.3zM140.5 443.6l-4.7 -7.5h9.3zM140.8 443.6l-4.7 -7.5h9.3zM141.1 443.6l-4.7 -7.5h9.3zM141.4 443.6l-4.7 -7.5h9.3zM141.8 443.5l-4.7 -7.5h9.3zM143.7 443.5l-4.7 -7.5h9.3zM144 443.5l-4.7 -7.5h9.3zM144.4 443.5l-4.7 -7.5h9.3zM144.8 443.5l-4.7 -7.5h9.3zM145.2 443.5l-4.7 -7.5h9.3zM146.8 443.4l-4.7 -7.5h9.3zM147.3 443.4l-4.7 -7.5h9.3zM147.7 443.4l-4.7 -7.5h9.3zM148.2 443.4l-4.7 -7.5h9.3zM148.7 443.4l-4.7 -7.5h9.3zM150 443.4l-4.7 -7.5h9.3zM150.5 443.4l-4.7 -7.5h9.3zM151.1 443.4l-4.7 -7.5h9.3zM151.6 443.3l-4.7 -7.5h9.3zM152.2 443.3l-4.7 -7.5h9.3zM153.2 443.3l-4.7 -7.5h9.3zM153.8 443.3l-4.7 -7.5h9.3zM154.4 443.3l-4.7 -7.5h9.3zM155 443.3l-4.7 -7.5h9.3zM155.6 443.2l-4.7 -7.5h9.3zM156.4 443.2l-4.7 -7.5h9.3zM157 443.2l-4.7 -7.5h9.3zM157.7 443.2l-4.7 -7.5h9.3zM158.4 443.2l-4.7 -7.5h9.3zM159.1 443.2l-4.7 -7.5h9.3zM159.6 443.1l-4.7 -7.5h9.3zM160.3 443.1l-4.7 -7.5h9.3zM161 443.1l-4.7 -7.5h9.3zM161.8 443.1l-4.7 -7.5h9.3zM162.5 443.1l-4.7 -7.5h9.3zM162.8 443l-4.7 -7.5h9.3zM163.6 443l-4.7 -7.5h9.3zM164.3 443l-4.7 -7.5h9.3zM165.2 443l-4.7 -7.5h9.3zM166 442.9l-4.7 -7.5h9.3zM166.8 442.9l-4.7 -7.5h9.3zM167.7 442.8l-4.7 -7.5h9.3zM168.5 442.8l-4.7 -7.5h9.3zM169.2 442.8l-4.7 -7.5h9.3zM169.5 442.7l-4.7 -7.5h9.3zM170.1 442.7l-4.7 -7.5h9.3zM171 442.7l-4.7 -7.5h9.3zM171.9 442.6l-4.7 -7.5h9.3zM172.4 442.6l-4.7 -7.5h9.3zM172.9 442.5l-4.7 -7.5h9.3zM173.3 442.5l-4.7 -7.5h9.3zM174.3 442.4l-4.7 -7.5h9.3zM175.3 442.4l-4.7 -7.5h9.3zM175.6 442.4l-4.7 -7.5h9.3zM176.4 442.3l-4.7 -7.5h9.3zM176.6 442.3l-4.7 -7.5h9.3zM177.6 442.2l-4.7 -7.5h9.3zM178.7 442.1l-4.7 -7.5h9.3zM178.8 442.1l-4.7 -7.5h9.3zM179.8 442l-4.7 -7.5h9.3zM180.9 441.9l-4.7 -7.5h9.3zM182 441.9l-4.7 -7.5h9.3zM182.1 441.9l-4.7 -7.5h9.3zM183.1 441.8l-4.7 -7.5h9.3zM183.3 441.8l-4.7 -7.5h9.3zM184.3 441.7l-4.7 -7.5h9.3zM185.2 441.6l-4.7 -7.5h9.3zM185.5 441.6l-4.7 -7.5h9.3zM186.3 441.5l-4.7 -7.5h9.3zM186.8 441.4l-4.7 -7.5h9.3zM187.6 441.4l-4.7 -7.5h9.3zM188.3 441.3l-4.7 -7.5h9.3zM188.9 441.2l-4.7 -7.5h9.3zM189.6 441.1l-4.7 -7.5h9.3zM190.2 441.1l-4.7 -7.5h9.3zM190.9 441l-4.7 -7.5h9.3zM191.5 440.9l-4.7 -7.5h9.3zM192.3 440.8l-4.7 -7.5h9.3zM192.9 440.8l-4.7 -7.5h9.3zM193.7 440.7l-4.7 -7.5h9.3zM194.2 440.6l-4.7 -7.5h9.3zM194.7 440.5l-4.7 -7.5h9.3zM195.6 440.4l-4.7 -7.5h9.3zM196.1 440.4l-4.7 -7.5h9.3zM197.1 440.2l-4.7 -7.5h9.3zM197.5 440.2l-4.7 -7.5h9.3zM197.9 440.1l-4.7 -7.5h9.3zM199 440l-4.7 -7.5h9.3zM199.4 439.9l-4.7 -7.5h9.3zM200.6 439.7l-4.7 -7.5h9.3zM200.9 439.7l-4.7 -7.5h9.3zM201.1 439.6l-4.7 -7.5h9.3zM202.4 439.4l-4.7 -7.5h9.3zM202.6 439.4l-4.7 -7.5h9.3zM204 439.1l-4.7 -7.5h9.3zM204.2 439.1l-4.7 -7.5h9.3zM204.3 439.1l-4.7 -7.5h9.3zM205.8 438.8l-4.7 -7.5h9.3zM205.9 438.8l-4.7 -7.5h9.3zM207.5 438.4l-4.7 -7.5h9.3zM209.1 438l-4.7 -7.5h9.3zM209.2 438l-4.7 -7.5h9.3zM210.7 437.7l-4.7 -7.5h9.3zM210.8 437.7l-4.7 -7.5h9.3zM211 437.6l-4.7 -7.5h9.3zM212.4 437.3l-4.7 -7.5h9.3zM212.6 437.3l-4.7 -7.5h9.3zM213.9 437l-4.7 -7.5h9.3zM214.1 437l-4.7 -7.5h9.3zM214.4 436.9l-4.7 -7.5h9.3zM215.6 436.7l-4.7 -7.5h9.3zM216 436.6l-4.7 -7.5h9.3zM217.1 436.4l-4.7 -7.5h9.3zM217.5 436.4l-4.7 -7.5h9.3zM217.9 436.3l-4.7 -7.5h9.3zM218.9 436.1l-4.7 -7.5h9.3zM219.4 436l-4.7 -7.5h9.3zM220.3 435.9l-4.7 -7.5h9.3zM220.8 435.8l-4.7 -7.5h9.3zM221.3 435.7l-4.7 -7.5h9.3zM222.1 435.5l-4.7 -7.5h9.3zM222.7 435.4l-4.7 -7.5h9.3zM223.5 435.3l-4.7 -7.5h9.3zM224.1 435.2l-4.7 -7.5h9.3zM224.8 435l-4.7 -7.5h9.3zM225.4 434.9l-4.7 -7.5h9.3zM226.1 434.8l-4.7 -7.5h9.3zM226.7 434.7l-4.7 -7.5h9.3zM227.4 434.5l-4.7 -7.5h9.3zM228.2 434.3l-4.7 -7.5h9.3zM228.7 434.2l-4.7 -7.5h9.3zM229.5 434.1l-4.7 -7.5h9.3zM229.8 434l-4.7 -7.5h9.3zM230.7 433.8l-4.7 -7.5h9.3zM231.7 433.6l-4.7 -7.5h9.3zM231.9 433.5l-4.7 -7.5h9.3zM232.9 433.3l-4.7 -7.5h9.3zM233 433.3l-4.7 -7.5h9.3zM234.1 433l-4.7 -7.5h9.3zM235.2 432.7l-4.7 -7.5h9.3zM236.2 432.5l-4.7 -7.5h9.3zM236.3 432.5l-4.7 -7.5h9.3zM237.4 432.2l-4.7 -7.5h9.3zM238.4 431.9l-4.7 -7.5h9.3zM238.6 431.9l-4.7 -7.5h9.3zM239.4 431.7l-4.7 -7.5h9.3zM239.7 431.6l-4.7 -7.5h9.3zM240.7 431.3l-4.7 -7.5h9.3zM241.7 431l-4.7 -7.5h9.3zM242.1 430.9l-4.7 -7.5h9.3zM242.6 430.8l-4.7 -7.5h9.3zM243.1 430.7l-4.7 -7.5h9.3zM244 430.4l-4.7 -7.5h9.3zM244.9 430.1l-4.7 -7.5h9.3zM245.5 430l-4.7 -7.5h9.3zM245.8 429.9l-4.7 -7.5h9.3zM246.5 429.7l-4.7 -7.5h9.3zM247.3 429.4l-4.7 -7.5h9.3zM248.2 429.1l-4.7 -7.5h9.3zM249 428.9l-4.7 -7.5h9.3zM249.8 428.6l-4.7 -7.5h9.3zM250.7 428.3l-4.7 -7.5h9.3zM251.4 428.1l-4.7 -7.5h9.3zM252.2 427.8l-4.7 -7.5h9.3zM252.5 427.7l-4.7 -7.5h9.3zM253.2 427.4l-4.7 -7.5h9.3zM254 427.1l-4.7 -7.5h9.3zM254.7 426.8l-4.7 -7.5h9.3zM255.4 426.5l-4.7 -7.5h9.3zM255.9 426.3l-4.7 -7.5h9.3zM256.6 425.9l-4.7 -7.5h9.3zM257.3 425.6l-4.7 -7.5h9.3zM258 425.3l-4.7 -7.5h9.3zM258.6 424.9l-4.7 -7.5h9.3zM259.4 424.5l-4.7 -7.5h9.3zM260 424.1l-4.7 -7.5h9.3zM260.6 423.8l-4.7 -7.5h9.3zM261.2 423.5l-4.7 -7.5h9.3zM261.8 423.1l-4.7 -7.5h9.3zM262.8 422.6l-4.7 -7.5h9.3zM263.4 422.3l-4.7 -7.5h9.3zM263.9 422l-4.7 -7.5h9.3zM264.5 421.7l-4.7 -7.5h9.3zM265 421.4l-4.7 -7.5h9.3zM266.3 420.8l-4.7 -7.5h9.3zM266.8 420.5l-4.7 -7.5h9.3zM267.3 420.3l-4.7 -7.5h9.3zM267.7 420l-4.7 -7.5h9.3zM268.2 419.8l-4.7 -7.5h9.3zM269.8 418.9l-4.7 -7.5h9.3zM270.2 418.7l-4.7 -7.5h9.3zM270.6 418.5l-4.7 -7.5h9.3zM271 418.2l-4.7 -7.5h9.3zM271.3 418l-4.7 -7.5h9.3zM273.2 416.8l-4.7 -7.5h9.3zM273.6 416.6l-4.7 -7.5h9.3zM273.9 416.3l-4.7 -7.5h9.3zM274.2 416.1l-4.7 -7.5h9.3zM274.5 415.9l-4.7 -7.5h9.3zM276.7 414.3l-4.7 -7.5h9.3zM276.9 414.1l-4.7 -7.5h9.3zM277.2 413.9l-4.7 -7.5h9.3zM277.5 413.7l-4.7 -7.5h9.3zM277.7 413.5l-4.7 -7.5h9.3zM280.1 411.4l-4.7 -7.5h9.3zM280.3 411.2l-4.7 -7.5h9.3zM280.5 411l-4.7 -7.5h9.3zM280.7 410.7l-4.7 -7.5h9.3zM280.9 410.5l-4.7 -7.5h9.3zM283.6 407.2l-4.7 -7.5h9.3zM283.7 407.1l-4.7 -7.5h9.3zM283.9 406.9l-4.7 -7.5h9.3zM284 406.7l-4.7 -7.5h9.3zM284.1 406.6l-4.7 -7.5h9.3zM287 403l-4.7 -7.5h9.3zM287.1 402.9l-4.7 -7.5h9.3zM287.2 402.8l-4.7 -7.5h9.3zM287.3 402.7l-4.7 -7.5h9.3zM290.5 398.5l-4.7 -7.5h9.3zM293.7 395l-4.7 -7.5h9.3zM293.8 394.8l-4.7 -7.5h9.3zM293.8 394.9l-4.7 -7.5h9.3zM293.9 394.8l-4.7 -7.5h9.3zM294 394.7l-4.7 -7.5h9.3zM296.9 389.7l-4.7 -7.5h9.3zM297 389.5l-4.7 -7.5h9.3zM297.1 389.2l-4.7 -7.5h9.3zM297.3 389l-4.7 -7.5h9.3zM297.4 388.7l-4.7 -7.5h9.3zM300.1 382.3l-4.7 -7.5h9.3zM300.3 381.8l-4.7 -7.5h9.3zM300.5 381.3l-4.7 -7.5h9.3zM300.7 380.7l-4.7 -7.5h9.3zM300.9 380.2l-4.7 -7.5h9.3zM303.3 373.7l-4.7 -7.5h9.3zM303.5 373l-4.7 -7.5h9.3zM303.8 372.2l-4.7 -7.5h9.3zM304.1 371.4l-4.7 -7.5h9.3zM304.3 370.5l-4.7 -7.5h9.3zM306.5 362.8l-4.7 -7.5h9.3zM306.8 361.5l-4.7 -7.5h9.3zM307.1 360.1l-4.7 -7.5h9.3zM307.4 358.7l-4.7 -7.5h9.3zM307.8 357.1l-4.7 -7.5h9.3zM309.7 348.6l-4.7 -7.5h9.3zM310 347l-4.7 -7.5h9.3zM310.4 345.4l-4.7 -7.5h9.3zM310.8 343.9l-4.7 -7.5h9.3zM311.2 342.3l-4.7 -7.5h9.3zM312.8 335.2l-4.7 -7.5h9.3zM313.3 332.7l-4.7 -7.5h9.3zM313.7 330.1l-4.7 -7.5h9.3zM314.2 327.3l-4.7 -7.5h9.3zM314.7 324.3l-4.7 -7.5h9.3zM316 315.6l-4.7 -7.5h9.3zM316.5 312.1l-4.7 -7.5h9.3zM317.1 308.2l-4.7 -7.5h9.3zM317.6 304l-4.7 -7.5h9.3zM318.2 299l-4.7 -7.5h9.3zM319.2 287.4l-4.7 -7.5h9.3zM319.8 280.3l-4.7 -7.5h9.3zM320.4 271.8l-4.7 -7.5h9.3zM321 262l-4.7 -7.5h9.3zM321.6 250.6l-4.7 -7.5h9.3zM322.4 236.5l-4.7 -7.5h9.3zM323 226.1l-4.7 -7.5h9.3zM323.7 214.9l-4.7 -7.5h9.3zM324.4 202.3l-4.7 -7.5h9.3zM325.1 188.2l-4.7 -7.5h9.3zM325.6 176.8l-4.7 -7.5h9.3zM326.3 162.8l-4.7 -7.5h9.3zM327 150.1l-4.7 -7.5h9.3zM327.8 138.2l-4.7 -7.5h9.3zM328.5 120.9l-4.7 -7.5h9.3zM328.8 112.5l-4.7 -7.5h9.3zM329.6 97.5l-4.7 -7.5h9.3zM330.3 91.1l-4.7 -7.5h9.3zM331.2 86.9l-4.7 -7.5h9.3zM332 88.2l-4.7 -7.5h9.3zM332.8 91.2l-4.7 -7.5h9.3zM333.7 98.4l-4.7 -7.5h9.3zM334.5 121.9l-4.7 -7.5h9.3zM335.2 132.6l-4.7 -7.5h9.3zM335.5 137.3l-4.7 -7.5h9.3zM336.1 152.5l-4.7 -7.5h9.3zM337 169.6l-4.7 -7.5h9.3zM337.9 190.8l-4.7 -7.5h9.3zM338.4 198.1l-4.7 -7.5h9.3zM338.9 207.2l-4.7 -7.5h9.3zM339.3 215.9l-4.7 -7.5h9.3zM340.3 234.3l-4.7 -7.5h9.3zM341.3 249.8l-4.7 -7.5h9.3zM341.6 253.4l-4.7 -7.5h9.3zM342.4 262.6l-4.7 -7.5h9.3zM342.6 264.6l-4.7 -7.5h9.3zM343.6 275.1l-4.7 -7.5h9.3zM344.7 289.7l-4.7 -7.5h9.3zM344.8 290.3l-4.7 -7.5h9.3zM345.8 298.9l-4.7 -7.5h9.3zM346.9 306.8l-4.7 -7.5h9.3zM348 313.5l-4.7 -7.5h9.3zM348.1 314.3l-4.7 -7.5h9.3zM349.1 320l-4.7 -7.5h9.3zM349.3 321.1l-4.7 -7.5h9.3zM350.3 326.3l-4.7 -7.5h9.3zM351.2 330.7l-4.7 -7.5h9.3zM351.5 332.3l-4.7 -7.5h9.3zM352.3 336.6l-4.7 -7.5h9.3zM352.8 338.7l-4.7 -7.5h9.3zM353.6 343.3l-4.7 -7.5h9.3zM354.3 347.3l-4.7 -7.5h9.3zM354.9 349.7l-4.7 -7.5h9.3zM355.6 352.8l-4.7 -7.5h9.3zM356.2 355.3l-4.7 -7.5h9.3zM356.9 357.9l-4.7 -7.5h9.3zM357.5 360.2l-4.7 -7.5h9.3zM358.3 362.6l-4.7 -7.5h9.3zM358.9 364.6l-4.7 -7.5h9.3zM359.7 367.1l-4.7 -7.5h9.3zM360.2 368.8l-4.7 -7.5h9.3zM360.7 370.3l-4.7 -7.5h9.3zM361.6 373l-4.7 -7.5h9.3zM362.1 374.3l-4.7 -7.5h9.3zM363.1 377.2l-4.7 -7.5h9.3zM363.5 378.3l-4.7 -7.5h9.3zM363.9 379.3l-4.7 -7.5h9.3zM365 382l-4.7 -7.5h9.3zM365.4 382.8l-4.7 -7.5h9.3zM366.6 385.5l-4.7 -7.5h9.3zM366.9 386.1l-4.7 -7.5h9.3zM367.1 386.6l-4.7 -7.5h9.3zM368.4 388.9l-4.7 -7.5h9.3zM368.6 389.2l-4.7 -7.5h9.3zM370 391.3l-4.7 -7.5h9.3zM370.2 391.5l-4.7 -7.5h9.3zM370.3 391.7l-4.7 -7.5h9.3zM371.8 393.6l-4.7 -7.5h9.3zM371.9 393.6l-4.7 -7.5h9.3zM373.5 395.6l-4.7 -7.5h9.3zM375.1 397.4l-4.7 -7.5h9.3zM375.2 397.5l-4.7 -7.5h9.3zM376.7 399.1l-4.7 -7.5h9.3zM376.8 399.2l-4.7 -7.5h9.3zM377 399.3l-4.7 -7.5h9.3zM378.4 400.8l-4.7 -7.5h9.3zM378.6 400.9l-4.7 -7.5h9.3zM379.9 402.2l-4.7 -7.5h9.3zM380.1 402.5l-4.7 -7.5h9.3zM380.4 402.7l-4.7 -7.5h9.3zM381.6 403.9l-4.7 -7.5h9.3zM382 404.3l-4.7 -7.5h9.3zM383.1 405.4l-4.7 -7.5h9.3zM383.5 405.8l-4.7 -7.5h9.3zM383.9 406.2l-4.7 -7.5h9.3zM384.9 407.2l-4.7 -7.5h9.3zM385.4 407.6l-4.7 -7.5h9.3zM386.3 408.5l-4.7 -7.5h9.3zM386.8 409l-4.7 -7.5h9.3zM387.3 409.6l-4.7 -7.5h9.3zM388.1 410.3l-4.7 -7.5h9.3zM388.7 410.9l-4.7 -7.5h9.3zM389.5 411.6l-4.7 -7.5h9.3zM390.1 412.1l-4.7 -7.5h9.3zM390.8 412.8l-4.7 -7.5h9.3zM391.4 413.3l-4.7 -7.5h9.3zM392.1 414l-4.7 -7.5h9.3zM392.7 414.4l-4.7 -7.5h9.3zM393.4 415.1l-4.7 -7.5h9.3zM394.2 415.8l-4.7 -7.5h9.3zM394.7 416.2l-4.7 -7.5h9.3zM395.5 416.9l-4.7 -7.5h9.3zM395.8 417.1l-4.7 -7.5h9.3zM396.7 417.8l-4.7 -7.5h9.3zM397.7 418.4l-4.7 -7.5h9.3zM397.9 418.6l-4.7 -7.5h9.3zM398.9 419.2l-4.7 -7.5h9.3zM399 419.2l-4.7 -7.5h9.3zM400.1 419.8l-4.7 -7.5h9.3zM401.2 420.4l-4.7 -7.5h9.3zM402.2 420.9l-4.7 -7.5h9.3zM402.3 421l-4.7 -7.5h9.3zM403.4 421.5l-4.7 -7.5h9.3zM404.4 421.9l-4.7 -7.5h9.3zM404.6 422l-4.7 -7.5h9.3zM405.4 422.4l-4.7 -7.5h9.3zM405.7 422.5l-4.7 -7.5h9.3zM406.7 423l-4.7 -7.5h9.3zM407.7 423.4l-4.7 -7.5h9.3zM408.1 423.6l-4.7 -7.5h9.3zM408.6 423.8l-4.7 -7.5h9.3zM409.1 424l-4.7 -7.5h9.3zM410 424.4l-4.7 -7.5h9.3zM410.9 424.7l-4.7 -7.5h9.3zM411.5 424.9l-4.7 -7.5h9.3zM411.8 425l-4.7 -7.5h9.3zM412.5 425.1l-4.7 -7.5h9.3zM413.3 425.4l-4.7 -7.5h9.3zM414.2 425.6l-4.7 -7.5h9.3zM415 425.7l-4.7 -7.5h9.3zM415.8 425.9l-4.7 -7.5h9.3zM416.7 426.1l-4.7 -7.5h9.3zM417.4 426.2l-4.7 -7.5h9.3zM418.2 426.3l-4.7 -7.5h9.3zM418.5 426.4l-4.7 -7.5h9.3zM419.2 426.5l-4.7 -7.5h9.3zM420 426.6l-4.7 -7.5h9.3zM420.7 426.7l-4.7 -7.5h9.3zM421.4 426.8l-4.7 -7.5h9.3zM421.9 426.8l-4.7 -7.5h9.3zM422.6 426.9l-4.7 -7.5h9.3zM423.3 427l-4.7 -7.5h9.3zM424 427l-4.7 -7.5h9.3zM424.6 427.1l-4.7 -7.5h9.3zM425.4 427.2l-4.7 -7.5h9.3zM426 427.2l-4.7 -7.5h9.3zM426.6 427.3l-4.7 -7.5h9.3zM427.2 427.3l-4.7 -7.5h9.3zM427.8 427.3l-4.7 -7.5h9.3zM428.8 427.4l-4.7 -7.5h9.3zM429.4 427.4l-4.7 -7.5h9.3zM429.9 427.5l-4.7 -7.5h9.3zM430.5 427.5l-4.7 -7.5h9.3zM431 427.5l-4.7 -7.5h9.3zM432.3 427.6l-4.7 -7.5h9.3zM432.8 427.6l-4.7 -7.5h9.3zM433.3 427.6l-4.7 -7.5h9.3zM433.7 427.7l-4.7 -7.5h9.3zM434.2 427.7l-4.7 -7.5h9.3zM435.8 427.8l-4.7 -7.5h9.3zM436.2 427.8l-4.7 -7.5h9.3zM436.6 427.8l-4.7 -7.5h9.3zM437 427.8l-4.7 -7.5h9.3zM437.3 427.8l-4.7 -7.5h9.3zM439.2 427.9l-4.7 -7.5h9.3zM439.6 427.9l-4.7 -7.5h9.3zM439.9 427.9l-4.7 -7.5h9.3zM440.2 427.9l-4.7 -7.5h9.3zM440.5 427.9l-4.7 -7.5h9.3zM442.7 427.9l-4.7 -7.5h9.3zM442.9 427.9l-4.7 -7.5h9.3zM443.2 427.9l-4.7 -7.5h9.3zM443.5 427.9l-4.7 -7.5h9.3zM443.7 427.9l-4.7 -7.5h9.3zM446.1 427.9l-4.7 -7.5h9.3zM446.3 427.9l-4.7 -7.5h9.3zM446.5 427.9l-4.7 -7.5h9.3zM446.7 427.9l-4.7 -7.5h9.3zM446.9 427.9l-4.7 -7.5h9.3zM449.6 427.8l-4.7 -7.5h9.3zM449.7 427.8l-4.7 -7.5h9.3zM449.9 427.8l-4.7 -7.5h9.3zM450 427.8l-4.7 -7.5h9.3zM450.1 427.8l-4.7 -7.5h9.3zM453 427.7l-4.7 -7.5h9.3zM453.1 427.7l-4.7 -7.5h9.3zM453.2 427.7l-4.7 -7.5h9.3zM453.3 427.7l-4.7 -7.5h9.3zM456.5 427.6l-4.7 -7.5h9.3zM459.7 427.7l-4.7 -7.5h9.3zM459.8 427.7l-4.7 -7.5h9.3zM459.9 427.7l-4.7 -7.5h9.3zM460 427.7l-4.7 -7.5h9.3zM462.9 427.8l-4.7 -7.5h9.3zM463 427.8l-4.7 -7.5h9.3zM463.1 427.8l-4.7 -7.5h9.3zM463.3 427.8l-4.7 -7.5h9.3zM463.4 427.8l-4.7 -7.5h9.3zM466.1 427.9l-4.7 -7.5h9.3zM466.3 427.9l-4.7 -7.5h9.3zM466.5 427.9l-4.7 -7.5h9.3zM466.7 427.9l-4.7 -7.5h9.3zM466.9 427.9l-4.7 -7.5h9.3zM469.3 427.9l-4.7 -7.5h9.3zM469.5 427.9l-4.7 -7.5h9.3zM469.8 427.9l-4.7 -7.5h9.3zM470.1 427.9l-4.7 -7.5h9.3zM470.3 427.9l-4.7 -7.5h9.3zM472.5 427.9l-4.7 -7.5h9.3zM472.8 427.9l-4.7 -7.5h9.3zM473.1 427.9l-4.7 -7.5h9.3zM473.4 427.9l-4.7 -7.5h9.3zM473.8 427.9l-4.7 -7.5h9.3zM475.7 427.8l-4.7 -7.5h9.3zM476 427.8l-4.7 -7.5h9.3zM476.4 427.8l-4.7 -7.5h9.3zM476.8 427.8l-4.7 -7.5h9.3zM477.2 427.8l-4.7 -7.5h9.3zM478.8 427.7l-4.7 -7.5h9.3zM479.3 427.7l-4.7 -7.5h9.3zM479.7 427.6l-4.7 -7.5h9.3zM480.2 427.6l-4.7 -7.5h9.3zM480.7 427.6l-4.7 -7.5h9.3zM482 427.5l-4.7 -7.5h9.3zM482.5 427.5l-4.7 -7.5h9.3zM483.1 427.5l-4.7 -7.5h9.3zM483.6 427.4l-4.7 -7.5h9.3zM484.2 427.4l-4.7 -7.5h9.3zM485.2 427.3l-4.7 -7.5h9.3zM485.8 427.3l-4.7 -7.5h9.3zM486.4 427.3l-4.7 -7.5h9.3zM487 427.2l-4.7 -7.5h9.3zM487.6 427.2l-4.7 -7.5h9.3zM488.4 427.1l-4.7 -7.5h9.3zM489 427l-4.7 -7.5h9.3zM489.7 427l-4.7 -7.5h9.3zM490.4 426.9l-4.7 -7.5h9.3zM491.1 426.8l-4.7 -7.5h9.3zM491.6 426.8l-4.7 -7.5h9.3zM492.3 426.7l-4.7 -7.5h9.3zM493 426.6l-4.7 -7.5h9.3zM493.8 426.5l-4.7 -7.5h9.3zM494.5 426.4l-4.7 -7.5h9.3zM494.8 426.3l-4.7 -7.5h9.3zM495.6 426.2l-4.7 -7.5h9.3zM496.3 426.1l-4.7 -7.5h9.3zM497.2 425.9l-4.7 -7.5h9.3zM498 425.7l-4.7 -7.5h9.3zM498.8 425.6l-4.7 -7.5h9.3zM499.7 425.4l-4.7 -7.5h9.3zM500.5 425.1l-4.7 -7.5h9.3zM501.2 425l-4.7 -7.5h9.3zM501.5 424.9l-4.7 -7.5h9.3zM502.1 424.7l-4.7 -7.5h9.3zM503 424.4l-4.7 -7.5h9.3zM503.9 424l-4.7 -7.5h9.3zM504.4 423.8l-4.7 -7.5h9.3zM504.9 423.6l-4.7 -7.5h9.3zM505.3 423.4l-4.7 -7.5h9.3zM506.3 423l-4.7 -7.5h9.3zM507.3 422.5l-4.7 -7.5h9.3zM507.6 422.4l-4.7 -7.5h9.3zM508.4 422l-4.7 -7.5h9.3zM508.6 421.9l-4.7 -7.5h9.3zM509.6 421.5l-4.7 -7.5h9.3zM510.7 421l-4.7 -7.5h9.3zM510.8 420.9l-4.7 -7.5h9.3zM511.8 420.4l-4.7 -7.5h9.3zM512.9 419.8l-4.7 -7.5h9.3zM514 419.2l-4.7 -7.5h9.3zM514.1 419.2l-4.7 -7.5h9.3zM515.1 418.6l-4.7 -7.5h9.3zM515.3 418.4l-4.7 -7.5h9.3zM516.3 417.8l-4.7 -7.5h9.3zM517.2 417.1l-4.7 -7.5h9.3zM517.5 416.9l-4.7 -7.5h9.3zM518.3 416.2l-4.7 -7.5h9.3zM518.8 415.8l-4.7 -7.5h9.3zM519.6 415.1l-4.7 -7.5h9.3zM520.3 414.4l-4.7 -7.5h9.3zM520.9 414l-4.7 -7.5h9.3zM521.6 413.3l-4.7 -7.5h9.3zM522.2 412.8l-4.7 -7.5h9.3zM522.9 412.1l-4.7 -7.5h9.3zM523.5 411.6l-4.7 -7.5h9.3zM524.3 410.9l-4.7 -7.5h9.3zM524.9 410.3l-4.7 -7.5h9.3zM525.7 409.6l-4.7 -7.5h9.3zM526.2 409l-4.7 -7.5h9.3zM526.7 408.5l-4.7 -7.5h9.3zM527.6 407.6l-4.7 -7.5h9.3zM528.1 407.2l-4.7 -7.5h9.3zM529.1 406.2l-4.7 -7.5h9.3zM529.5 405.8l-4.7 -7.5h9.3zM529.9 405.4l-4.7 -7.5h9.3zM531 404.3l-4.7 -7.5h9.3zM531.4 403.9l-4.7 -7.5h9.3zM532.6 402.7l-4.7 -7.5h9.3zM532.9 402.5l-4.7 -7.5h9.3zM533.1 402.2l-4.7 -7.5h9.3zM534.4 400.9l-4.7 -7.5h9.3zM534.6 400.8l-4.7 -7.5h9.3zM536 399.3l-4.7 -7.5h9.3zM536.2 399.2l-4.7 -7.5h9.3zM536.3 399.1l-4.7 -7.5h9.3zM537.8 397.5l-4.7 -7.5h9.3zM537.9 397.4l-4.7 -7.5h9.3zM539.5 395.6l-4.7 -7.5h9.3zM541.1 393.6l-4.7 -7.5h9.3zM541.2 393.6l-4.7 -7.5h9.3zM542.7 391.7l-4.7 -7.5h9.3zM542.8 391.5l-4.7 -7.5h9.3zM543 391.3l-4.7 -7.5h9.3zM544.4 389.2l-4.7 -7.5h9.3zM544.6 388.9l-4.7 -7.5h9.3zM545.9 386.6l-4.7 -7.5h9.3zM546.1 386.1l-4.7 -7.5h9.3zM546.4 385.5l-4.7 -7.5h9.3zM547.6 382.8l-4.7 -7.5h9.3zM548 382l-4.7 -7.5h9.3zM549.1 379.3l-4.7 -7.5h9.3zM549.5 378.3l-4.7 -7.5h9.3zM549.9 377.2l-4.7 -7.5h9.3zM550.9 374.3l-4.7 -7.5h9.3zM551.4 373l-4.7 -7.5h9.3zM552.3 370.3l-4.7 -7.5h9.3zM552.8 368.8l-4.7 -7.5h9.3zM553.3 367.1l-4.7 -7.5h9.3zM554.1 364.6l-4.7 -7.5h9.3zM554.7 362.6l-4.7 -7.5h9.3zM555.5 360.2l-4.7 -7.5h9.3zM556.1 357.9l-4.7 -7.5h9.3zM556.8 355.3l-4.7 -7.5h9.3zM557.4 352.8l-4.7 -7.5h9.3zM558.1 349.7l-4.7 -7.5h9.3zM558.7 347.3l-4.7 -7.5h9.3zM559.4 343.3l-4.7 -7.5h9.3zM560.2 338.7l-4.7 -7.5h9.3zM560.7 336.6l-4.7 -7.5h9.3zM561.5 332.3l-4.7 -7.5h9.3zM561.8 330.7l-4.7 -7.5h9.3zM562.7 326.3l-4.7 -7.5h9.3zM563.7 321.1l-4.7 -7.5h9.3zM563.9 320l-4.7 -7.5h9.3zM564.9 314.3l-4.7 -7.5h9.3zM565 313.5l-4.7 -7.5h9.3zM566.1 306.8l-4.7 -7.5h9.3zM567.2 298.9l-4.7 -7.5h9.3zM568.2 290.3l-4.7 -7.5h9.3zM568.3 289.7l-4.7 -7.5h9.3zM569.4 275.1l-4.7 -7.5h9.3zM570.4 264.6l-4.7 -7.5h9.3zM570.6 262.6l-4.7 -7.5h9.3zM571.4 253.4l-4.7 -7.5h9.3zM571.7 249.8l-4.7 -7.5h9.3zM572.7 234.3l-4.7 -7.5h9.3zM573.7 215.9l-4.7 -7.5h9.3zM574.1 207.2l-4.7 -7.5h9.3zM574.6 198.1l-4.7 -7.5h9.3zM575.1 190.8l-4.7 -7.5h9.3zM576 169.6l-4.7 -7.5h9.3zM576.9 152.5l-4.7 -7.5h9.3zM577.5 137.3l-4.7 -7.5h9.3zM577.8 132.6l-4.7 -7.5h9.3zM578.5 121.9l-4.7 -7.5h9.3zM579.3 98.4l-4.7 -7.5h9.3zM580.2 91.2l-4.7 -7.5h9.3zM581 88.2l-4.7 -7.5h9.3zM581.8 86.9l-4.7 -7.5h9.3zM582.7 91.1l-4.7 -7.5h9.3zM583.4 97.5l-4.7 -7.5h9.3zM584.2 112.5l-4.7 -7.5h9.3zM584.5 120.9l-4.7 -7.5h9.3zM585.2 138.2l-4.7 -7.5h9.3zM586 150.1l-4.7 -7.5h9.3zM586.7 162.8l-4.7 -7.5h9.3zM587.4 176.8l-4.7 -7.5h9.3zM587.9 188.2l-4.7 -7.5h9.3zM588.6 202.3l-4.7 -7.5h9.3zM589.3 214.9l-4.7 -7.5h9.3zM590 226.1l-4.7 -7.5h9.3zM590.6 236.5l-4.7 -7.5h9.3zM591.4 250.6l-4.7 -7.5h9.3zM592 262l-4.7 -7.5h9.3zM592.6 271.8l-4.7 -7.5h9.3zM593.2 280.3l-4.7 -7.5h9.3zM593.8 287.4l-4.7 -7.5h9.3zM594.8 299l-4.7 -7.5h9.3zM595.4 304l-4.7 -7.5h9.3zM595.9 308.2l-4.7 -7.5h9.3zM596.5 312.1l-4.7 -7.5h9.3zM597 315.6l-4.7 -7.5h9.3zM598.3 324.3l-4.7 -7.5h9.3zM598.8 327.3l-4.7 -7.5h9.3zM599.3 330.1l-4.7 -7.5h9.3zM599.7 332.7l-4.7 -7.5h9.3zM600.2 335.2l-4.7 -7.5h9.3zM601.8 342.3l-4.7 -7.5h9.3zM602.2 343.9l-4.7 -7.5h9.3zM602.6 345.4l-4.7 -7.5h9.3zM603 347l-4.7 -7.5h9.3zM603.3 348.6l-4.7 -7.5h9.3zM605.2 357.1l-4.7 -7.5h9.3zM605.6 358.7l-4.7 -7.5h9.3zM605.9 360.1l-4.7 -7.5h9.3zM606.2 361.5l-4.7 -7.5h9.3zM606.5 362.8l-4.7 -7.5h9.3zM608.7 370.5l-4.7 -7.5h9.3zM608.9 371.4l-4.7 -7.5h9.3zM609.2 372.2l-4.7 -7.5h9.3zM609.5 373l-4.7 -7.5h9.3zM609.7 373.7l-4.7 -7.5h9.3zM612.1 380.2l-4.7 -7.5h9.3zM612.3 380.7l-4.7 -7.5h9.3zM612.5 381.3l-4.7 -7.5h9.3zM612.7 381.8l-4.7 -7.5h9.3zM612.9 382.3l-4.7 -7.5h9.3zM615.6 388.7l-4.7 -7.5h9.3zM615.7 389l-4.7 -7.5h9.3zM615.9 389.2l-4.7 -7.5h9.3zM616 389.5l-4.7 -7.5h9.3zM616.1 389.7l-4.7 -7.5h9.3zM619 394.7l-4.7 -7.5h9.3zM619.1 394.8l-4.7 -7.5h9.3zM619.2 394.8l-4.7 -7.5h9.3zM619.2 394.9l-4.7 -7.5h9.3zM619.3 395l-4.7 -7.5h9.3zM622.5 398.5l-4.7 -7.5h9.3zM625.7 402.7l-4.7 -7.5h9.3zM625.8 402.8l-4.7 -7.5h9.3zM625.9 402.9l-4.7 -7.5h9.3zM626 403l-4.7 -7.5h9.3zM628.9 406.6l-4.7 -7.5h9.3zM629 406.7l-4.7 -7.5h9.3zM629.1 406.9l-4.7 -7.5h9.3zM629.3 407.1l-4.7 -7.5h9.3zM629.4 407.2l-4.7 -7.5h9.3zM632.1 410.5l-4.7 -7.5h9.3zM632.3 410.7l-4.7 -7.5h9.3zM632.5 411l-4.7 -7.5h9.3zM632.7 411.2l-4.7 -7.5h9.3zM632.9 411.4l-4.7 -7.5h9.3zM635.3 413.5l-4.7 -7.5h9.3zM635.5 413.7l-4.7 -7.5h9.3zM635.8 413.9l-4.7 -7.5h9.3zM636.1 414.1l-4.7 -7.5h9.3zM636.3 414.3l-4.7 -7.5h9.3zM638.5 415.9l-4.7 -7.5h9.3zM638.8 416.1l-4.7 -7.5h9.3zM639.1 416.3l-4.7 -7.5h9.3zM639.4 416.6l-4.7 -7.5h9.3zM639.8 416.8l-4.7 -7.5h9.3zM641.7 418l-4.7 -7.5h9.3zM642 418.2l-4.7 -7.5h9.3zM642.4 418.5l-4.7 -7.5h9.3zM642.8 418.7l-4.7 -7.5h9.3zM643.2 418.9l-4.7 -7.5h9.3zM644.8 419.8l-4.7 -7.5h9.3zM645.3 420l-4.7 -7.5h9.3zM645.7 420.3l-4.7 -7.5h9.3zM646.2 420.5l-4.7 -7.5h9.3zM646.7 420.8l-4.7 -7.5h9.3zM648 421.4l-4.7 -7.5h9.3zM648.5 421.7l-4.7 -7.5h9.3zM649.1 422l-4.7 -7.5h9.3zM649.6 422.3l-4.7 -7.5h9.3zM650.2 422.6l-4.7 -7.5h9.3zM651.2 423.1l-4.7 -7.5h9.3zM651.8 423.5l-4.7 -7.5h9.3zM652.4 423.8l-4.7 -7.5h9.3zM653 424.1l-4.7 -7.5h9.3zM653.6 424.5l-4.7 -7.5h9.3zM654.4 424.9l-4.7 -7.5h9.3zM655 425.3l-4.7 -7.5h9.3zM655.7 425.6l-4.7 -7.5h9.3zM656.4 425.9l-4.7 -7.5h9.3zM657.1 426.3l-4.7 -7.5h9.3zM657.6 426.5l-4.7 -7.5h9.3zM658.3 426.8l-4.7 -7.5h9.3zM659 427.1l-4.7 -7.5h9.3zM659.8 427.4l-4.7 -7.5h9.3zM660.5 427.7l-4.7 -7.5h9.3zM660.8 427.8l-4.7 -7.5h9.3zM661.6 428.1l-4.7 -7.5h9.3zM662.3 428.3l-4.7 -7.5h9.3zM663.2 428.6l-4.7 -7.5h9.3zM664 428.9l-4.7 -7.5h9.3zM664.8 429.1l-4.7 -7.5h9.3zM665.7 429.4l-4.7 -7.5h9.3zM666.5 429.7l-4.7 -7.5h9.3zM667.2 429.9l-4.7 -7.5h9.3zM667.5 430l-4.7 -7.5h9.3zM668.1 430.1l-4.7 -7.5h9.3zM669 430.4l-4.7 -7.5h9.3zM669.9 430.7l-4.7 -7.5h9.3zM670.4 430.8l-4.7 -7.5h9.3zM670.9 430.9l-4.7 -7.5h9.3zM671.3 431l-4.7 -7.5h9.3zM672.3 431.3l-4.7 -7.5h9.3zM673.3 431.6l-4.7 -7.5h9.3zM673.6 431.7l-4.7 -7.5h9.3zM674.4 431.9l-4.7 -7.5h9.3zM674.6 431.9l-4.7 -7.5h9.3zM675.6 432.2l-4.7 -7.5h9.3zM676.7 432.5l-4.7 -7.5h9.3zM676.8 432.5l-4.7 -7.5h9.3zM677.8 432.7l-4.7 -7.5h9.3zM678.9 433l-4.7 -7.5h9.3zM680 433.3l-4.7 -7.5h9.3zM680.1 433.3l-4.7 -7.5h9.3zM681.1 433.5l-4.7 -7.5h9.3zM681.3 433.6l-4.7 -7.5h9.3zM682.3 433.8l-4.7 -7.5h9.3zM683.2 434l-4.7 -7.5h9.3zM683.5 434.1l-4.7 -7.5h9.3zM684.3 434.2l-4.7 -7.5h9.3zM684.8 434.3l-4.7 -7.5h9.3zM685.6 434.5l-4.7 -7.5h9.3zM686.3 434.7l-4.7 -7.5h9.3zM686.9 434.8l-4.7 -7.5h9.3zM687.6 434.9l-4.7 -7.5h9.3zM688.2 435l-4.7 -7.5h9.3zM688.9 435.2l-4.7 -7.5h9.3zM689.5 435.3l-4.7 -7.5h9.3zM690.3 435.4l-4.7 -7.5h9.3zM690.9 435.5l-4.7 -7.5h9.3zM691.7 435.7l-4.7 -7.5h9.3zM692.2 435.8l-4.7 -7.5h9.3zM692.7 435.9l-4.7 -7.5h9.3zM693.6 436l-4.7 -7.5h9.3zM694.1 436.1l-4.7 -7.5h9.3zM695.1 436.3l-4.7 -7.5h9.3zM695.5 436.4l-4.7 -7.5h9.3zM695.9 436.4l-4.7 -7.5h9.3zM697 436.6l-4.7 -7.5h9.3zM697.4 436.7l-4.7 -7.5h9.3zM698.6 436.9l-4.7 -7.5h9.3zM698.9 437l-4.7 -7.5h9.3zM699.1 437l-4.7 -7.5h9.3zM700.4 437.3l-4.7 -7.5h9.3zM700.6 437.3l-4.7 -7.5h9.3zM702 437.6l-4.7 -7.5h9.3zM702.2 437.7l-4.7 -7.5h9.3zM702.3 437.7l-4.7 -7.5h9.3zM703.8 438l-4.7 -7.5h9.3zM703.9 438l-4.7 -7.5h9.3zM705.5 438.4l-4.7 -7.5h9.3zM707.1 438.8l-4.7 -7.5h9.3zM707.2 438.8l-4.7 -7.5h9.3zM708.7 439.1l-4.7 -7.5h9.3zM708.8 439.1l-4.7 -7.5h9.3zM709 439.1l-4.7 -7.5h9.3zM710.4 439.4l-4.7 -7.5h9.3zM710.6 439.4l-4.7 -7.5h9.3zM711.9 439.6l-4.7 -7.5h9.3zM712.1 439.7l-4.7 -7.5h9.3zM712.4 439.7l-4.7 -7.5h9.3zM713.6 439.9l-4.7 -7.5h9.3zM714 440l-4.7 -7.5h9.3zM715.1 440.1l-4.7 -7.5h9.3zM715.5 440.2l-4.7 -7.5h9.3zM715.9 440.2l-4.7 -7.5h9.3zM716.9 440.4l-4.7 -7.5h9.3zM717.4 440.4l-4.7 -7.5h9.3zM718.3 440.5l-4.7 -7.5h9.3zM718.8 440.6l-4.7 -7.5h9.3zM719.3 440.7l-4.7 -7.5h9.3zM720.1 440.8l-4.7 -7.5h9.3zM720.7 440.8l-4.7 -7.5h9.3zM721.5 440.9l-4.7 -7.5h9.3zM722.1 441l-4.7 -7.5h9.3zM722.8 441.1l-4.7 -7.5h9.3zM723.4 441.1l-4.7 -7.5h9.3zM724.1 441.2l-4.7 -7.5h9.3zM724.7 441.3l-4.7 -7.5h9.3zM725.4 441.4l-4.7 -7.5h9.3zM726.2 441.4l-4.7 -7.5h9.3zM726.7 441.5l-4.7 -7.5h9.3zM727.5 441.6l-4.7 -7.5h9.3zM727.8 441.6l-4.7 -7.5h9.3zM728.7 441.7l-4.7 -7.5h9.3zM729.7 441.8l-4.7 -7.5h9.3zM729.9 441.8l-4.7 -7.5h9.3zM730.9 441.9l-4.7 -7.5h9.3zM731 441.9l-4.7 -7.5h9.3zM732.1 441.9l-4.7 -7.5h9.3zM733.2 442l-4.7 -7.5h9.3zM734.2 442.1l-4.7 -7.5h9.3zM734.3 442.1l-4.7 -7.5h9.3zM735.4 442.2l-4.7 -7.5h9.3zM736.4 442.3l-4.7 -7.5h9.3zM736.6 442.3l-4.7 -7.5h9.3zM737.4 442.4l-4.7 -7.5h9.3zM737.7 442.4l-4.7 -7.5h9.3zM738.7 442.4l-4.7 -7.5h9.3zM739.7 442.5l-4.7 -7.5h9.3zM740.1 442.5l-4.7 -7.5h9.3zM740.6 442.6l-4.7 -7.5h9.3zM741.1 442.6l-4.7 -7.5h9.3zM742 442.7l-4.7 -7.5h9.3zM742.9 442.7l-4.7 -7.5h9.3zM743.5 442.7l-4.7 -7.5h9.3zM743.8 442.8l-4.7 -7.5h9.3zM744.5 442.8l-4.7 -7.5h9.3zM745.3 442.8l-4.7 -7.5h9.3zM746.2 442.9l-4.7 -7.5h9.3zM747 442.9l-4.7 -7.5h9.3zM747.8 443l-4.7 -7.5h9.3zM748.7 443l-4.7 -7.5h9.3zM749.4 443l-4.7 -7.5h9.3zM750.2 443l-4.7 -7.5h9.3zM750.5 443.1l-4.7 -7.5h9.3zM751.2 443.1l-4.7 -7.5h9.3zM752 443.1l-4.7 -7.5h9.3zM752.7 443.1l-4.7 -7.5h9.3zM753.4 443.1l-4.7 -7.5h9.3zM753.9 443.2l-4.7 -7.5h9.3zM754.6 443.2l-4.7 -7.5h9.3zM755.3 443.2l-4.7 -7.5h9.3zM756 443.2l-4.7 -7.5h9.3zM756.6 443.2l-4.7 -7.5h9.3zM757.4 443.2l-4.7 -7.5h9.3zM758 443.3l-4.7 -7.5h9.3zM758.6 443.3l-4.7 -7.5h9.3zM759.2 443.3l-4.7 -7.5h9.3zM759.8 443.3l-4.7 -7.5h9.3zM760.8 443.3l-4.7 -7.5h9.3zM761.4 443.3l-4.7 -7.5h9.3zM761.9 443.4l-4.7 -7.5h9.3zM762.5 443.4l-4.7 -7.5h9.3zM763 443.4l-4.7 -7.5h9.3zM764.3 443.4l-4.7 -7.5h9.3zM764.8 443.4l-4.7 -7.5h9.3zM765.3 443.4l-4.7 -7.5h9.3zM765.7 443.4l-4.7 -7.5h9.3zM766.2 443.4l-4.7 -7.5h9.3zM767.8 443.5l-4.7 -7.5h9.3zM768.2 443.5l-4.7 -7.5h9.3zM768.6 443.5l-4.7 -7.5h9.3zM769 443.5l-4.7 -7.5h9.3zM769.3 443.5l-4.7 -7.5h9.3zM771.2 443.5l-4.7 -7.5h9.3zM771.6 443.6l-4.7 -7.5h9.3zM771.9 443.6l-4.7 -7.5h9.3zM772.2 443.6l-4.7 -7.5h9.3zM772.5 443.6l-4.7 -7.5h9.3zM774.7 443.6l-4.7 -7.5h9.3zM774.9 443.6l-4.7 -7.5h9.3zM775.2 443.6l-4.7 -7.5h9.3zM775.5 443.6l-4.7 -7.5h9.3zM775.7 443.6l-4.7 -7.5h9.3zM778.1 443.7l-4.7 -7.5h9.3zM778.3 443.7l-4.7 -7.5h9.3zM778.5 443.7l-4.7 -7.5h9.3zM778.7 443.7l-4.7 -7.5h9.3zM778.9 443.7l-4.7 -7.5h9.3zM781.6 443.7l-4.7 -7.5h9.3zM781.7 443.7l-4.7 -7.5h9.3zM781.9 443.7l-4.7 -7.5h9.3zM782 443.7l-4.7 -7.5h9.3zM782.1 443.7l-4.7 -7.5h9.3zM785 443.8l-4.7 -7.5h9.3zM785.1 443.8l-4.7 -7.5h9.3zM785.2 443.8l-4.7 -7.5h9.3zM785.3 443.8l-4.7 -7.5h9.3z" fill="none" stroke="#9400d3" stroke-width="1.1" stroke-linejoin="miter"/>
<path d="M124.5 438.6h0M127.7 438.6h0M127.8 438.6h0M127.9 438.6h0M128 438.6h0M130.9 438.5h0M131 438.5h0M131.1 438.5h0M131.3 438.5h0M131.4 438.5h0M134.1 438.5h0M134.3 438.5h0M134.5 438.5h0M134.7 438.5h0M134.9 438.5h0M137.3 438.4h0M137.5 438.4h0M137.8 438.4h0M138.1 438.4h0M138.3 438.4h0M140.5 438.4h0M140.8 438.4h0M141.1 438.4h0M141.4 438.4h0M141.8 438.3h0M143.7 438.3h0M144 438.3h0M144.4 438.3h0M144.8 438.3h0M145.2 438.3h0M146.8 438.2h0M147.3 438.2h0M147.7 438.2h0M148.2 438.2h0M148.7 438.2h0M150 438.2h0M150.5 438.2h0M151.1 438.2h0M151.6 438.1h0M152.2 438.1h0M153.2 438.1h0M153.8 438.1h0M154.4 438.1h0M155 438.1h0M155.6 438h0M156.4 438h0M157 438h0M157.7 438h0M158.4 438h0M159.1 438h0M159.6 437.9h0M160.3 437.9h0M161 437.9h0M161.8 437.9h0M162.5 437.9h0M162.8 437.8h0M163.6 437.8h0M164.3 437.8h0M165.2 437.8h0M166 437.7h0M166.8 437.7h0M167.7 437.6h0M168.5 437.6h0M169.2 437.6h0M169.5 437.5h0M170.1 437.5h0M171 437.5h0M171.9 437.4h0M172.4 437.4h0M172.9 437.3h0M173.3 437.3h0M174.3 437.2h0M175.3 437.2h0M175.6 437.2h0M176.4 437.1h0M176.6 437.1h0M177.6 437h0M178.7 436.9h0M178.8 436.9h0M179.8 436.8h0M180.9 436.7h0M182 436.7h0M182.1 436.7h0M183.1 436.6h0M183.3 436.6h0M184.3 436.5h0M185.2 436.4h0M185.5 436.4h0M186.3 436.3h0M186.8 436.2h0M187.6 436.2h0M188.3 436.1h0M188.9 436h0M189.6 435.9h0M190.2 435.9h0M190.9 435.8h0M191.5 435.7h0M192.3 435.6h0M192.9 435.6h0M193.7 435.5h0M194.2 435.4h0M194.7 435.3h0M195.6 435.2h0M196.1 435.2h0M197.1 435h0M197.5 435h0M197.9 434.9h0M199 434.8h0M199.4 434.7h0M200.6 434.5h0M200.9 434.5h0M201.1 434.4h0M202.4 434.2h0M202.6 434.2h0M204 433.9h0M204.2 433.9h0M204.3 433.9h0M205.8 433.6h0M205.9 433.6h0M207.5 433.2h0M209.1 432.8h0M209.2 432.8h0M210.7 432.5h0M210.8 432.5h0M211 432.4h0M212.4 432.1h0M212.6 432.1h0M213.9 431.8h0M214.1 431.8h0M214.4 431.7h0M215.6 431.5h0M216 431.4h0M217.1 431.2h0M217.5 431.2h0M217.9 431.1h0M218.9 430.9h0M219.4 430.8h0M220.3 430.7h0M220.8 430.6h0M221.3 430.5h0M222.1 430.3h0M222.7 430.2h0M223.5 430.1h0M224.1 430h0M224.8 429.8h0M225.4 429.7h0M226.1 429.6h0M226.7 429.5h0M227.4 429.3h0M228.2 429.1h0M228.7 429h0M229.5 428.9h0M229.8 428.8h0M230.7 428.6h0M231.7 428.4h0M231.9 428.3h0M232.9 428.1h0M233 428.1h0M234.1 427.8h0M235.2 427.5h0M236.2 427.3h0M236.3 427.3h0M237.4 427h0M238.4 426.7h0M238.6 426.7h0M239.4 426.5h0M239.7 426.4h0M240.7 426.1h0M241.7 425.8h0M242.1 425.7h0M242.6 425.6h0M243.1 425.5h0M244 425.2h0M244.9 424.9h0M245.5 424.8h0M245.8 424.7h0M246.5 424.5h0M247.3 424.2h0M248.2 423.9h0M249 423.7h0M249.8 423.4h0M250.7 423.1h0M251.4 422.9h0M252.2 422.6h0M252.5 422.5h0M253.2 422.2h0M254 421.9h0M254.7 421.6h0M255.4 421.3h0M255.9 421.1h0M256.6 420.7h0M257.3 420.4h0M258 420.1h0M258.6 419.7h0M259.4 419.3h0M260 418.9h0M260.6 418.6h0M261.2 418.3h0M261.8 417.9h0M262.8 417.4h0M263.4 417.1h0M263.9 416.8h0M264.5 416.5h0M265 416.2h0M266.3 415.6h0M266.8 415.3h0M267.3 415.1h0M267.7 414.8h0M268.2 414.6h0M269.8 413.7h0M270.2 413.5h0M270.6 413.3h0M271 413h0M271.3 412.8h0M273.2 411.6h0M273.6 411.4h0M273.9 411.1h0M274.2 410.9h0M274.5 410.7h0M276.7 409.1h0M276.9 408.9h0M277.2 408.7h0M277.5 408.5h0M277.7 408.3h0M280.1 406.2h0M280.3 406h0M280.5 405.8h0M280.7 405.5h0M280.9 405.3h0M283.6 402h0M283.7 401.9h0M283.9 401.7h0M284 401.5h0M284.1 401.4h0M287 397.8h0M287.1 397.7h0M287.2 397.6h0M287.3 397.5h0M290.5 393.3h0M293.7 389.8h0M293.8 389.6h0M293.8 389.7h0M293.9 389.6h0M294 389.5h0M296.9 384.5h0M297 384.3h0M297.1 384h0M297.3 383.8h0M297.4 383.5h0M300.1 377.1h0M300.3 376.6h0M300.5 376.1h0M300.7 375.5h0M300.9 375h0M303.3 368.5h0M303.5 367.8h0M303.8 367h0M304.1 366.2h0M304.3 365.3h0M306.5 357.6h0M306.8 356.3h0M307.1 354.9h0M307.4 353.5h0M307.8 351.9h0M309.7 343.4h0M310 341.8h0M310.4 340.2h0M310.8 338.7h0M311.2 337.1h0M312.8 330h0M313.3 327.5h0M313.7 324.9h0M314.2 322.1h0M314.7 319.1h0M316 310.4h0M316.5 306.9h0M317.1 303h0M317.6 298.8h0M318.2 293.8h0M319.2 282.2h0M319.8 275.1h0M320.4 266.6h0M321 256.8h0M321.6 245.4h0M322.4 231.3h0M323 220.9h0M323.7 209.7h0M324.4 197.1h0M325.1 183h0M325.6 171.6h0M326.3 157.6h0M327 144.9h0M327.8 133h0M328.5 115.7h0M328.8 107.3h0M329.6 92.3h0M330.3 85.9h0M331.2 81.7h0M332 83h0M332.8 86h0M333.7 93.2h0M334.5 116.7h0M335.2 127.4h0M335.5 132.1h0M336.1 147.3h0M337 164.4h0M337.9 185.6h0M338.4 192.9h0M338.9 202h0M339.3 210.7h0M340.3 229.1h0M341.3 244.6h0M341.6 248.2h0M342.4 257.4h0M342.6 259.4h0M343.6 269.9h0M344.7 284.5h0M344.8 285.1h0M345.8 293.7h0M346.9 301.6h0M348 308.3h0M348.1 309.1h0M349.1 314.8h0M349.3 315.9h0M350.3 321.1h0M351.2 325.5h0M351.5 327.1h0M352.3 331.4h0M352.8 333.5h0M353.6 338.1h0M354.3 342.1h0M354.9 344.5h0M355.6 347.6h0M356.2 350.1h0M356.9 352.7h0M357.5 355h0M358.3 357.4h0M358.9 359.4h0M359.7 361.9h0M360.2 363.6h0M360.7 365.1h0M361.6 367.8h0M362.1 369.1h0M363.1 372h0M363.5 373.1h0M363.9 374.1h0M365 376.8h0M365.4 377.6h0M366.6 380.3h0M366.9 380.9h0M367.1 381.4h0M368.4 383.7h0M368.6 384h0M370 386.1h0M370.2 386.3h0M370.3 386.5h0M371.8 388.4h0M371.9 388.4h0M373.5 390.4h0M375.1 392.2h0M375.2 392.3h0M376.7 393.9h0M376.8 394h0M377 394.1h0M378.4 395.6h0M378.6 395.7h0M379.9 397h0M380.1 397.3h0M380.4 397.5h0M381.6 398.7h0M382 399.1h0M383.1 400.2h0M383.5 400.6h0M383.9 401h0M384.9 402h0M385.4 402.4h0M386.3 403.3h0M386.8 403.8h0M387.3 404.4h0M388.1 405.1h0M388.7 405.7h0M389.5 406.4h0M390.1 406.9h0M390.8 407.6h0M391.4 408.1h0M392.1 408.8h0M392.7 409.2h0M393.4 409.9h0M394.2 410.6h0M394.7 411h0M395.5 411.7h0M395.8 411.9h0M396.7 412.6h0M397.7 413.2h0M397.9 413.4h0M398.9 414h0M399 414h0M400.1 414.6h0M401.2 415.2h0M402.2 415.7h0M402.3 415.8h0M403.4 416.3h0M404.4 416.7h0M404.6 416.8h0M405.4 417.2h0M405.7 417.3h0M406.7 417.8h0M407.7 418.2h0M408.1 418.4h0M408.6 418.6h0M409.1 418.8h0M410 419.2h0M410.9 419.5h0M411.5 419.7h0M411.8 419.8h0M412.5 419.9h0M413.3 420.2h0M414.2 420.4h0M415 420.5h0M415.8 420.7h0M416.7 420.9h0M417.4 421h0M418.2 421.1h0M418.5 421.2h0M419.2 421.3h0M420 421.4h0M420.7 421.5h0M421.4 421.6h0M421.9 421.6h0M422.6 421.7h0M423.3 421.8h0M424 421.8h0M424.6 421.9h0M425.4 422h0M426 422h0M426.6 422.1h0M427.2 422.1h0M427.8 422.1h0M428.8 422.2h0M429.4 422.2h0M429.9 422.3h0M430.5 422.3h0M431 422.3h0M432.3 422.4h0M432.8 422.4h0M433.3 422.4h0M433.7 422.5h0M434.2 422.5h0M435.8 422.6h0M436.2 422.6h0M436.6 422.6h0M437 422.6h0M437.3 422.6h0M439.2 422.7h0M439.6 422.7h0M439.9 422.7h0M440.2 422.7h0M440.5 422.7h0M442.7 422.7h0M442.9 422.7h0M443.2 422.7h0M443.5 422.7h0M443.7 422.7h0M446.1 422.7h0M446.3 422.7h0M446.5 422.7h0M446.7 422.7h0M446.9 422.7h0M449.6 422.6h0M449.7 422.6h0M449.9 422.6h0M450 422.6h0M450.1 422.6h0M453 422.5h0M453.1 422.5h0M453.2 422.5h0M453.3 422.5h0M456.5 422.4h0M459.7 422.5h0M459.8 422.5h0M459.9 422.5h0M460 422.5h0M462.9 422.6h0M463 422.6h0M463.1 422.6h0M463.3 422.6h0M463.4 422.6h0M466.1 422.7h0M466.3 422.7h0M466.5 422.7h0M466.7 422.7h0M466.9 422.7h0M469.3 422.7h0M469.5 422.7h0M469.8 422.7h0M470.1 422.7h0M470.3 422.7h0M472.5 422.7h0M472.8 422.7h0M473.1 422.7h0M473.4 422.7h0M473.8 422.7h0M475.7 422.6h0M476 422.6h0M476.4 422.6h0M476.8 422.6h0M477.2 422.6h0M478.8 422.5h0M479.3 422.5h0M479.7 422.4h0M480.2 422.4h0M480.7 422.4h0M482 422.3h0M482.5 422.3h0M483.1 422.3h0M483.6 422.2h0M484.2 422.2h0M485.2 422.1h0M485.8 422.1h0M486.4 422.1h0M487 422h0M487.6 422h0M488.4 421.9h0M489 421.8h0M489.7 421.8h0M490.4 421.7h0M491.1 421.6h0M491.6 421.6h0M492.3 421.5h0M493 421.4h0M493.8 421.3h0M494.5 421.2h0M494.8 421.1h0M495.6 421h0M496.3 420.9h0M497.2 420.7h0M498 420.5h0M498.8 420.4h0M499.7 420.2h0M500.5 419.9h0M501.2 419.8h0M501.5 419.7h0M502.1 419.5h0M503 419.2h0M503.9 418.8h0M504.4 418.6h0M504.9 418.4h0M505.3 418.2h0M506.3 417.8h0M507.3 417.3h0M507.6 417.2h0M508.4 416.8h0M508.6 416.7h0M509.6 416.3h0M510.7 415.8h0M510.8 415.7h0M511.8 415.2h0M512.9 414.6h0M514 414h0M514.1 414h0M515.1 413.4h0M515.3 413.2h0M516.3 412.6h0M517.2 411.9h0M517.5 411.7h0M518.3 411h0M518.8 410.6h0M519.6 409.9h0M520.3 409.2h0M520.9 408.8h0M521.6 408.1h0M522.2 407.6h0M522.9 406.9h0M523.5 406.4h0M524.3 405.7h0M524.9 405.1h0M525.7 404.4h0M526.2 403.8h0M526.7 403.3h0M527.6 402.4h0M528.1 402h0M529.1 401h0M529.5 400.6h0M529.9 400.2h0M531 399.1h0M531.4 398.7h0M532.6 397.5h0M532.9 397.3h0M533.1 397h0M534.4 395.7h0M534.6 395.6h0M536 394.1h0M536.2 394h0M536.3 393.9h0M537.8 392.3h0M537.9 392.2h0M539.5 390.4h0M541.1 388.4h0M541.2 388.4h0M542.7 386.5h0M542.8 386.3h0M543 386.1h0M544.4 384h0M544.6 383.7h0M545.9 381.4h0M546.1 380.9h0M546.4 380.3h0M547.6 377.6h0M548 376.8h0M549.1 374.1h0M549.5 373.1h0M549.9 372h0M550.9 369.1h0M551.4 367.8h0M552.3 365.1h0M552.8 363.6h0M553.3 361.9h0M554.1 359.4h0M554.7 357.4h0M555.5 355h0M556.1 352.7h0M556.8 350.1h0M557.4 347.6h0M558.1 344.5h0M558.7 342.1h0M559.4 338.1h0M560.2 333.5h0M560.7 331.4h0M561.5 327.1h0M561.8 325.5h0M562.7 321.1h0M563.7 315.9h0M563.9 314.8h0M564.9 309.1h0M565 308.3h0M566.1 301.6h0M567.2 293.7h0M568.2 285.1h0M568.3 284.5h0M569.4 269.9h0M570.4 259.4h0M570.6 257.4h0M571.4 248.2h0M571.7 244.6h0M572.7 229.1h0M573.7 210.7h0M574.1 202h0M574.6 192.9h0M575.1 185.6h0M576 164.4h0M576.9 147.3h0M577.5 132.1h0M577.8 127.4h0M578.5 116.7h0M579.3 93.2h0M580.2 86h0M581 83h0M581.8 81.7h0M582.7 85.9h0M583.4 92.3h0M584.2 107.3h0M584.5 115.7h0M585.2 133h0M586 144.9h0M586.7 157.6h0M587.4 171.6h0M587.9 183h0M588.6 197.1h0M589.3 209.7h0M590 220.9h0M590.6 231.3h0M591.4 245.4h0M592 256.8h0M592.6 266.6h0M593.2 275.1h0M593.8 282.2h0M594.8 293.8h0M595.4 298.8h0M595.9 303h0M596.5 306.9h0M597 310.4h0M598.3 319.1h0M598.8 322.1h0M599.3 324.9h0M599.7 327.5h0M600.2 330h0M601.8 337.1h0M602.2 338.7h0M602.6 340.2h0M603 341.8h0M603.3 343.4h0M605.2 351.9h0M605.6 353.5h0M605.9 354.9h0M606.2 356.3h0M606.5 357.6h0M608.7 365.3h0M608.9 366.2h0M609.2 367h0M609.5 367.8h0M609.7 368.5h0M612.1 375h0M612.3 375.5h0M612.5 376.1h0M612.7 376.6h0M612.9 377.1h0M615.6 383.5h0M615.7 383.8h0M615.9 384h0M616 384.3h0M616.1 384.5h0M619 389.5h0M619.1 389.6h0M619.2 389.6h0M619.2 389.7h0M619.3 389.8h0M622.5 393.3h0M625.7 397.5h0M625.8 397.6h0M625.9 397.7h0M626 397.8h0M628.9 401.4h0M629 401.5h0M629.1 401.7h0M629.3 401.9h0M629.4 402h0M632.1 405.3h0M632.3 405.5h0M632.5 405.8h0M632.7 406h0M632.9 406.2h0M635.3 408.3h0M635.5 408.5h0M635.8 408.7h0M636.1 408.9h0M636.3 409.1h0M638.5 410.7h0M638.8 410.9h0M639.1 411.1h0M639.4 411.4h0M639.8 411.6h0M641.7 412.8h0M642 413h0M642.4 413.3h0M642.8 413.5h0M643.2 413.7h0M644.8 414.6h0M645.3 414.8h0M645.7 415.1h0M646.2 415.3h0M646.7 415.6h0M648 416.2h0M648.5 416.5h0M649.1 416.8h0M649.6 417.1h0M650.2 417.4h0M651.2 417.9h0M651.8 418.3h0M652.4 418.6h0M653 418.9h0M653.6 419.3h0M654.4 419.7h0M655 420.1h0M655.7 420.4h0M656.4 420.7h0M657.1 421.1h0M657.6 421.3h0M658.3 421.6h0M659 421.9h0M659.8 422.2h0M660.5 422.5h0M660.8 422.6h0M661.6 422.9h0M662.3 423.1h0M663.2 423.4h0M664 423.7h0M664.8 423.9h0M665.7 424.2h0M666.5 424.5h0M667.2 424.7h0M667.5 424.8h0M668.1 424.9h0M669 425.2h0M669.9 425.5h0M670.4 425.6h0M670.9 425.7h0M671.3 425.8h0M672.3 426.1h0M673.3 426.4h0M673.6 426.5h0M674.4 426.7h0M674.6 426.7h0M675.6 427h0M676.7 427.3h0M676.8 427.3h0M677.8 427.5h0M678.9 427.8h0M680 428.1h0M680.1 428.1h0M681.1 428.3h0M681.3 428.4h0M682.3 428.6h0M683.2 428.8h0M683.5 428.9h0M684.3 429h0M684.8 429.1h0M685.6 429.3h0M686.3 429.5h0M686.9 429.6h0M687.6 429.7h0M688.2 429.8h0M688.9 430h0M689.5 430.1h0M690.3 430.2h0M690.9 430.3h0M691.7 430.5h0M692.2 430.6h0M692.7 430.7h0M693.6 430.8h0M694.1 430.9h0M695.1 431.1h0M695.5 431.2h0M695.9 431.2h0M697 431.4h0M697.4 431.5h0M698.6 431.7h0M698.9 431.8h0M699.1 431.8h0M700.4 432.1h0M700.6 432.1h0M702 432.4h0M702.2 432.5h0M702.3 432.5h0M703.8 432.8h0M703.9 432.8h0M705.5 433.2h0M707.1 433.6h0M707.2 433.6h0M708.7 433.9h0M708.8 433.9h0M709 433.9h0M710.4 434.2h0M710.6 434.2h0M711.9 434.4h0M712.1 434.5h0M712.4 434.5h0M713.6 434.7h0M714 434.8h0M715.1 434.9h0M715.5 435h0M715.9 435h0M716.9 435.2h0M717.4 435.2h0M718.3 435.3h0M718.8 435.4h0M719.3 435.5h0M720.1 435.6h0M720.7 435.6h0M721.5 435.7h0M722.1 435.8h0M722.8 435.9h0M723.4 435.9h0M724.1 436h0M724.7 436.1h0M725.4 436.2h0M726.2 436.2h0M726.7 436.3h0M727.5 436.4h0M727.8 436.4h0M728.7 436.5h0M729.7 436.6h0M729.9 436.6h0M730.9 436.7h0M731 436.7h0M732.1 436.7h0M733.2 436.8h0M734.2 436.9h0M734.3 436.9h0M735.4 437h0M736.4 437.1h0M736.6 437.1h0M737.4 437.2h0M737.7 437.2h0M738.7 437.2h0M739.7 437.3h0M740.1 437.3h0M740.6 437.4h0M741.1 437.4h0M742 437.5h0M742.9 437.5h0M743.5 437.5h0M743.8 437.6h0M744.5 437.6h0M745.3 437.6h0M746.2 437.7h0M747 437.7h0M747.8 437.8h0M748.7 437.8h0M749.4 437.8h0M750.2 437.8h0M750.5 437.9h0M751.2 437.9h0M752 437.9h0M752.7 437.9h0M753.4 437.9h0M753.9 438h0M754.6 438h0M755.3 438h0M756 438h0M756.6 438h0M757.4 438h0M758 438.1h0M758.6 438.1h0M759.2 438.1h0M759.8 438.1h0M760.8 438.1h0M761.4 438.1h0M761.9 438.2h0M762.5 438.2h0M763 438.2h0M764.3 438.2h0M764.8 438.2h0M765.3 438.2h0M765.7 438.2h0M766.2 438.2h0M767.8 438.3h0M768.2 438.3h0M768.6 438.3h0M769 438.3h0M769.3 438.3h0M771.2 438.3h0M771.6 438.4h0M771.9 438.4h0M772.2 438.4h0M772.5 438.4h0M774.7 438.4h0M774.9 438.4h0M775.2 438.4h0M775.5 438.4h0M775.7 438.4h0M778.1 438.5h0M778.3 438.5h0M778.5 438.5h0M778.7 438.5h0M778.9 438.5h0M781.6 438.5h0M781.7 438.5h0M781.9 438.5h0M782 438.5h0M782.1 438.5h0M785 438.6h0M785.1 438.6h0M785.2 438.6h0M785.3 438.6h0" fill="none" stroke="#9400d3" stroke-width="1" stroke-linecap="round"/>
</g>
<path d="M124.5 476.1h7.4 M788.5 476.1h-7.4M124.5 422.5h3.7 M788.5 422.5h-3.7M124.5 368.8h7.4 M788.5 368.8h-7.4M124.5 315.1h3.7 M788.5 315.1h-3.7M124.5 261.4h7.4 M788.5 261.4h-7.4M124.5 207.7h3.7 M788.5 207.7h-3.7M124.5 154h7.4 M788.5 154h-7.4M124.5 100.3h3.7 M788.5 100.3h-3.7M124.5 46.6h7.4 M788.5 46.6h-7.4M124.5 476.3v-7.4 M124.5 46.5v7.4M290.5 476.3v-7.4 M290.5 46.5v7.4M456.5 476.3v-7.4 M456.5 46.5v7.4M622.5 476.3v-7.4 M622.5 46.5v7.4M788.5 476.3v-7.4 M788.5 46.5v7.4" stroke="#000" stroke-width="1.35" fill="none"/>
<rect x="124.5" y="46.5" width="664" height="429.8" fill="none" stroke="#000" stroke-width="3"/>
<g id="labels" style="opacity:0.999">
<text x="105.5" y="488" text-anchor="end" font-size="36">0</text>
<text x="105.5" y="380.6" text-anchor="end" font-size="36">2</text>
<text x="105.5" y="273.2" text-anchor="end" font-size="36">4</text>
<text x="105.5" y="165.9" text-anchor="end" font-size="36">6</text>
<text x="105.5" y="58.5" text-anchor="end" font-size="36">8</text>
<text x="123.7" y="520.4" text-anchor="middle" font-size="36" letter-spacing="-0.6">-1</text>
<text x="290" y="520.4" text-anchor="middle" font-size="36" letter-spacing="-0.6">-0.5</text>
<text x="456.8" y="520.4" text-anchor="middle" font-size="36" letter-spacing="-0.6"> 0</text>
<text x="622.2" y="520.4" text-anchor="middle" font-size="36" letter-spacing="-0.6"> 0.5</text>
<text x="788.8" y="520.4" text-anchor="middle" font-size="36" letter-spacing="-0.6"> 1</text>
<text x="421" y="570.5" font-size="40"><tspan font-style="italic">k</tspan> <tspan fill-opacity="0">/ π</tspan></text>
<path fill="#000" d="M448.6 570.8L451.7 570.8L460.7 543.1L457.7 543.1Z"/>
<path fill="#000" d="M470.3 556.6C471.5 552.5 473.5 550.1 476.5 550.1L491.3 550.1L491.3 553.4L485.8 553.4C485.5 558 485.3 563 485.5 565.6C485.7 567.8 487 568.2 488.2 567.6C489.5 566.9 490.5 565.6 491 564L491.9 564.3C491.3 568 489 570.8 486.3 570.8C483.3 570.9 482.1 568.5 482.2 565C482.3 561 482.6 557 482.8 553.4L479.5 553.4C479.3 560 478.5 566 476.8 569C475.8 570.8 473.8 571.2 472.6 570.2C471.2 569 471.5 566.6 473.4 566.2C475 566 475.6 567 476 565.5C476.8 562 477.1 557 477.1 553.4L475.8 553.4C473.5 553.4 472.2 554.5 471.2 556.9Z"/>
<text transform="translate(45 299.1) rotate(-90)" font-size="40"><tspan font-style="italic" font-size="42.5">S</tspan><tspan dx="-1.2"> </tspan>(<tspan font-style="italic">k</tspan>)</text>
</g>
</svg>
</body></html>
